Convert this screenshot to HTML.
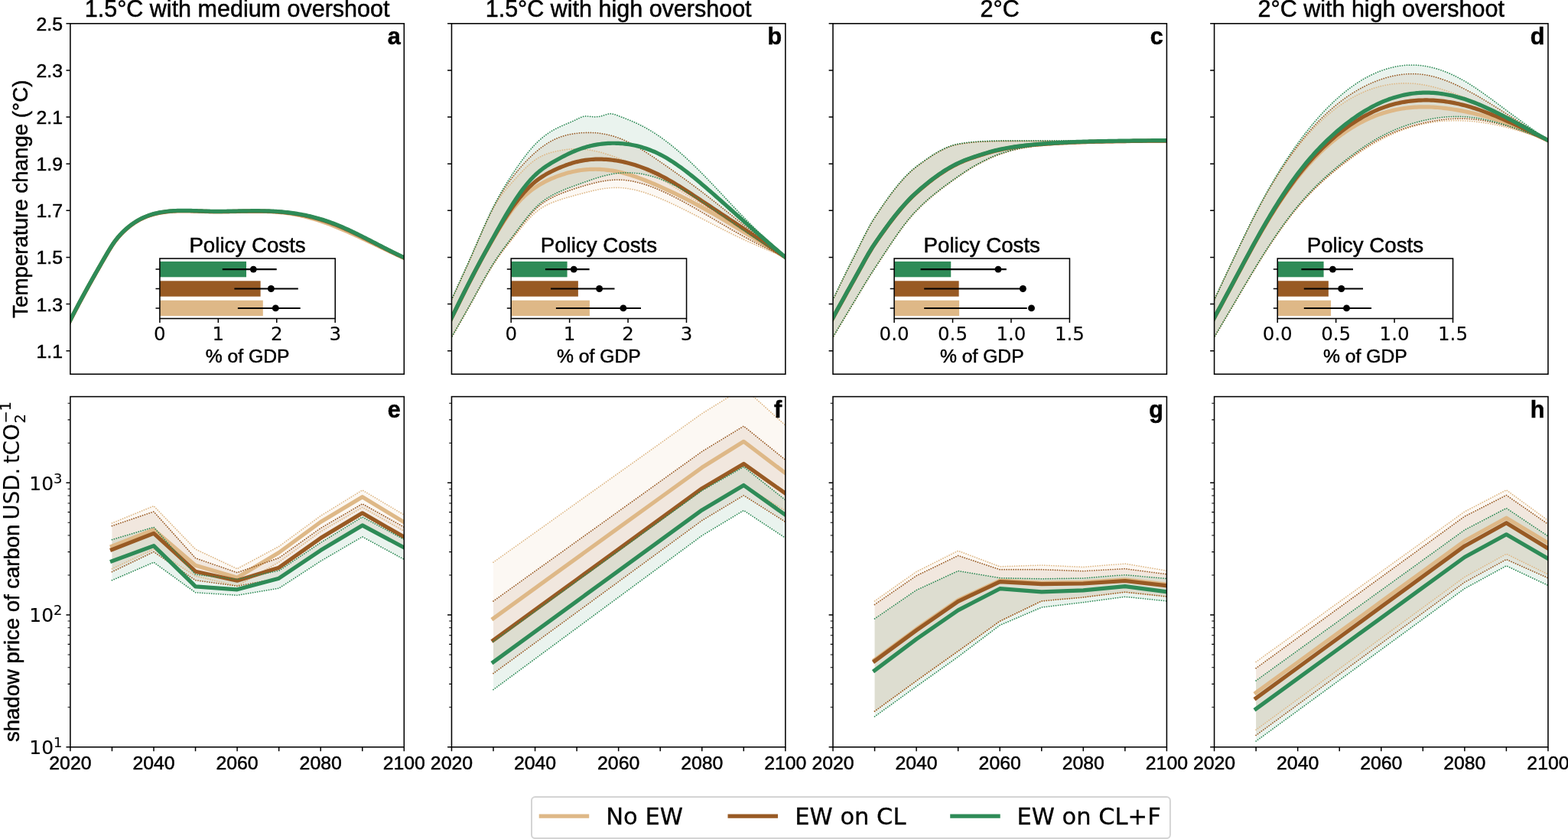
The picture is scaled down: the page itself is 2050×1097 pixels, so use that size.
<!DOCTYPE html>
<html lang="en"><head><meta charset="utf-8"><title>Temperature change and shadow price of carbon</title>
<style>html,body{margin:0;padding:0;background:#fff}body{width:2050px;height:1097px;overflow:hidden}svg{display:block}text{white-space:pre}</style></head><body>
<svg width="2050" height="1097" viewBox="0 0 2050 1097">
<rect width="2050" height="1097" fill="#fff"/>
<defs><clipPath id="ct0"><rect x="91.9" y="30.8" width="436.4" height="458.4"/></clipPath><clipPath id="cb0"><rect x="91.9" y="518.6" width="436.4" height="458.2"/></clipPath><clipPath id="ct1"><rect x="590.45" y="30.8" width="436.4" height="458.4"/></clipPath><clipPath id="cb1"><rect x="590.45" y="518.6" width="436.4" height="458.2"/></clipPath><clipPath id="ct2"><rect x="1089" y="30.8" width="436.4" height="458.4"/></clipPath><clipPath id="cb2"><rect x="1089" y="518.6" width="436.4" height="458.2"/></clipPath><clipPath id="ct3"><rect x="1587.55" y="30.8" width="436.4" height="458.4"/></clipPath><clipPath id="cb3"><rect x="1587.55" y="518.6" width="436.4" height="458.2"/></clipPath></defs>
<g clip-path="url(#ct0)" fill="none">
<polyline points="87.9,426.78 91.9,418.95 93.72,415.39 95.54,411.85 97.36,408.35 99.17,404.87 100.99,401.42 102.81,397.99 104.63,394.58 106.45,391.2 108.27,387.84 110.08,384.49 111.9,381.17 113.72,377.87 115.54,374.59 117.36,371.32 119.18,368.07 120.99,364.83 122.81,361.61 124.63,358.4 126.45,355.21 128.27,352.02 130.09,348.85 131.9,345.69 133.72,342.54 135.54,339.39 137.36,336.25 139.18,333.13 141,330.03 142.81,327 144.63,324.05 146.45,321.21 148.27,318.5 150.09,315.95 151.91,313.54 153.72,311.27 155.54,309.14 157.36,307.11 159.18,305.2 161,303.38 162.81,301.65 164.63,300 166.45,298.42 168.27,296.91 170.09,295.48 171.91,294.11 173.72,292.81 175.54,291.57 177.36,290.4 179.18,289.28 181,288.23 182.82,287.24 184.63,286.3 186.45,285.41 188.27,284.58 190.09,283.8 191.91,283.07 193.73,282.39 195.54,281.75 197.36,281.15 199.18,280.6 201,280.08 202.82,279.61 204.64,279.17 206.45,278.77 208.27,278.4 210.09,278.06 211.91,277.75 213.73,277.47 215.55,277.21 217.37,276.98 219.18,276.78 221,276.59 222.82,276.43 224.64,276.29 226.46,276.17 228.27,276.07 230.09,275.98 231.91,275.91 233.73,275.86 235.55,275.83 237.37,275.8 239.19,275.79 241,275.79 242.82,275.81 244.64,275.83 246.46,275.86 248.28,275.9 250.09,275.94 251.91,275.99 253.73,276.05 255.55,276.11 257.37,276.17 259.19,276.24 261,276.3 262.82,276.37 264.64,276.43 266.46,276.49 268.28,276.55 270.1,276.6 271.91,276.65 273.73,276.69 275.55,276.73 277.37,276.76 279.19,276.78 281.01,276.79 282.82,276.8 284.64,276.81 286.46,276.8 288.28,276.8 290.1,276.79 291.92,276.77 293.74,276.76 295.55,276.74 297.37,276.71 299.19,276.69 301.01,276.66 302.83,276.63 304.64,276.6 306.46,276.56 308.28,276.53 310.1,276.5 311.92,276.47 313.74,276.43 315.55,276.4 317.37,276.37 319.19,276.35 321.01,276.32 322.83,276.3 324.65,276.28 326.46,276.26 328.28,276.25 330.1,276.24 331.92,276.23 333.74,276.24 335.56,276.24 337.38,276.25 339.19,276.27 341.01,276.3 342.83,276.33 344.65,276.37 346.47,276.42 348.28,276.48 350.1,276.55 351.92,276.62 353.74,276.71 355.56,276.81 357.38,276.91 359.19,277.03 361.01,277.16 362.83,277.31 364.65,277.46 366.47,277.63 368.29,277.82 370.11,278.02 371.92,278.23 373.74,278.45 375.56,278.69 377.38,278.95 379.2,279.22 381.01,279.51 382.83,279.81 384.65,280.12 386.47,280.46 388.29,280.8 390.11,281.17 391.92,281.55 393.74,281.94 395.56,282.35 397.38,282.78 399.2,283.22 401.02,283.67 402.83,284.14 404.65,284.63 406.47,285.13 408.29,285.65 410.11,286.18 411.93,286.73 413.75,287.29 415.56,287.86 417.38,288.45 419.2,289.05 421.02,289.66 422.84,290.29 424.65,290.93 426.47,291.58 428.29,292.25 430.11,292.93 431.93,293.62 433.75,294.32 435.56,295.04 437.38,295.76 439.2,296.5 441.02,297.24 442.84,298 444.66,298.76 446.48,299.53 448.29,300.31 450.11,301.1 451.93,301.89 453.75,302.69 455.57,303.49 457.38,304.3 459.2,305.11 461.02,305.93 462.84,306.75 464.66,307.58 466.48,308.41 468.29,309.24 470.11,310.08 471.93,310.92 473.75,311.77 475.57,312.61 477.39,313.47 479.2,314.32 481.02,315.18 482.84,316.03 484.66,316.9 486.48,317.76 488.3,318.62 490.12,319.49 491.93,320.36 493.75,321.23 495.57,322.1 497.39,322.97 499.21,323.84 501.02,324.71 502.84,325.58 504.66,326.45 506.48,327.32 508.3,328.18 510.12,329.04 511.93,329.9 513.75,330.76 515.57,331.61 517.39,332.46 519.21,333.3 521.03,334.14 522.84,334.97 524.66,335.8 526.48,336.61 528.3,337.42 532.3,339.2" stroke="#deb887" stroke-width="5.2" stroke-linejoin="round"/>
<polyline points="87.9,426.63 91.9,418.8 93.72,415.24 95.54,411.7 97.36,408.2 99.17,404.72 100.99,401.27 102.81,397.84 104.63,394.43 106.45,391.05 108.27,387.69 110.08,384.34 111.9,381.02 113.72,377.72 115.54,374.44 117.36,371.17 119.18,367.92 120.99,364.68 122.81,361.46 124.63,358.25 126.45,355.06 128.27,351.87 130.09,348.7 131.9,345.54 133.72,342.39 135.54,339.24 137.36,336.1 139.18,332.98 141,329.88 142.81,326.85 144.63,323.9 146.45,321.06 148.27,318.35 150.09,315.8 151.91,313.39 153.72,311.12 155.54,308.99 157.36,306.96 159.18,305.05 161,303.23 162.81,301.5 164.63,299.85 166.45,298.27 168.27,296.76 170.09,295.33 171.91,293.96 173.72,292.66 175.54,291.42 177.36,290.25 179.18,289.13 181,288.08 182.82,287.09 184.63,286.15 186.45,285.26 188.27,284.43 190.09,283.65 191.91,282.92 193.73,282.24 195.54,281.6 197.36,281 199.18,280.45 201,279.93 202.82,279.46 204.64,279.02 206.45,278.62 208.27,278.25 210.09,277.91 211.91,277.6 213.73,277.32 215.55,277.06 217.37,276.83 219.18,276.63 221,276.44 222.82,276.28 224.64,276.14 226.46,276.02 228.27,275.92 230.09,275.83 231.91,275.76 233.73,275.71 235.55,275.68 237.37,275.65 239.19,275.64 241,275.64 242.82,275.66 244.64,275.68 246.46,275.71 248.28,275.75 250.09,275.79 251.91,275.84 253.73,275.9 255.55,275.96 257.37,276.02 259.19,276.09 261,276.15 262.82,276.22 264.64,276.28 266.46,276.34 268.28,276.4 270.1,276.45 271.91,276.5 273.73,276.54 275.55,276.58 277.37,276.61 279.19,276.63 281.01,276.64 282.82,276.65 284.64,276.66 286.46,276.65 288.28,276.65 290.1,276.64 291.92,276.62 293.74,276.61 295.55,276.58 297.37,276.56 299.19,276.53 301.01,276.51 302.83,276.48 304.64,276.44 306.46,276.41 308.28,276.38 310.1,276.34 311.92,276.31 313.74,276.28 315.55,276.24 317.37,276.21 319.19,276.18 321.01,276.16 322.83,276.13 324.65,276.11 326.46,276.09 328.28,276.07 330.1,276.06 331.92,276.05 333.74,276.05 335.56,276.05 337.38,276.06 339.19,276.07 341.01,276.09 342.83,276.11 344.65,276.14 346.47,276.18 348.28,276.23 350.1,276.28 351.92,276.34 353.74,276.42 355.56,276.5 357.38,276.59 359.19,276.69 361.01,276.8 362.83,276.92 364.65,277.05 366.47,277.19 368.29,277.35 370.11,277.51 371.92,277.69 373.74,277.88 375.56,278.09 377.38,278.3 379.2,278.53 381.01,278.78 382.83,279.03 384.65,279.3 386.47,279.58 388.29,279.88 390.11,280.19 391.92,280.51 393.74,280.85 395.56,281.2 397.38,281.56 399.2,281.94 401.02,282.34 402.83,282.74 404.65,283.17 406.47,283.61 408.29,284.06 410.11,284.53 411.93,285.01 413.75,285.51 415.56,286.02 417.38,286.55 419.2,287.09 421.02,287.65 422.84,288.23 424.65,288.82 426.47,289.43 428.29,290.05 430.11,290.69 431.93,291.34 433.75,292.01 435.56,292.7 437.38,293.41 439.2,294.12 441.02,294.86 442.84,295.6 444.66,296.36 446.48,297.13 448.29,297.92 450.11,298.72 451.93,299.52 453.75,300.34 455.57,301.17 457.38,302.01 459.2,302.85 461.02,303.71 462.84,304.57 464.66,305.45 466.48,306.33 468.29,307.21 470.11,308.1 471.93,309 473.75,309.9 475.57,310.81 477.39,311.73 479.2,312.64 481.02,313.56 482.84,314.48 484.66,315.41 486.48,316.34 488.3,317.26 490.12,318.19 491.93,319.12 493.75,320.05 495.57,320.98 497.39,321.91 499.21,322.84 501.02,323.76 502.84,324.69 504.66,325.61 506.48,326.52 508.3,327.43 510.12,328.34 511.93,329.24 513.75,330.14 515.57,331.03 517.39,331.91 519.21,332.79 521.03,333.66 522.84,334.52 524.66,335.37 526.48,336.21 528.3,337.05 532.3,338.88" stroke="#985a24" stroke-width="5.2" stroke-linejoin="round"/>
<polyline points="87.9,426.28 91.9,418.45 93.72,414.89 95.54,411.35 97.36,407.85 99.17,404.37 100.99,400.92 102.81,397.49 104.63,394.08 106.45,390.7 108.27,387.34 110.08,383.99 111.9,380.67 113.72,377.37 115.54,374.09 117.36,370.82 119.18,367.57 120.99,364.33 122.81,361.11 124.63,357.9 126.45,354.71 128.27,351.52 130.09,348.35 131.9,345.19 133.72,342.04 135.54,338.89 137.36,335.75 139.18,332.63 141,329.53 142.81,326.5 144.63,323.55 146.45,320.71 148.27,318 150.09,315.45 151.91,313.04 153.72,310.77 155.54,308.64 157.36,306.61 159.18,304.7 161,302.88 162.81,301.15 164.63,299.5 166.45,297.92 168.27,296.41 170.09,294.98 171.91,293.61 173.72,292.31 175.54,291.07 177.36,289.9 179.18,288.78 181,287.73 182.82,286.74 184.63,285.8 186.45,284.91 188.27,284.08 190.09,283.3 191.91,282.57 193.73,281.89 195.54,281.25 197.36,280.65 199.18,280.1 201,279.58 202.82,279.11 204.64,278.67 206.45,278.27 208.27,277.9 210.09,277.56 211.91,277.25 213.73,276.97 215.55,276.71 217.37,276.48 219.18,276.28 221,276.09 222.82,275.93 224.64,275.79 226.46,275.67 228.27,275.57 230.09,275.48 231.91,275.41 233.73,275.36 235.55,275.33 237.37,275.3 239.19,275.29 241,275.29 242.82,275.31 244.64,275.33 246.46,275.36 248.28,275.4 250.09,275.44 251.91,275.49 253.73,275.55 255.55,275.61 257.37,275.67 259.19,275.74 261,275.8 262.82,275.87 264.64,275.93 266.46,275.99 268.28,276.05 270.1,276.1 271.91,276.15 273.73,276.19 275.55,276.23 277.37,276.26 279.19,276.28 281.01,276.29 282.82,276.3 284.64,276.31 286.46,276.3 288.28,276.3 290.1,276.29 291.92,276.27 293.74,276.26 295.55,276.23 297.37,276.21 299.19,276.18 301.01,276.16 302.83,276.13 304.64,276.09 306.46,276.06 308.28,276.03 310.1,275.99 311.92,275.96 313.74,275.93 315.55,275.89 317.37,275.86 319.19,275.83 321.01,275.8 322.83,275.78 324.65,275.75 326.46,275.73 328.28,275.72 330.1,275.71 331.92,275.7 333.74,275.69 335.56,275.69 337.38,275.7 339.19,275.71 341.01,275.73 342.83,275.75 344.65,275.78 346.47,275.82 348.28,275.86 350.1,275.91 351.92,275.97 353.74,276.04 355.56,276.12 357.38,276.21 359.19,276.31 361.01,276.41 362.83,276.53 364.65,276.66 366.47,276.8 368.29,276.95 370.11,277.11 371.92,277.28 373.74,277.47 375.56,277.67 377.38,277.88 379.2,278.1 381.01,278.34 382.83,278.58 384.65,278.84 386.47,279.12 388.29,279.41 390.11,279.71 391.92,280.02 393.74,280.35 395.56,280.69 397.38,281.05 399.2,281.42 401.02,281.8 402.83,282.2 404.65,282.61 406.47,283.04 408.29,283.48 410.11,283.94 411.93,284.41 413.75,284.9 415.56,285.41 417.38,285.93 419.2,286.46 421.02,287.01 422.84,287.58 424.65,288.16 426.47,288.76 428.29,289.38 430.11,290.01 431.93,290.66 433.75,291.33 435.56,292.01 437.38,292.71 439.2,293.43 441.02,294.16 442.84,294.9 444.66,295.66 446.48,296.44 448.29,297.22 450.11,298.02 451.93,298.83 453.75,299.65 455.57,300.48 457.38,301.32 459.2,302.18 461.02,303.04 462.84,303.91 464.66,304.79 466.48,305.68 468.29,306.57 470.11,307.47 471.93,308.38 473.75,309.29 475.57,310.21 477.39,311.13 479.2,312.05 481.02,312.98 482.84,313.92 484.66,314.85 486.48,315.79 488.3,316.73 490.12,317.66 491.93,318.6 493.75,319.54 495.57,320.48 497.39,321.42 499.21,322.36 501.02,323.29 502.84,324.22 504.66,325.15 506.48,326.07 508.3,326.99 510.12,327.9 511.93,328.81 513.75,329.72 515.57,330.61 517.39,331.5 519.21,332.38 521.03,333.26 522.84,334.12 524.66,334.98 526.48,335.83 528.3,336.66 532.3,338.5" stroke="#2e8b57" stroke-width="5.2" stroke-linejoin="round"/>
</g>
<g clip-path="url(#ct1)" fill="none">
<polygon points="586.45,400.22 590.45,391.7 593.18,385.89 595.91,380.07 598.63,374.24 601.36,368.37 604.09,362.46 606.82,356.51 609.54,350.49 612.27,344.41 615,338.25 617.73,332 620.45,325.66 623.18,319.27 625.91,312.88 628.63,306.53 631.36,300.28 634.09,294.16 636.82,288.22 639.55,282.52 642.27,277.1 645,272 647.73,267.26 650.46,262.86 653.18,258.76 655.91,254.93 658.64,251.32 661.37,247.9 664.09,244.63 666.82,241.49 669.55,238.42 672.27,235.4 675,232.4 677.73,229.42 680.46,226.5 683.19,223.64 685.91,220.87 688.64,218.22 691.37,215.69 694.1,213.31 696.82,211.11 699.55,209.1 702.28,207.3 705,205.69 707.73,204.26 710.46,202.99 713.19,201.87 715.91,200.88 718.64,200.01 721.37,199.23 724.1,198.53 726.83,197.9 729.55,197.32 732.28,196.79 735.01,196.31 737.74,195.89 740.46,195.53 743.19,195.23 745.92,194.99 748.64,194.82 751.37,194.72 754.1,194.7 756.83,194.75 759.56,194.87 762.28,195.07 765.01,195.33 767.74,195.66 770.46,196.06 773.19,196.52 775.92,197.03 778.65,197.6 781.38,198.23 784.1,198.91 786.83,199.64 789.56,200.42 792.28,201.24 795.01,202.11 797.74,203.02 800.47,203.96 803.19,204.94 805.92,205.95 808.65,207 811.38,208.07 814.11,209.18 816.83,210.31 819.56,211.47 822.29,212.65 825.01,213.87 827.74,215.11 830.47,216.37 833.2,217.67 835.92,218.98 838.65,220.33 841.38,221.7 844.11,223.09 846.84,224.51 849.56,225.95 852.29,227.41 855.02,228.9 857.74,230.41 860.47,231.94 863.2,233.5 865.93,235.08 868.65,236.67 871.38,238.29 874.11,239.92 876.84,241.57 879.56,243.23 882.29,244.91 885.02,246.59 887.75,248.28 890.47,249.98 893.2,251.69 895.93,253.4 898.66,255.11 901.38,256.82 904.11,258.53 906.84,260.24 909.57,261.94 912.29,263.63 915.02,265.32 917.75,267 920.48,268.67 923.2,270.33 925.93,271.97 928.66,273.62 931.39,275.25 934.12,276.88 936.84,278.51 939.57,280.14 942.3,281.76 945.02,283.39 947.75,285.02 950.48,286.65 953.21,288.29 955.93,289.93 958.66,291.59 961.39,293.25 964.12,294.92 966.84,296.6 969.57,298.29 972.3,300 975.03,301.72 977.75,303.46 980.48,305.22 983.21,306.98 985.94,308.76 988.66,310.55 991.39,312.35 994.12,314.16 996.85,315.98 999.57,317.81 1002.3,319.65 1005.03,321.49 1007.76,323.34 1010.48,325.2 1013.21,327.06 1015.94,328.92 1018.67,330.79 1021.39,332.66 1024.12,334.53 1026.85,336.4 1030.85,339.14 1030.85,338.03 1026.85,336.4 1024.12,335.29 1021.39,334.18 1018.67,333.07 1015.94,331.96 1013.21,330.84 1010.48,329.72 1007.76,328.6 1005.03,327.47 1002.3,326.33 999.57,325.19 996.85,324.04 994.12,322.88 991.39,321.71 988.66,320.53 985.94,319.34 983.21,318.14 980.48,316.93 977.75,315.7 975.03,314.46 972.3,313.2 969.57,311.93 966.84,310.64 964.12,309.34 961.39,308.03 958.66,306.7 955.93,305.36 953.21,304.02 950.48,302.66 947.75,301.29 945.02,299.92 942.3,298.53 939.57,297.15 936.84,295.75 934.12,294.35 931.39,292.95 928.66,291.54 925.93,290.13 923.2,288.72 920.48,287.31 917.75,285.9 915.02,284.49 912.29,283.08 909.57,281.68 906.84,280.28 904.11,278.88 901.38,277.5 898.66,276.12 895.93,274.75 893.2,273.39 890.47,272.04 887.75,270.71 885.02,269.39 882.29,268.08 879.56,266.8 876.84,265.53 874.11,264.28 871.38,263.05 868.65,261.84 865.93,260.66 863.2,259.5 860.47,258.37 857.74,257.26 855.02,256.18 852.29,255.14 849.56,254.14 846.84,253.17 844.11,252.25 841.38,251.37 838.65,250.55 835.92,249.77 833.2,249.04 830.47,248.37 827.74,247.77 825.01,247.22 822.29,246.74 819.56,246.32 816.83,245.98 814.11,245.71 811.38,245.51 808.65,245.4 805.92,245.37 803.19,245.41 800.47,245.53 797.74,245.71 795.01,245.97 792.28,246.28 789.56,246.65 786.83,247.07 784.1,247.55 781.38,248.07 778.65,248.62 775.92,249.22 773.19,249.85 770.46,250.5 767.74,251.18 765.01,251.88 762.28,252.6 759.56,253.33 756.83,254.06 754.1,254.8 751.37,255.54 748.64,256.28 745.92,257.04 743.19,257.81 740.46,258.6 737.74,259.41 735.01,260.25 732.28,261.13 729.55,262.04 726.83,263 724.1,264.01 721.37,265.09 718.64,266.25 715.91,267.52 713.19,268.91 710.46,270.43 707.73,272.12 705,273.98 702.28,276.03 699.55,278.3 696.82,280.79 694.1,283.48 691.37,286.35 688.64,289.38 685.91,292.54 683.19,295.8 680.46,299.14 677.73,302.54 675,305.97 672.27,309.4 669.55,312.82 666.82,316.24 664.09,319.68 661.37,323.16 658.64,326.7 655.91,330.32 653.18,334.04 650.46,337.88 647.73,341.86 645,346 642.27,350.31 639.55,354.78 636.82,359.39 634.09,364.1 631.36,368.91 628.63,373.78 625.91,378.7 623.18,383.64 620.45,388.58 617.73,393.5 615,398.38 612.27,403.22 609.54,408.02 606.82,412.79 604.09,417.53 601.36,422.25 598.63,426.95 595.91,431.64 593.18,436.32 590.45,441 586.45,447.86" fill="#deb887" fill-opacity="0.1"/>
<polygon points="586.45,400.11 590.45,391.5 593.18,385.63 595.91,379.75 598.63,373.85 601.36,367.94 604.09,361.99 606.82,356.01 609.54,349.99 612.27,343.92 615,337.79 617.73,331.6 620.45,325.34 623.18,319.05 625.91,312.75 628.63,306.48 631.36,300.27 634.09,294.15 636.82,288.17 639.55,282.34 642.27,276.71 645,271.3 647.73,266.15 650.46,261.24 653.18,256.56 655.91,252.09 658.64,247.82 661.37,243.74 664.09,239.82 666.82,236.05 669.55,232.41 672.27,228.9 675,225.49 677.73,222.19 680.46,218.99 683.19,215.9 685.91,212.92 688.64,210.04 691.37,207.27 694.1,204.6 696.82,202.05 699.55,199.6 702.28,197.26 705,195.03 707.73,192.92 710.46,190.92 713.19,189.03 715.91,187.26 718.64,185.62 721.37,184.09 724.1,182.68 726.83,181.4 729.55,180.24 732.28,179.2 735.01,178.28 737.74,177.46 740.46,176.73 743.19,176.09 745.92,175.54 748.64,175.06 751.37,174.65 754.1,174.3 756.83,174 759.56,173.76 762.28,173.58 765.01,173.45 767.74,173.38 770.46,173.38 773.19,173.43 775.92,173.55 778.65,173.73 781.38,173.97 784.1,174.28 786.83,174.66 789.56,175.11 792.28,175.63 795.01,176.22 797.74,176.88 800.47,177.62 803.19,178.44 805.92,179.33 808.65,180.3 811.38,181.35 814.11,182.47 816.83,183.67 819.56,184.94 822.29,186.27 825.01,187.66 827.74,189.12 830.47,190.62 833.2,192.18 835.92,193.78 838.65,195.43 841.38,197.11 844.11,198.84 846.84,200.59 849.56,202.38 852.29,204.18 855.02,206.02 857.74,207.86 860.47,209.73 863.2,211.6 865.93,213.48 868.65,215.37 871.38,217.27 874.11,219.17 876.84,221.08 879.56,223 882.29,224.93 885.02,226.87 887.75,228.82 890.47,230.78 893.2,232.75 895.93,234.73 898.66,236.72 901.38,238.73 904.11,240.74 906.84,242.77 909.57,244.81 912.29,246.86 915.02,248.92 917.75,251 920.48,253.09 923.2,255.2 925.93,257.31 928.66,259.44 931.39,261.58 934.12,263.72 936.84,265.87 939.57,268.03 942.3,270.2 945.02,272.37 947.75,274.54 950.48,276.72 953.21,278.89 955.93,281.07 958.66,283.25 961.39,285.43 964.12,287.6 966.84,289.77 969.57,291.94 972.3,294.1 975.03,296.25 977.75,298.4 980.48,300.55 983.21,302.68 985.94,304.82 988.66,306.94 991.39,309.07 994.12,311.18 996.85,313.3 999.57,315.41 1002.3,317.52 1005.03,319.62 1007.76,321.73 1010.48,323.83 1013.21,325.93 1015.94,328.02 1018.67,330.12 1021.39,332.21 1024.12,334.31 1026.85,336.4 1030.85,339.47 1030.85,338.31 1026.85,336.4 1024.12,335.1 1021.39,333.8 1018.67,332.5 1015.94,331.19 1013.21,329.89 1010.48,328.57 1007.76,327.25 1005.03,325.93 1002.3,324.6 999.57,323.26 996.85,321.91 994.12,320.55 991.39,319.18 988.66,317.79 985.94,316.4 983.21,314.99 980.48,313.57 977.75,312.13 975.03,310.67 972.3,309.2 969.57,307.71 966.84,306.2 964.12,304.68 961.39,303.14 958.66,301.59 955.93,300.03 953.21,298.45 950.48,296.87 947.75,295.28 945.02,293.68 942.3,292.08 939.57,290.47 936.84,288.86 934.12,287.25 931.39,285.63 928.66,284.02 925.93,282.41 923.2,280.8 920.48,279.2 917.75,277.6 915.02,276.01 912.29,274.43 909.57,272.86 906.84,271.29 904.11,269.75 901.38,268.21 898.66,266.69 895.93,265.19 893.2,263.7 890.47,262.23 887.75,260.79 885.02,259.36 882.29,257.96 879.56,256.58 876.84,255.23 874.11,253.9 871.38,252.61 868.65,251.34 865.93,250.1 863.2,248.9 860.47,247.73 857.74,246.6 855.02,245.5 852.29,244.45 849.56,243.43 846.84,242.47 844.11,241.55 841.38,240.68 838.65,239.87 835.92,239.11 833.2,238.41 830.47,237.77 827.74,237.19 825.01,236.68 822.29,236.23 819.56,235.86 816.83,235.55 814.11,235.32 811.38,235.17 808.65,235.1 805.92,235.11 803.19,235.19 800.47,235.36 797.74,235.59 795.01,235.89 792.28,236.25 789.56,236.67 786.83,237.15 784.1,237.68 781.38,238.26 778.65,238.88 775.92,239.55 773.19,240.25 770.46,240.98 767.74,241.75 765.01,242.54 762.28,243.36 759.56,244.19 756.83,245.04 754.1,245.9 751.37,246.77 748.64,247.65 745.92,248.56 743.19,249.48 740.46,250.44 737.74,251.44 735.01,252.48 732.28,253.56 729.55,254.7 726.83,255.9 724.1,257.17 721.37,258.51 718.64,259.96 715.91,261.52 713.19,263.2 710.46,265.03 707.73,267.02 705,269.18 702.28,271.54 699.55,274.1 696.82,276.88 694.1,279.85 691.37,283 688.64,286.29 685.91,289.69 683.19,293.19 680.46,296.76 677.73,300.37 675,303.99 672.27,307.6 669.55,311.18 666.82,314.75 664.09,318.31 661.37,321.91 658.64,325.55 655.91,329.26 653.18,333.06 650.46,336.97 647.73,341.01 645,345.2 642.27,349.56 639.55,354.07 636.82,358.71 634.09,363.45 631.36,368.29 628.63,373.19 625.91,378.13 623.18,383.09 620.45,388.06 617.73,393 615,397.9 612.27,402.77 609.54,407.6 606.82,412.4 604.09,417.17 601.36,421.92 598.63,426.66 595.91,431.38 593.18,436.09 590.45,440.8 586.45,447.71" fill="#985a24" fill-opacity="0.1"/>
<polygon points="586.45,399.98 590.45,391.3 591.81,388.34 593.18,385.38 594.54,382.41 595.91,379.45 597.27,376.48 598.63,373.51 600,370.53 601.36,367.55 602.72,364.56 604.09,361.57 605.45,358.57 606.82,355.56 608.18,352.54 609.54,349.51 610.91,346.47 612.27,343.42 613.63,340.36 615,337.29 616.36,334.2 617.73,331.1 619.09,327.98 620.45,324.86 621.82,321.72 623.18,318.58 624.54,315.44 625.91,312.31 627.27,309.17 628.63,306.05 630,302.94 631.36,299.84 632.73,296.77 634.09,293.71 635.45,290.68 636.82,287.69 638.18,284.72 639.55,281.79 640.91,278.9 642.27,276.05 643.64,273.25 645,270.5 646.36,267.8 647.73,265.15 649.09,262.56 650.46,260 651.82,257.5 653.18,255.04 654.55,252.62 655.91,250.24 657.27,247.9 658.64,245.6 660,243.33 661.37,241.1 662.73,238.9 664.09,236.72 665.46,234.58 666.82,232.46 668.18,230.36 669.55,228.29 670.91,226.23 672.27,224.2 673.64,222.18 675,220.18 676.37,218.21 677.73,216.25 679.09,214.31 680.46,212.4 681.82,210.51 683.19,208.65 684.55,206.82 685.91,205.02 687.28,203.25 688.64,201.5 690,199.8 691.37,198.13 692.73,196.49 694.1,194.89 695.46,193.33 696.82,191.81 698.19,190.33 699.55,188.9 700.91,187.51 702.28,186.16 703.64,184.86 705,183.6 706.37,182.37 707.73,181.19 709.1,180.05 710.46,178.94 711.82,177.87 713.19,176.84 714.55,175.84 715.91,174.88 717.28,173.95 718.64,173.06 720.01,172.19 721.37,171.35 722.73,170.55 724.1,169.77 725.46,169.02 726.83,168.3 728.19,167.6 729.55,166.93 730.92,166.28 732.28,165.64 733.64,165.02 735.01,164.42 736.37,163.82 737.74,163.23 739.1,162.65 740.46,162.07 741.83,161.49 743.19,160.92 744.55,160.33 745.92,159.75 747.28,159.16 748.64,158.55 750.01,157.94 751.37,157.31 752.74,156.66 754.1,156 755.46,155.32 756.83,154.64 758.19,153.99 759.56,153.4 760.92,152.87 762.28,152.45 763.65,152.15 765.01,151.99 766.37,151.93 767.74,151.97 769.1,152.08 770.46,152.22 771.83,152.39 773.19,152.54 774.56,152.67 775.92,152.76 777.28,152.8 778.65,152.79 780.01,152.74 781.38,152.63 782.74,152.46 784.1,152.24 785.47,151.95 786.83,151.6 788.19,151.19 789.56,150.73 790.92,150.27 792.28,149.81 793.65,149.4 795.01,149.06 796.38,148.82 797.74,148.7 799.1,148.72 800.47,148.88 801.83,149.15 803.19,149.51 804.56,149.95 805.92,150.44 807.29,150.96 808.65,151.5 810.01,152.04 811.38,152.57 812.74,153.1 814.11,153.63 815.47,154.16 816.83,154.69 818.2,155.22 819.56,155.76 820.92,156.3 822.29,156.85 823.65,157.4 825.01,157.97 826.38,158.54 827.74,159.12 829.11,159.72 830.47,160.33 831.83,160.95 833.2,161.59 834.56,162.24 835.92,162.91 837.29,163.59 838.65,164.28 840.02,164.98 841.38,165.7 842.74,166.43 844.11,167.18 845.47,167.94 846.84,168.72 848.2,169.5 849.56,170.31 850.93,171.12 852.29,171.95 853.65,172.8 855.02,173.65 856.38,174.53 857.74,175.41 859.11,176.31 860.47,177.23 861.84,178.16 863.2,179.1 864.56,180.06 865.93,181.03 867.29,182.02 868.65,183.01 870.02,184.03 871.38,185.05 872.75,186.09 874.11,187.15 875.47,188.21 876.84,189.29 878.2,190.38 879.56,191.49 880.93,192.6 882.29,193.73 883.66,194.87 885.02,196.02 886.38,197.19 887.75,198.36 889.11,199.54 890.47,200.74 891.84,201.95 893.2,203.17 894.57,204.39 895.93,205.63 897.29,206.88 898.66,208.14 900.02,209.41 901.38,210.69 902.75,211.97 904.11,213.27 905.48,214.57 906.84,215.89 908.2,217.21 909.57,218.54 910.93,219.88 912.29,221.23 913.66,222.59 915.02,223.95 916.39,225.32 917.75,226.7 919.11,228.09 920.48,229.48 921.84,230.88 923.2,232.28 924.57,233.69 925.93,235.11 927.3,236.53 928.66,237.96 930.02,239.39 931.39,240.83 932.75,242.27 934.12,243.71 935.48,245.16 936.84,246.6 938.21,248.06 939.57,249.51 940.93,250.96 942.3,252.42 943.66,253.88 945.02,255.33 946.39,256.79 947.75,258.25 949.12,259.71 950.48,261.17 951.84,262.62 953.21,264.08 954.57,265.53 955.93,266.98 957.3,268.43 958.66,269.87 960.03,271.32 961.39,272.76 962.75,274.19 964.12,275.62 965.48,277.05 966.84,278.47 968.21,279.89 969.57,281.3 970.94,282.7 972.3,284.1 973.66,285.49 975.03,286.88 976.39,288.26 977.75,289.63 979.12,291 980.48,292.36 981.85,293.72 983.21,295.07 984.57,296.41 985.94,297.75 987.3,299.09 988.66,300.42 990.03,301.74 991.39,303.07 992.76,304.38 994.12,305.7 995.48,307 996.85,308.31 998.21,309.61 999.57,310.91 1000.94,312.2 1002.3,313.5 1003.67,314.78 1005.03,316.07 1006.39,317.35 1007.76,318.64 1009.12,319.91 1010.48,321.19 1011.85,322.46 1013.21,323.74 1014.58,325.01 1015.94,326.28 1017.3,327.55 1018.67,328.81 1020.03,330.08 1021.39,331.34 1022.76,332.61 1024.12,333.87 1025.49,335.14 1026.85,336.4 1030.85,340.11 1030.85,338.91 1026.85,336.4 1024.12,334.69 1021.39,332.98 1018.67,331.27 1015.94,329.55 1013.21,327.84 1010.48,326.11 1007.76,324.39 1005.03,322.66 1002.3,320.92 999.57,319.18 996.85,317.43 994.12,315.67 991.39,313.9 988.66,312.12 985.94,310.33 983.21,308.53 980.48,306.72 977.75,304.89 975.03,303.05 972.3,301.2 969.57,299.33 966.84,297.45 964.12,295.56 961.39,293.66 958.66,291.75 955.93,289.83 953.21,287.91 950.48,285.99 947.75,284.07 945.02,282.14 942.3,280.23 939.57,278.31 936.84,276.41 934.12,274.51 931.39,272.62 928.66,270.74 925.93,268.88 923.2,267.04 920.48,265.21 917.75,263.4 915.02,261.61 912.29,259.85 909.57,258.11 906.84,256.4 904.11,254.71 901.38,253.06 898.66,251.44 895.93,249.85 893.2,248.3 890.47,246.78 887.75,245.31 885.02,243.87 882.29,242.48 879.56,241.14 876.84,239.84 874.11,238.58 871.38,237.38 868.65,236.23 865.93,235.14 863.2,234.1 860.47,233.12 857.74,232.19 855.02,231.33 852.29,230.52 849.56,229.78 846.84,229.09 844.11,228.47 841.38,227.91 838.65,227.42 835.92,226.99 833.2,226.62 830.47,226.32 827.74,226.09 825.01,225.93 822.29,225.83 819.56,225.8 816.83,225.85 814.11,225.96 811.38,226.14 808.65,226.4 805.92,226.73 803.19,227.13 800.47,227.59 797.74,228.12 795.01,228.7 792.28,229.34 789.56,230.02 786.83,230.76 784.1,231.53 781.38,232.35 778.65,233.2 775.92,234.08 773.19,234.99 770.46,235.92 767.74,236.87 765.01,237.84 762.28,238.82 759.56,239.81 756.83,240.81 754.1,241.8 751.37,242.79 748.64,243.79 745.92,244.8 743.19,245.83 740.46,246.88 737.74,247.97 735.01,249.1 732.28,250.28 729.55,251.51 726.83,252.8 724.1,254.16 721.37,255.61 718.64,257.16 715.91,258.82 713.19,260.61 710.46,262.54 707.73,264.63 705,266.89 702.28,269.35 699.55,272 696.82,274.86 694.1,277.92 691.37,281.14 688.64,284.51 685.91,287.98 683.19,291.55 680.46,295.18 677.73,298.85 675,302.53 672.27,306.2 669.55,309.84 666.82,313.46 664.09,317.08 661.37,320.72 658.64,324.42 655.91,328.17 653.18,332.02 650.46,335.98 647.73,340.06 645,344.3 642.27,348.7 639.55,353.26 636.82,357.94 634.09,362.73 631.36,367.6 628.63,372.54 625.91,377.52 623.18,382.52 620.45,387.52 617.73,392.5 615,397.44 612.27,402.33 609.54,407.2 606.82,412.03 604.09,416.83 601.36,421.61 598.63,426.37 595.91,431.12 593.18,435.86 590.45,440.6 586.45,447.55" fill="#2e8b57" fill-opacity="0.1"/>
<polyline points="586.45,400.22 590.45,391.7 593.18,385.89 595.91,380.07 598.63,374.24 601.36,368.37 604.09,362.46 606.82,356.51 609.54,350.49 612.27,344.41 615,338.25 617.73,332 620.45,325.66 623.18,319.27 625.91,312.88 628.63,306.53 631.36,300.28 634.09,294.16 636.82,288.22 639.55,282.52 642.27,277.1 645,272 647.73,267.26 650.46,262.86 653.18,258.76 655.91,254.93 658.64,251.32 661.37,247.9 664.09,244.63 666.82,241.49 669.55,238.42 672.27,235.4 675,232.4 677.73,229.42 680.46,226.5 683.19,223.64 685.91,220.87 688.64,218.22 691.37,215.69 694.1,213.31 696.82,211.11 699.55,209.1 702.28,207.3 705,205.69 707.73,204.26 710.46,202.99 713.19,201.87 715.91,200.88 718.64,200.01 721.37,199.23 724.1,198.53 726.83,197.9 729.55,197.32 732.28,196.79 735.01,196.31 737.74,195.89 740.46,195.53 743.19,195.23 745.92,194.99 748.64,194.82 751.37,194.72 754.1,194.7 756.83,194.75 759.56,194.87 762.28,195.07 765.01,195.33 767.74,195.66 770.46,196.06 773.19,196.52 775.92,197.03 778.65,197.6 781.38,198.23 784.1,198.91 786.83,199.64 789.56,200.42 792.28,201.24 795.01,202.11 797.74,203.02 800.47,203.96 803.19,204.94 805.92,205.95 808.65,207 811.38,208.07 814.11,209.18 816.83,210.31 819.56,211.47 822.29,212.65 825.01,213.87 827.74,215.11 830.47,216.37 833.2,217.67 835.92,218.98 838.65,220.33 841.38,221.7 844.11,223.09 846.84,224.51 849.56,225.95 852.29,227.41 855.02,228.9 857.74,230.41 860.47,231.94 863.2,233.5 865.93,235.08 868.65,236.67 871.38,238.29 874.11,239.92 876.84,241.57 879.56,243.23 882.29,244.91 885.02,246.59 887.75,248.28 890.47,249.98 893.2,251.69 895.93,253.4 898.66,255.11 901.38,256.82 904.11,258.53 906.84,260.24 909.57,261.94 912.29,263.63 915.02,265.32 917.75,267 920.48,268.67 923.2,270.33 925.93,271.97 928.66,273.62 931.39,275.25 934.12,276.88 936.84,278.51 939.57,280.14 942.3,281.76 945.02,283.39 947.75,285.02 950.48,286.65 953.21,288.29 955.93,289.93 958.66,291.59 961.39,293.25 964.12,294.92 966.84,296.6 969.57,298.29 972.3,300 975.03,301.72 977.75,303.46 980.48,305.22 983.21,306.98 985.94,308.76 988.66,310.55 991.39,312.35 994.12,314.16 996.85,315.98 999.57,317.81 1002.3,319.65 1005.03,321.49 1007.76,323.34 1010.48,325.2 1013.21,327.06 1015.94,328.92 1018.67,330.79 1021.39,332.66 1024.12,334.53 1026.85,336.4 1030.85,339.14" stroke="#deb887" stroke-width="1.75" stroke-dasharray="0.05 2.97" stroke-dashoffset="-0.3" stroke-linecap="round"/>
<polyline points="586.45,447.86 590.45,441 593.18,436.32 595.91,431.64 598.63,426.95 601.36,422.25 604.09,417.53 606.82,412.79 609.54,408.02 612.27,403.22 615,398.38 617.73,393.5 620.45,388.58 623.18,383.64 625.91,378.7 628.63,373.78 631.36,368.91 634.09,364.1 636.82,359.39 639.55,354.78 642.27,350.31 645,346 647.73,341.86 650.46,337.88 653.18,334.04 655.91,330.32 658.64,326.7 661.37,323.16 664.09,319.68 666.82,316.24 669.55,312.82 672.27,309.4 675,305.97 677.73,302.54 680.46,299.14 683.19,295.8 685.91,292.54 688.64,289.38 691.37,286.35 694.1,283.48 696.82,280.79 699.55,278.3 702.28,276.03 705,273.98 707.73,272.12 710.46,270.43 713.19,268.91 715.91,267.52 718.64,266.25 721.37,265.09 724.1,264.01 726.83,263 729.55,262.04 732.28,261.13 735.01,260.25 737.74,259.41 740.46,258.6 743.19,257.81 745.92,257.04 748.64,256.28 751.37,255.54 754.1,254.8 756.83,254.06 759.56,253.33 762.28,252.6 765.01,251.88 767.74,251.18 770.46,250.5 773.19,249.85 775.92,249.22 778.65,248.62 781.38,248.07 784.1,247.55 786.83,247.07 789.56,246.65 792.28,246.28 795.01,245.97 797.74,245.71 800.47,245.53 803.19,245.41 805.92,245.37 808.65,245.4 811.38,245.51 814.11,245.71 816.83,245.98 819.56,246.32 822.29,246.74 825.01,247.22 827.74,247.77 830.47,248.37 833.2,249.04 835.92,249.77 838.65,250.55 841.38,251.37 844.11,252.25 846.84,253.17 849.56,254.14 852.29,255.14 855.02,256.18 857.74,257.26 860.47,258.37 863.2,259.5 865.93,260.66 868.65,261.84 871.38,263.05 874.11,264.28 876.84,265.53 879.56,266.8 882.29,268.08 885.02,269.39 887.75,270.71 890.47,272.04 893.2,273.39 895.93,274.75 898.66,276.12 901.38,277.5 904.11,278.88 906.84,280.28 909.57,281.68 912.29,283.08 915.02,284.49 917.75,285.9 920.48,287.31 923.2,288.72 925.93,290.13 928.66,291.54 931.39,292.95 934.12,294.35 936.84,295.75 939.57,297.15 942.3,298.53 945.02,299.92 947.75,301.29 950.48,302.66 953.21,304.02 955.93,305.36 958.66,306.7 961.39,308.03 964.12,309.34 966.84,310.64 969.57,311.93 972.3,313.2 975.03,314.46 977.75,315.7 980.48,316.93 983.21,318.14 985.94,319.34 988.66,320.53 991.39,321.71 994.12,322.88 996.85,324.04 999.57,325.19 1002.3,326.33 1005.03,327.47 1007.76,328.6 1010.48,329.72 1013.21,330.84 1015.94,331.96 1018.67,333.07 1021.39,334.18 1024.12,335.29 1026.85,336.4 1030.85,338.03" stroke="#deb887" stroke-width="1.75" stroke-dasharray="0.05 2.97" stroke-dashoffset="-0.3" stroke-linecap="round"/>
<polyline points="586.45,423.88 590.45,415.8 593.18,410.29 595.91,404.79 598.63,399.3 601.36,393.82 604.09,388.37 606.82,382.94 609.54,377.55 612.27,372.19 615,366.87 617.73,361.6 620.45,356.38 623.18,351.22 625.91,346.11 628.63,341.06 631.36,336.06 634.09,331.13 636.82,326.25 639.55,321.44 642.27,316.69 645,312 647.73,307.38 650.46,302.83 653.18,298.38 655.91,294.03 658.64,289.8 661.37,285.69 664.09,281.72 666.82,277.91 669.55,274.27 672.27,270.8 675,267.52 677.73,264.43 680.46,261.51 683.19,258.76 685.91,256.16 688.64,253.72 691.37,251.42 694.1,249.26 696.82,247.22 699.55,245.3 702.28,243.49 705,241.78 707.73,240.18 710.46,238.66 713.19,237.24 715.91,235.89 718.64,234.62 721.37,233.42 724.1,232.28 726.83,231.2 729.55,230.17 732.28,229.2 735.01,228.28 737.74,227.41 740.46,226.6 743.19,225.85 745.92,225.15 748.64,224.51 751.37,223.93 754.1,223.4 756.83,222.93 759.56,222.53 762.28,222.18 765.01,221.88 767.74,221.65 770.46,221.47 773.19,221.35 775.92,221.28 778.65,221.27 781.38,221.32 784.1,221.42 786.83,221.57 789.56,221.78 792.28,222.04 795.01,222.36 797.74,222.72 800.47,223.14 803.19,223.61 805.92,224.13 808.65,224.7 811.38,225.32 814.11,225.99 816.83,226.71 819.56,227.46 822.29,228.27 825.01,229.11 827.74,229.99 830.47,230.91 833.2,231.86 835.92,232.85 838.65,233.87 841.38,234.91 844.11,235.99 846.84,237.08 849.56,238.21 852.29,239.35 855.02,240.51 857.74,241.69 860.47,242.89 863.2,244.1 865.93,245.32 868.65,246.56 871.38,247.8 874.11,249.06 876.84,250.34 879.56,251.62 882.29,252.92 885.02,254.23 887.75,255.56 890.47,256.9 893.2,258.25 895.93,259.62 898.66,261 901.38,262.4 904.11,263.81 906.84,265.24 909.57,266.68 912.29,268.14 915.02,269.61 917.75,271.1 920.48,272.61 923.2,274.13 925.93,275.66 928.66,277.21 931.39,278.77 934.12,280.34 936.84,281.93 939.57,283.53 942.3,285.13 945.02,286.74 947.75,288.37 950.48,290 953.21,291.63 955.93,293.27 958.66,294.92 961.39,296.57 964.12,298.23 966.84,299.88 969.57,301.54 972.3,303.2 975.03,304.86 977.75,306.52 980.48,308.18 983.21,309.84 985.94,311.5 988.66,313.16 991.39,314.82 994.12,316.48 996.85,318.14 999.57,319.8 1002.3,321.46 1005.03,323.12 1007.76,324.78 1010.48,326.44 1013.21,328.1 1015.94,329.76 1018.67,331.42 1021.39,333.08 1024.12,334.74 1026.85,336.4 1030.85,338.83" stroke="#deb887" stroke-width="5.2" stroke-linejoin="round"/>
<polyline points="586.45,400.11 590.45,391.5 593.18,385.63 595.91,379.75 598.63,373.85 601.36,367.94 604.09,361.99 606.82,356.01 609.54,349.99 612.27,343.92 615,337.79 617.73,331.6 620.45,325.34 623.18,319.05 625.91,312.75 628.63,306.48 631.36,300.27 634.09,294.15 636.82,288.17 639.55,282.34 642.27,276.71 645,271.3 647.73,266.15 650.46,261.24 653.18,256.56 655.91,252.09 658.64,247.82 661.37,243.74 664.09,239.82 666.82,236.05 669.55,232.41 672.27,228.9 675,225.49 677.73,222.19 680.46,218.99 683.19,215.9 685.91,212.92 688.64,210.04 691.37,207.27 694.1,204.6 696.82,202.05 699.55,199.6 702.28,197.26 705,195.03 707.73,192.92 710.46,190.92 713.19,189.03 715.91,187.26 718.64,185.62 721.37,184.09 724.1,182.68 726.83,181.4 729.55,180.24 732.28,179.2 735.01,178.28 737.74,177.46 740.46,176.73 743.19,176.09 745.92,175.54 748.64,175.06 751.37,174.65 754.1,174.3 756.83,174 759.56,173.76 762.28,173.58 765.01,173.45 767.74,173.38 770.46,173.38 773.19,173.43 775.92,173.55 778.65,173.73 781.38,173.97 784.1,174.28 786.83,174.66 789.56,175.11 792.28,175.63 795.01,176.22 797.74,176.88 800.47,177.62 803.19,178.44 805.92,179.33 808.65,180.3 811.38,181.35 814.11,182.47 816.83,183.67 819.56,184.94 822.29,186.27 825.01,187.66 827.74,189.12 830.47,190.62 833.2,192.18 835.92,193.78 838.65,195.43 841.38,197.11 844.11,198.84 846.84,200.59 849.56,202.38 852.29,204.18 855.02,206.02 857.74,207.86 860.47,209.73 863.2,211.6 865.93,213.48 868.65,215.37 871.38,217.27 874.11,219.17 876.84,221.08 879.56,223 882.29,224.93 885.02,226.87 887.75,228.82 890.47,230.78 893.2,232.75 895.93,234.73 898.66,236.72 901.38,238.73 904.11,240.74 906.84,242.77 909.57,244.81 912.29,246.86 915.02,248.92 917.75,251 920.48,253.09 923.2,255.2 925.93,257.31 928.66,259.44 931.39,261.58 934.12,263.72 936.84,265.87 939.57,268.03 942.3,270.2 945.02,272.37 947.75,274.54 950.48,276.72 953.21,278.89 955.93,281.07 958.66,283.25 961.39,285.43 964.12,287.6 966.84,289.77 969.57,291.94 972.3,294.1 975.03,296.25 977.75,298.4 980.48,300.55 983.21,302.68 985.94,304.82 988.66,306.94 991.39,309.07 994.12,311.18 996.85,313.3 999.57,315.41 1002.3,317.52 1005.03,319.62 1007.76,321.73 1010.48,323.83 1013.21,325.93 1015.94,328.02 1018.67,330.12 1021.39,332.21 1024.12,334.31 1026.85,336.4 1030.85,339.47" stroke="#985a24" stroke-width="1.75" stroke-dasharray="0.05 2.97" stroke-dashoffset="-0.6" stroke-linecap="round"/>
<polyline points="586.45,447.71 590.45,440.8 593.18,436.09 595.91,431.38 598.63,426.66 601.36,421.92 604.09,417.17 606.82,412.4 609.54,407.6 612.27,402.77 615,397.9 617.73,393 620.45,388.06 623.18,383.09 625.91,378.13 628.63,373.19 631.36,368.29 634.09,363.45 636.82,358.71 639.55,354.07 642.27,349.56 645,345.2 647.73,341.01 650.46,336.97 653.18,333.06 655.91,329.26 658.64,325.55 661.37,321.91 664.09,318.31 666.82,314.75 669.55,311.18 672.27,307.6 675,303.99 677.73,300.37 680.46,296.76 683.19,293.19 685.91,289.69 688.64,286.29 691.37,283 694.1,279.85 696.82,276.88 699.55,274.1 702.28,271.54 705,269.18 707.73,267.02 710.46,265.03 713.19,263.2 715.91,261.52 718.64,259.96 721.37,258.51 724.1,257.17 726.83,255.9 729.55,254.7 732.28,253.56 735.01,252.48 737.74,251.44 740.46,250.44 743.19,249.48 745.92,248.56 748.64,247.65 751.37,246.77 754.1,245.9 756.83,245.04 759.56,244.19 762.28,243.36 765.01,242.54 767.74,241.75 770.46,240.98 773.19,240.25 775.92,239.55 778.65,238.88 781.38,238.26 784.1,237.68 786.83,237.15 789.56,236.67 792.28,236.25 795.01,235.89 797.74,235.59 800.47,235.36 803.19,235.19 805.92,235.11 808.65,235.1 811.38,235.17 814.11,235.32 816.83,235.55 819.56,235.86 822.29,236.23 825.01,236.68 827.74,237.19 830.47,237.77 833.2,238.41 835.92,239.11 838.65,239.87 841.38,240.68 844.11,241.55 846.84,242.47 849.56,243.43 852.29,244.45 855.02,245.5 857.74,246.6 860.47,247.73 863.2,248.9 865.93,250.1 868.65,251.34 871.38,252.61 874.11,253.9 876.84,255.23 879.56,256.58 882.29,257.96 885.02,259.36 887.75,260.79 890.47,262.23 893.2,263.7 895.93,265.19 898.66,266.69 901.38,268.21 904.11,269.75 906.84,271.29 909.57,272.86 912.29,274.43 915.02,276.01 917.75,277.6 920.48,279.2 923.2,280.8 925.93,282.41 928.66,284.02 931.39,285.63 934.12,287.25 936.84,288.86 939.57,290.47 942.3,292.08 945.02,293.68 947.75,295.28 950.48,296.87 953.21,298.45 955.93,300.03 958.66,301.59 961.39,303.14 964.12,304.68 966.84,306.2 969.57,307.71 972.3,309.2 975.03,310.67 977.75,312.13 980.48,313.57 983.21,314.99 985.94,316.4 988.66,317.79 991.39,319.18 994.12,320.55 996.85,321.91 999.57,323.26 1002.3,324.6 1005.03,325.93 1007.76,327.25 1010.48,328.57 1013.21,329.89 1015.94,331.19 1018.67,332.5 1021.39,333.8 1024.12,335.1 1026.85,336.4 1030.85,338.31" stroke="#985a24" stroke-width="1.75" stroke-dasharray="0.05 2.97" stroke-dashoffset="-0.6" stroke-linecap="round"/>
<polyline points="586.45,423.71 590.45,415.6 593.18,410.07 595.91,404.55 598.63,399.03 601.36,393.54 604.09,388.06 606.82,382.61 609.54,377.2 612.27,371.82 615,366.49 617.73,361.2 620.45,355.97 623.18,350.79 625.91,345.66 628.63,340.59 631.36,335.56 634.09,330.59 636.82,325.67 639.55,320.8 642.27,315.97 645,311.2 647.73,306.48 650.46,301.81 653.18,297.21 655.91,292.69 658.64,288.26 661.37,283.93 664.09,279.71 666.82,275.61 669.55,271.63 672.27,267.8 675,264.12 677.73,260.58 680.46,257.2 683.19,253.97 685.91,250.89 688.64,247.96 691.37,245.19 694.1,242.57 696.82,240.11 699.55,237.8 702.28,235.65 705,233.64 707.73,231.76 710.46,230 713.19,228.36 715.91,226.82 718.64,225.36 721.37,223.98 724.1,222.66 726.83,221.4 729.55,220.18 732.28,219.01 735.01,217.89 737.74,216.82 740.46,215.8 743.19,214.83 745.92,213.93 748.64,213.09 751.37,212.31 754.1,211.6 756.83,210.96 759.56,210.39 762.28,209.88 765.01,209.44 767.74,209.07 770.46,208.76 773.19,208.52 775.92,208.33 778.65,208.21 781.38,208.15 784.1,208.14 786.83,208.19 789.56,208.3 792.28,208.46 795.01,208.67 797.74,208.94 800.47,209.26 803.19,209.62 805.92,210.04 808.65,210.5 811.38,211.01 814.11,211.56 816.83,212.16 819.56,212.81 822.29,213.5 825.01,214.24 827.74,215.03 830.47,215.85 833.2,216.73 835.92,217.65 838.65,218.61 841.38,219.62 844.11,220.68 846.84,221.77 849.56,222.92 852.29,224.11 855.02,225.34 857.74,226.61 860.47,227.94 863.2,229.3 865.93,230.71 868.65,232.16 871.38,233.65 874.11,235.18 876.84,236.74 879.56,238.33 882.29,239.96 885.02,241.61 887.75,243.29 890.47,244.99 893.2,246.71 895.93,248.45 898.66,250.21 901.38,251.99 904.11,253.77 906.84,255.57 909.57,257.37 912.29,259.18 915.02,260.99 917.75,262.8 920.48,264.61 923.2,266.42 925.93,268.23 928.66,270.04 931.39,271.84 934.12,273.65 936.84,275.46 939.57,277.27 942.3,279.08 945.02,280.88 947.75,282.7 950.48,284.51 953.21,286.32 955.93,288.14 958.66,289.96 961.39,291.78 964.12,293.6 966.84,295.43 969.57,297.26 972.3,299.1 975.03,300.94 977.75,302.78 980.48,304.63 983.21,306.48 985.94,308.33 988.66,310.19 991.39,312.05 994.12,313.91 996.85,315.78 999.57,317.65 1002.3,319.52 1005.03,321.39 1007.76,323.26 1010.48,325.13 1013.21,327.01 1015.94,328.89 1018.67,330.76 1021.39,332.64 1024.12,334.52 1026.85,336.4 1030.85,339.16" stroke="#985a24" stroke-width="5.2" stroke-linejoin="round"/>
<polyline points="586.45,399.98 590.45,391.3 591.81,388.34 593.18,385.38 594.54,382.41 595.91,379.45 597.27,376.48 598.63,373.51 600,370.53 601.36,367.55 602.72,364.56 604.09,361.57 605.45,358.57 606.82,355.56 608.18,352.54 609.54,349.51 610.91,346.47 612.27,343.42 613.63,340.36 615,337.29 616.36,334.2 617.73,331.1 619.09,327.98 620.45,324.86 621.82,321.72 623.18,318.58 624.54,315.44 625.91,312.31 627.27,309.17 628.63,306.05 630,302.94 631.36,299.84 632.73,296.77 634.09,293.71 635.45,290.68 636.82,287.69 638.18,284.72 639.55,281.79 640.91,278.9 642.27,276.05 643.64,273.25 645,270.5 646.36,267.8 647.73,265.15 649.09,262.56 650.46,260 651.82,257.5 653.18,255.04 654.55,252.62 655.91,250.24 657.27,247.9 658.64,245.6 660,243.33 661.37,241.1 662.73,238.9 664.09,236.72 665.46,234.58 666.82,232.46 668.18,230.36 669.55,228.29 670.91,226.23 672.27,224.2 673.64,222.18 675,220.18 676.37,218.21 677.73,216.25 679.09,214.31 680.46,212.4 681.82,210.51 683.19,208.65 684.55,206.82 685.91,205.02 687.28,203.25 688.64,201.5 690,199.8 691.37,198.13 692.73,196.49 694.1,194.89 695.46,193.33 696.82,191.81 698.19,190.33 699.55,188.9 700.91,187.51 702.28,186.16 703.64,184.86 705,183.6 706.37,182.37 707.73,181.19 709.1,180.05 710.46,178.94 711.82,177.87 713.19,176.84 714.55,175.84 715.91,174.88 717.28,173.95 718.64,173.06 720.01,172.19 721.37,171.35 722.73,170.55 724.1,169.77 725.46,169.02 726.83,168.3 728.19,167.6 729.55,166.93 730.92,166.28 732.28,165.64 733.64,165.02 735.01,164.42 736.37,163.82 737.74,163.23 739.1,162.65 740.46,162.07 741.83,161.49 743.19,160.92 744.55,160.33 745.92,159.75 747.28,159.16 748.64,158.55 750.01,157.94 751.37,157.31 752.74,156.66 754.1,156 755.46,155.32 756.83,154.64 758.19,153.99 759.56,153.4 760.92,152.87 762.28,152.45 763.65,152.15 765.01,151.99 766.37,151.93 767.74,151.97 769.1,152.08 770.46,152.22 771.83,152.39 773.19,152.54 774.56,152.67 775.92,152.76 777.28,152.8 778.65,152.79 780.01,152.74 781.38,152.63 782.74,152.46 784.1,152.24 785.47,151.95 786.83,151.6 788.19,151.19 789.56,150.73 790.92,150.27 792.28,149.81 793.65,149.4 795.01,149.06 796.38,148.82 797.74,148.7 799.1,148.72 800.47,148.88 801.83,149.15 803.19,149.51 804.56,149.95 805.92,150.44 807.29,150.96 808.65,151.5 810.01,152.04 811.38,152.57 812.74,153.1 814.11,153.63 815.47,154.16 816.83,154.69 818.2,155.22 819.56,155.76 820.92,156.3 822.29,156.85 823.65,157.4 825.01,157.97 826.38,158.54 827.74,159.12 829.11,159.72 830.47,160.33 831.83,160.95 833.2,161.59 834.56,162.24 835.92,162.91 837.29,163.59 838.65,164.28 840.02,164.98 841.38,165.7 842.74,166.43 844.11,167.18 845.47,167.94 846.84,168.72 848.2,169.5 849.56,170.31 850.93,171.12 852.29,171.95 853.65,172.8 855.02,173.65 856.38,174.53 857.74,175.41 859.11,176.31 860.47,177.23 861.84,178.16 863.2,179.1 864.56,180.06 865.93,181.03 867.29,182.02 868.65,183.01 870.02,184.03 871.38,185.05 872.75,186.09 874.11,187.15 875.47,188.21 876.84,189.29 878.2,190.38 879.56,191.49 880.93,192.6 882.29,193.73 883.66,194.87 885.02,196.02 886.38,197.19 887.75,198.36 889.11,199.54 890.47,200.74 891.84,201.95 893.2,203.17 894.57,204.39 895.93,205.63 897.29,206.88 898.66,208.14 900.02,209.41 901.38,210.69 902.75,211.97 904.11,213.27 905.48,214.57 906.84,215.89 908.2,217.21 909.57,218.54 910.93,219.88 912.29,221.23 913.66,222.59 915.02,223.95 916.39,225.32 917.75,226.7 919.11,228.09 920.48,229.48 921.84,230.88 923.2,232.28 924.57,233.69 925.93,235.11 927.3,236.53 928.66,237.96 930.02,239.39 931.39,240.83 932.75,242.27 934.12,243.71 935.48,245.16 936.84,246.6 938.21,248.06 939.57,249.51 940.93,250.96 942.3,252.42 943.66,253.88 945.02,255.33 946.39,256.79 947.75,258.25 949.12,259.71 950.48,261.17 951.84,262.62 953.21,264.08 954.57,265.53 955.93,266.98 957.3,268.43 958.66,269.87 960.03,271.32 961.39,272.76 962.75,274.19 964.12,275.62 965.48,277.05 966.84,278.47 968.21,279.89 969.57,281.3 970.94,282.7 972.3,284.1 973.66,285.49 975.03,286.88 976.39,288.26 977.75,289.63 979.12,291 980.48,292.36 981.85,293.72 983.21,295.07 984.57,296.41 985.94,297.75 987.3,299.09 988.66,300.42 990.03,301.74 991.39,303.07 992.76,304.38 994.12,305.7 995.48,307 996.85,308.31 998.21,309.61 999.57,310.91 1000.94,312.2 1002.3,313.5 1003.67,314.78 1005.03,316.07 1006.39,317.35 1007.76,318.64 1009.12,319.91 1010.48,321.19 1011.85,322.46 1013.21,323.74 1014.58,325.01 1015.94,326.28 1017.3,327.55 1018.67,328.81 1020.03,330.08 1021.39,331.34 1022.76,332.61 1024.12,333.87 1025.49,335.14 1026.85,336.4 1030.85,340.11" stroke="#2e8b57" stroke-width="1.75" stroke-dasharray="0.05 2.97" stroke-dashoffset="0" stroke-linecap="round"/>
<polyline points="586.45,447.55 590.45,440.6 593.18,435.86 595.91,431.12 598.63,426.37 601.36,421.61 604.09,416.83 606.82,412.03 609.54,407.2 612.27,402.33 615,397.44 617.73,392.5 620.45,387.52 623.18,382.52 625.91,377.52 628.63,372.54 631.36,367.6 634.09,362.73 636.82,357.94 639.55,353.26 642.27,348.7 645,344.3 647.73,340.06 650.46,335.98 653.18,332.02 655.91,328.17 658.64,324.42 661.37,320.72 664.09,317.08 666.82,313.46 669.55,309.84 672.27,306.2 675,302.53 677.73,298.85 680.46,295.18 683.19,291.55 685.91,287.98 688.64,284.51 691.37,281.14 694.1,277.92 696.82,274.86 699.55,272 702.28,269.35 705,266.89 707.73,264.63 710.46,262.54 713.19,260.61 715.91,258.82 718.64,257.16 721.37,255.61 724.1,254.16 726.83,252.8 729.55,251.51 732.28,250.28 735.01,249.1 737.74,247.97 740.46,246.88 743.19,245.83 745.92,244.8 748.64,243.79 751.37,242.79 754.1,241.8 756.83,240.81 759.56,239.81 762.28,238.82 765.01,237.84 767.74,236.87 770.46,235.92 773.19,234.99 775.92,234.08 778.65,233.2 781.38,232.35 784.1,231.53 786.83,230.76 789.56,230.02 792.28,229.34 795.01,228.7 797.74,228.12 800.47,227.59 803.19,227.13 805.92,226.73 808.65,226.4 811.38,226.14 814.11,225.96 816.83,225.85 819.56,225.8 822.29,225.83 825.01,225.93 827.74,226.09 830.47,226.32 833.2,226.62 835.92,226.99 838.65,227.42 841.38,227.91 844.11,228.47 846.84,229.09 849.56,229.78 852.29,230.52 855.02,231.33 857.74,232.19 860.47,233.12 863.2,234.1 865.93,235.14 868.65,236.23 871.38,237.38 874.11,238.58 876.84,239.84 879.56,241.14 882.29,242.48 885.02,243.87 887.75,245.31 890.47,246.78 893.2,248.3 895.93,249.85 898.66,251.44 901.38,253.06 904.11,254.71 906.84,256.4 909.57,258.11 912.29,259.85 915.02,261.61 917.75,263.4 920.48,265.21 923.2,267.04 925.93,268.88 928.66,270.74 931.39,272.62 934.12,274.51 936.84,276.41 939.57,278.31 942.3,280.23 945.02,282.14 947.75,284.07 950.48,285.99 953.21,287.91 955.93,289.83 958.66,291.75 961.39,293.66 964.12,295.56 966.84,297.45 969.57,299.33 972.3,301.2 975.03,303.05 977.75,304.89 980.48,306.72 983.21,308.53 985.94,310.33 988.66,312.12 991.39,313.9 994.12,315.67 996.85,317.43 999.57,319.18 1002.3,320.92 1005.03,322.66 1007.76,324.39 1010.48,326.11 1013.21,327.84 1015.94,329.55 1018.67,331.27 1021.39,332.98 1024.12,334.69 1026.85,336.4 1030.85,338.91" stroke="#2e8b57" stroke-width="1.75" stroke-dasharray="0.05 2.97" stroke-dashoffset="0" stroke-linecap="round"/>
<polyline points="586.45,423.56 590.45,415.4 593.18,409.84 595.91,404.28 598.63,398.74 601.36,393.21 604.09,387.71 606.82,382.24 609.54,376.81 612.27,371.42 615,366.08 617.73,360.8 620.45,355.58 623.18,350.41 625.91,345.29 628.63,340.22 631.36,335.18 634.09,330.18 636.82,325.21 639.55,320.26 642.27,315.32 645,310.4 647.73,305.48 650.46,300.59 653.18,295.72 655.91,290.9 658.64,286.13 661.37,281.43 664.09,276.82 666.82,272.3 669.55,267.89 672.27,263.6 675,259.44 677.73,255.43 680.46,251.56 683.19,247.84 685.91,244.28 688.64,240.88 691.37,237.64 694.1,234.58 696.82,231.7 699.55,229 702.28,226.49 705,224.15 707.73,221.96 710.46,219.92 713.19,218 715.91,216.19 718.64,214.47 721.37,212.83 724.1,211.24 726.83,209.7 729.55,208.19 732.28,206.7 735.01,205.26 737.74,203.85 740.46,202.48 743.19,201.15 745.92,199.88 748.64,198.66 751.37,197.5 754.1,196.4 756.83,195.36 759.56,194.39 762.28,193.49 765.01,192.65 767.74,191.87 770.46,191.15 773.19,190.5 775.92,189.9 778.65,189.37 781.38,188.9 784.1,188.49 786.83,188.14 789.56,187.85 792.28,187.61 795.01,187.43 797.74,187.32 800.47,187.25 803.19,187.25 805.92,187.3 808.65,187.4 811.38,187.56 814.11,187.77 816.83,188.04 819.56,188.37 822.29,188.76 825.01,189.2 827.74,189.71 830.47,190.27 833.2,190.9 835.92,191.59 838.65,192.34 841.38,193.16 844.11,194.04 846.84,194.99 849.56,196 852.29,197.08 855.02,198.23 857.74,199.45 860.47,200.74 863.2,202.1 865.93,203.53 868.65,205.03 871.38,206.6 874.11,208.23 876.84,209.93 879.56,211.68 882.29,213.48 885.02,215.35 887.75,217.26 890.47,219.22 893.2,221.23 895.93,223.27 898.66,225.36 901.38,227.49 904.11,229.65 906.84,231.85 909.57,234.07 912.29,236.33 915.02,238.6 917.75,240.9 920.48,243.22 923.2,245.55 925.93,247.91 928.66,250.27 931.39,252.66 934.12,255.05 936.84,257.45 939.57,259.87 942.3,262.29 945.02,264.72 947.75,267.16 950.48,269.6 953.21,272.04 955.93,274.48 958.66,276.93 961.39,279.37 964.12,281.81 966.84,284.25 969.57,286.68 972.3,289.1 975.03,291.52 977.75,293.92 980.48,296.32 983.21,298.72 985.94,301.1 988.66,303.49 991.39,305.86 994.12,308.23 996.85,310.59 999.57,312.96 1002.3,315.31 1005.03,317.66 1007.76,320.01 1010.48,322.36 1013.21,324.7 1015.94,327.05 1018.67,329.39 1021.39,331.72 1024.12,334.06 1026.85,336.4 1030.85,339.83" stroke="#2e8b57" stroke-width="5.2" stroke-linejoin="round"/>
</g>
<g clip-path="url(#ct2)" fill="none">
<polygon points="1085,400.51 1089,392.1 1091.73,386.36 1094.45,380.67 1097.18,375.01 1099.91,369.39 1102.64,363.8 1105.37,358.26 1108.09,352.76 1110.82,347.3 1113.55,341.88 1116.28,336.5 1119,331.09 1121.73,325.59 1124.46,320.07 1127.18,314.57 1129.91,309.14 1132.64,303.83 1135.37,298.69 1138.1,293.78 1140.82,289.13 1143.55,284.8 1146.28,280.67 1149.01,276.58 1151.73,272.54 1154.46,268.56 1157.19,264.64 1159.91,260.79 1162.64,257.02 1165.37,253.33 1168.1,249.73 1170.83,246.23 1173.55,242.84 1176.28,239.56 1179.01,236.4 1181.74,233.37 1184.46,230.46 1187.19,227.7 1189.92,225.09 1192.64,222.63 1195.37,220.33 1198.1,218.2 1200.83,216.16 1203.56,214.15 1206.28,212.16 1209.01,210.21 1211.74,208.3 1214.46,206.44 1217.19,204.62 1219.92,202.87 1222.65,201.18 1225.38,199.57 1228.1,198.03 1230.83,196.57 1233.56,195.21 1236.29,193.94 1239.01,192.77 1241.74,191.72 1244.47,190.77 1247.19,189.95 1249.92,189.26 1252.65,188.7 1255.38,188.23 1258.11,187.79 1260.83,187.38 1263.56,187.01 1266.29,186.68 1269.02,186.37 1271.74,186.11 1274.47,185.87 1277.2,185.67 1279.92,185.5 1282.65,185.35 1285.38,185.21 1288.11,185.07 1290.84,184.95 1293.56,184.83 1296.29,184.73 1299.02,184.65 1301.75,184.58 1304.47,184.53 1307.2,184.5 1309.93,184.48 1312.65,184.47 1315.38,184.45 1318.11,184.44 1320.84,184.43 1323.57,184.42 1326.29,184.41 1329.02,184.4 1331.75,184.4 1334.48,184.4 1337.2,184.4 1339.93,184.4 1342.66,184.4 1345.38,184.4 1348.11,184.4 1350.84,184.4 1353.57,184.4 1356.3,184.4 1359.02,184.4 1361.75,184.4 1364.48,184.4 1367.2,184.4 1369.93,184.4 1372.66,184.39 1375.39,184.39 1378.12,184.38 1380.84,184.38 1383.57,184.37 1386.3,184.37 1389.03,184.36 1391.75,184.36 1394.48,184.35 1397.21,184.34 1399.93,184.34 1402.66,184.33 1405.39,184.32 1408.12,184.32 1410.85,184.31 1413.57,184.31 1416.3,184.3 1419.03,184.3 1421.76,184.29 1424.48,184.28 1427.21,184.28 1429.94,184.28 1432.66,184.27 1435.39,184.27 1438.12,184.26 1440.85,184.25 1443.58,184.25 1446.3,184.25 1449.03,184.24 1451.76,184.23 1454.49,184.23 1457.21,184.22 1459.94,184.22 1462.67,184.22 1465.39,184.21 1468.12,184.21 1470.85,184.2 1473.58,184.19 1476.31,184.19 1479.03,184.18 1481.76,184.18 1484.49,184.17 1487.22,184.17 1489.94,184.16 1492.67,184.16 1495.4,184.15 1498.12,184.15 1500.85,184.14 1503.58,184.14 1506.31,184.13 1509.04,184.13 1511.76,184.12 1514.49,184.12 1517.22,184.11 1519.95,184.11 1522.67,184.1 1525.4,184.1 1529.4,184.09 1529.4,184.05 1525.4,184.1 1522.67,184.13 1519.95,184.16 1517.22,184.2 1514.49,184.23 1511.76,184.27 1509.04,184.31 1506.31,184.35 1503.58,184.4 1500.85,184.44 1498.12,184.48 1495.4,184.53 1492.67,184.58 1489.94,184.63 1487.22,184.68 1484.49,184.73 1481.76,184.78 1479.03,184.83 1476.31,184.89 1473.58,184.94 1470.85,185 1468.12,185.06 1465.39,185.11 1462.67,185.17 1459.94,185.23 1457.21,185.29 1454.49,185.35 1451.76,185.42 1449.03,185.49 1446.3,185.55 1443.58,185.62 1440.85,185.7 1438.12,185.77 1435.39,185.85 1432.66,185.93 1429.94,186.02 1427.21,186.11 1424.48,186.2 1421.76,186.3 1419.03,186.4 1416.3,186.5 1413.57,186.61 1410.85,186.73 1408.12,186.86 1405.39,186.99 1402.66,187.13 1399.93,187.28 1397.21,187.44 1394.48,187.61 1391.75,187.78 1389.03,187.96 1386.3,188.15 1383.57,188.35 1380.84,188.55 1378.12,188.77 1375.39,188.99 1372.66,189.21 1369.93,189.45 1367.2,189.69 1364.48,189.94 1361.75,190.2 1359.02,190.47 1356.3,190.78 1353.57,191.1 1350.84,191.46 1348.11,191.84 1345.38,192.24 1342.66,192.67 1339.93,193.12 1337.2,193.6 1334.48,194.1 1331.75,194.64 1329.02,195.24 1326.29,195.89 1323.57,196.58 1320.84,197.32 1318.11,198.11 1315.38,198.93 1312.65,199.79 1309.93,200.68 1307.2,201.6 1304.47,202.57 1301.75,203.63 1299.02,204.75 1296.29,205.93 1293.56,207.17 1290.84,208.46 1288.11,209.8 1285.38,211.17 1282.65,212.57 1279.92,214 1277.2,215.47 1274.47,217.01 1271.74,218.61 1269.02,220.26 1266.29,221.96 1263.56,223.72 1260.83,225.51 1258.11,227.34 1255.38,229.21 1252.65,231.1 1249.92,233.01 1247.19,234.93 1244.47,236.86 1241.74,238.82 1239.01,240.79 1236.29,242.79 1233.56,244.82 1230.83,246.88 1228.1,248.98 1225.38,251.12 1222.65,253.3 1219.92,255.53 1217.19,257.82 1214.46,260.16 1211.74,262.56 1209.01,265.02 1206.28,267.56 1203.56,270.16 1200.83,272.84 1198.1,275.6 1195.37,278.48 1192.64,281.51 1189.92,284.68 1187.19,287.98 1184.46,291.41 1181.74,294.95 1179.01,298.6 1176.28,302.33 1173.55,306.16 1170.83,310.06 1168.1,314.02 1165.37,318.04 1162.64,322.11 1159.91,326.21 1157.19,330.35 1154.46,334.5 1151.73,338.66 1149.01,342.82 1146.28,346.97 1143.55,351.1 1140.82,355.27 1138.1,359.55 1135.37,363.91 1132.64,368.34 1129.91,372.82 1127.18,377.35 1124.46,381.89 1121.73,386.44 1119,390.98 1116.28,395.5 1113.55,400.01 1110.82,404.52 1108.09,409.05 1105.37,413.59 1102.64,418.15 1099.91,422.72 1097.18,427.29 1094.45,431.88 1091.73,436.49 1089,441.1 1085,447.87" fill="#deb887" fill-opacity="0.1"/>
<polygon points="1085,400.46 1089,392.05 1091.73,386.31 1094.45,380.62 1097.18,374.96 1099.91,369.34 1102.64,363.75 1105.37,358.21 1108.09,352.71 1110.82,347.25 1113.55,341.83 1116.28,336.45 1119,331.04 1121.73,325.54 1124.46,320.02 1127.18,314.52 1129.91,309.09 1132.64,303.78 1135.37,298.64 1138.1,293.73 1140.82,289.08 1143.55,284.75 1146.28,280.62 1149.01,276.53 1151.73,272.49 1154.46,268.51 1157.19,264.59 1159.91,260.74 1162.64,256.97 1165.37,253.28 1168.1,249.68 1170.83,246.18 1173.55,242.79 1176.28,239.51 1179.01,236.35 1181.74,233.32 1184.46,230.41 1187.19,227.65 1189.92,225.04 1192.64,222.58 1195.37,220.28 1198.1,218.15 1200.83,216.11 1203.56,214.1 1206.28,212.11 1209.01,210.16 1211.74,208.25 1214.46,206.39 1217.19,204.57 1219.92,202.82 1222.65,201.13 1225.38,199.52 1228.1,197.98 1230.83,196.52 1233.56,195.16 1236.29,193.89 1239.01,192.72 1241.74,191.67 1244.47,190.72 1247.19,189.9 1249.92,189.21 1252.65,188.65 1255.38,188.18 1258.11,187.74 1260.83,187.33 1263.56,186.96 1266.29,186.63 1269.02,186.32 1271.74,186.06 1274.47,185.82 1277.2,185.62 1279.92,185.45 1282.65,185.3 1285.38,185.16 1288.11,185.02 1290.84,184.9 1293.56,184.78 1296.29,184.68 1299.02,184.6 1301.75,184.53 1304.47,184.48 1307.2,184.45 1309.93,184.43 1312.65,184.42 1315.38,184.4 1318.11,184.39 1320.84,184.38 1323.57,184.37 1326.29,184.36 1329.02,184.35 1331.75,184.35 1334.48,184.35 1337.2,184.35 1339.93,184.35 1342.66,184.35 1345.38,184.35 1348.11,184.35 1350.84,184.35 1353.57,184.35 1356.3,184.35 1359.02,184.35 1361.75,184.35 1364.48,184.35 1367.2,184.35 1369.93,184.35 1372.66,184.34 1375.39,184.34 1378.12,184.33 1380.84,184.33 1383.57,184.32 1386.3,184.32 1389.03,184.31 1391.75,184.31 1394.48,184.3 1397.21,184.29 1399.93,184.29 1402.66,184.28 1405.39,184.27 1408.12,184.27 1410.85,184.26 1413.57,184.26 1416.3,184.25 1419.03,184.25 1421.76,184.24 1424.48,184.23 1427.21,184.23 1429.94,184.22 1432.66,184.22 1435.39,184.22 1438.12,184.21 1440.85,184.2 1443.58,184.2 1446.3,184.19 1449.03,184.19 1451.76,184.18 1454.49,184.18 1457.21,184.17 1459.94,184.17 1462.67,184.16 1465.39,184.16 1468.12,184.16 1470.85,184.15 1473.58,184.14 1476.31,184.14 1479.03,184.13 1481.76,184.13 1484.49,184.12 1487.22,184.12 1489.94,184.11 1492.67,184.11 1495.4,184.1 1498.12,184.1 1500.85,184.09 1503.58,184.09 1506.31,184.08 1509.04,184.08 1511.76,184.07 1514.49,184.07 1517.22,184.06 1519.95,184.06 1522.67,184.05 1525.4,184.05 1529.4,184.04 1529.4,184 1525.4,184.05 1522.67,184.08 1519.95,184.11 1517.22,184.15 1514.49,184.18 1511.76,184.22 1509.04,184.26 1506.31,184.3 1503.58,184.35 1500.85,184.39 1498.12,184.43 1495.4,184.48 1492.67,184.53 1489.94,184.58 1487.22,184.63 1484.49,184.68 1481.76,184.73 1479.03,184.78 1476.31,184.84 1473.58,184.89 1470.85,184.95 1468.12,185.01 1465.39,185.06 1462.67,185.12 1459.94,185.18 1457.21,185.24 1454.49,185.3 1451.76,185.37 1449.03,185.44 1446.3,185.5 1443.58,185.57 1440.85,185.65 1438.12,185.72 1435.39,185.8 1432.66,185.88 1429.94,185.97 1427.21,186.06 1424.48,186.15 1421.76,186.25 1419.03,186.35 1416.3,186.45 1413.57,186.56 1410.85,186.68 1408.12,186.81 1405.39,186.94 1402.66,187.08 1399.93,187.23 1397.21,187.39 1394.48,187.56 1391.75,187.73 1389.03,187.91 1386.3,188.1 1383.57,188.3 1380.84,188.5 1378.12,188.72 1375.39,188.94 1372.66,189.16 1369.93,189.4 1367.2,189.64 1364.48,189.89 1361.75,190.15 1359.02,190.42 1356.3,190.73 1353.57,191.05 1350.84,191.41 1348.11,191.79 1345.38,192.19 1342.66,192.62 1339.93,193.07 1337.2,193.55 1334.48,194.05 1331.75,194.59 1329.02,195.19 1326.29,195.84 1323.57,196.53 1320.84,197.27 1318.11,198.06 1315.38,198.88 1312.65,199.74 1309.93,200.63 1307.2,201.55 1304.47,202.52 1301.75,203.58 1299.02,204.7 1296.29,205.88 1293.56,207.12 1290.84,208.41 1288.11,209.75 1285.38,211.12 1282.65,212.52 1279.92,213.95 1277.2,215.42 1274.47,216.96 1271.74,218.56 1269.02,220.21 1266.29,221.91 1263.56,223.67 1260.83,225.46 1258.11,227.29 1255.38,229.16 1252.65,231.05 1249.92,232.96 1247.19,234.88 1244.47,236.81 1241.74,238.77 1239.01,240.74 1236.29,242.74 1233.56,244.77 1230.83,246.83 1228.1,248.93 1225.38,251.07 1222.65,253.25 1219.92,255.48 1217.19,257.77 1214.46,260.11 1211.74,262.51 1209.01,264.97 1206.28,267.51 1203.56,270.11 1200.83,272.79 1198.1,275.55 1195.37,278.43 1192.64,281.46 1189.92,284.63 1187.19,287.93 1184.46,291.36 1181.74,294.9 1179.01,298.55 1176.28,302.28 1173.55,306.11 1170.83,310.01 1168.1,313.97 1165.37,317.99 1162.64,322.06 1159.91,326.16 1157.19,330.3 1154.46,334.45 1151.73,338.61 1149.01,342.77 1146.28,346.92 1143.55,351.05 1140.82,355.22 1138.1,359.5 1135.37,363.86 1132.64,368.29 1129.91,372.77 1127.18,377.3 1124.46,381.84 1121.73,386.39 1119,390.93 1116.28,395.45 1113.55,399.96 1110.82,404.47 1108.09,409 1105.37,413.54 1102.64,418.1 1099.91,422.67 1097.18,427.24 1094.45,431.83 1091.73,436.44 1089,441.05 1085,447.82" fill="#985a24" fill-opacity="0.1"/>
<polygon points="1085,400.01 1089,391.6 1091.73,385.86 1094.45,380.17 1097.18,374.51 1099.91,368.89 1102.64,363.3 1105.37,357.76 1108.09,352.26 1110.82,346.8 1113.55,341.38 1116.28,336 1119,330.59 1121.73,325.09 1124.46,319.57 1127.18,314.07 1129.91,308.64 1132.64,303.33 1135.37,298.19 1138.1,293.28 1140.82,288.63 1143.55,284.3 1146.28,280.17 1149.01,276.08 1151.73,272.04 1154.46,268.06 1157.19,264.14 1159.91,260.29 1162.64,256.52 1165.37,252.83 1168.1,249.23 1170.83,245.73 1173.55,242.34 1176.28,239.06 1179.01,235.9 1181.74,232.87 1184.46,229.96 1187.19,227.2 1189.92,224.59 1192.64,222.13 1195.37,219.83 1198.1,217.7 1200.83,215.66 1203.56,213.65 1206.28,211.66 1209.01,209.71 1211.74,207.8 1214.46,205.94 1217.19,204.12 1219.92,202.37 1222.65,200.68 1225.38,199.07 1228.1,197.53 1230.83,196.07 1233.56,194.71 1236.29,193.44 1239.01,192.27 1241.74,191.22 1244.47,190.27 1247.19,189.45 1249.92,188.76 1252.65,188.2 1255.38,187.73 1258.11,187.29 1260.83,186.88 1263.56,186.51 1266.29,186.18 1269.02,185.87 1271.74,185.61 1274.47,185.37 1277.2,185.17 1279.92,185 1282.65,184.85 1285.38,184.71 1288.11,184.57 1290.84,184.45 1293.56,184.33 1296.29,184.23 1299.02,184.15 1301.75,184.08 1304.47,184.03 1307.2,184 1309.93,183.98 1312.65,183.97 1315.38,183.95 1318.11,183.94 1320.84,183.93 1323.57,183.92 1326.29,183.91 1329.02,183.9 1331.75,183.9 1334.48,183.9 1337.2,183.9 1339.93,183.9 1342.66,183.9 1345.38,183.9 1348.11,183.9 1350.84,183.9 1353.57,183.9 1356.3,183.9 1359.02,183.9 1361.75,183.9 1364.48,183.9 1367.2,183.9 1369.93,183.9 1372.66,183.89 1375.39,183.89 1378.12,183.88 1380.84,183.88 1383.57,183.87 1386.3,183.87 1389.03,183.86 1391.75,183.86 1394.48,183.85 1397.21,183.84 1399.93,183.84 1402.66,183.83 1405.39,183.82 1408.12,183.82 1410.85,183.81 1413.57,183.81 1416.3,183.8 1419.03,183.8 1421.76,183.79 1424.48,183.78 1427.21,183.78 1429.94,183.78 1432.66,183.77 1435.39,183.77 1438.12,183.76 1440.85,183.75 1443.58,183.75 1446.3,183.75 1449.03,183.74 1451.76,183.73 1454.49,183.73 1457.21,183.72 1459.94,183.72 1462.67,183.72 1465.39,183.71 1468.12,183.71 1470.85,183.7 1473.58,183.69 1476.31,183.69 1479.03,183.68 1481.76,183.68 1484.49,183.67 1487.22,183.67 1489.94,183.66 1492.67,183.66 1495.4,183.65 1498.12,183.65 1500.85,183.64 1503.58,183.64 1506.31,183.63 1509.04,183.63 1511.76,183.62 1514.49,183.62 1517.22,183.61 1519.95,183.61 1522.67,183.6 1525.4,183.6 1529.4,183.59 1529.4,183.55 1525.4,183.6 1522.67,183.63 1519.95,183.66 1517.22,183.7 1514.49,183.73 1511.76,183.77 1509.04,183.81 1506.31,183.85 1503.58,183.9 1500.85,183.94 1498.12,183.98 1495.4,184.03 1492.67,184.08 1489.94,184.13 1487.22,184.18 1484.49,184.23 1481.76,184.28 1479.03,184.33 1476.31,184.39 1473.58,184.44 1470.85,184.5 1468.12,184.56 1465.39,184.61 1462.67,184.67 1459.94,184.73 1457.21,184.79 1454.49,184.85 1451.76,184.92 1449.03,184.99 1446.3,185.05 1443.58,185.12 1440.85,185.2 1438.12,185.27 1435.39,185.35 1432.66,185.43 1429.94,185.52 1427.21,185.61 1424.48,185.7 1421.76,185.8 1419.03,185.9 1416.3,186 1413.57,186.11 1410.85,186.23 1408.12,186.36 1405.39,186.49 1402.66,186.63 1399.93,186.78 1397.21,186.94 1394.48,187.11 1391.75,187.28 1389.03,187.46 1386.3,187.65 1383.57,187.85 1380.84,188.05 1378.12,188.27 1375.39,188.49 1372.66,188.71 1369.93,188.95 1367.2,189.19 1364.48,189.44 1361.75,189.7 1359.02,189.97 1356.3,190.28 1353.57,190.6 1350.84,190.96 1348.11,191.34 1345.38,191.74 1342.66,192.17 1339.93,192.62 1337.2,193.1 1334.48,193.6 1331.75,194.14 1329.02,194.74 1326.29,195.39 1323.57,196.08 1320.84,196.82 1318.11,197.61 1315.38,198.43 1312.65,199.29 1309.93,200.18 1307.2,201.1 1304.47,202.07 1301.75,203.13 1299.02,204.25 1296.29,205.43 1293.56,206.67 1290.84,207.96 1288.11,209.3 1285.38,210.67 1282.65,212.07 1279.92,213.5 1277.2,214.97 1274.47,216.51 1271.74,218.11 1269.02,219.76 1266.29,221.46 1263.56,223.22 1260.83,225.01 1258.11,226.84 1255.38,228.71 1252.65,230.6 1249.92,232.51 1247.19,234.43 1244.47,236.36 1241.74,238.32 1239.01,240.29 1236.29,242.29 1233.56,244.32 1230.83,246.38 1228.1,248.48 1225.38,250.62 1222.65,252.8 1219.92,255.03 1217.19,257.32 1214.46,259.66 1211.74,262.06 1209.01,264.52 1206.28,267.06 1203.56,269.66 1200.83,272.34 1198.1,275.1 1195.37,277.98 1192.64,281.01 1189.92,284.18 1187.19,287.48 1184.46,290.91 1181.74,294.45 1179.01,298.1 1176.28,301.83 1173.55,305.66 1170.83,309.56 1168.1,313.52 1165.37,317.54 1162.64,321.61 1159.91,325.71 1157.19,329.85 1154.46,334 1151.73,338.16 1149.01,342.32 1146.28,346.47 1143.55,350.6 1140.82,354.77 1138.1,359.05 1135.37,363.41 1132.64,367.84 1129.91,372.32 1127.18,376.85 1124.46,381.39 1121.73,385.94 1119,390.48 1116.28,395 1113.55,399.51 1110.82,404.02 1108.09,408.55 1105.37,413.09 1102.64,417.65 1099.91,422.22 1097.18,426.79 1094.45,431.38 1091.73,435.99 1089,440.6 1085,447.37" fill="#2e8b57" fill-opacity="0.1"/>
<polyline points="1085,400.51 1089,392.1 1091.73,386.36 1094.45,380.67 1097.18,375.01 1099.91,369.39 1102.64,363.8 1105.37,358.26 1108.09,352.76 1110.82,347.3 1113.55,341.88 1116.28,336.5 1119,331.09 1121.73,325.59 1124.46,320.07 1127.18,314.57 1129.91,309.14 1132.64,303.83 1135.37,298.69 1138.1,293.78 1140.82,289.13 1143.55,284.8 1146.28,280.67 1149.01,276.58 1151.73,272.54 1154.46,268.56 1157.19,264.64 1159.91,260.79 1162.64,257.02 1165.37,253.33 1168.1,249.73 1170.83,246.23 1173.55,242.84 1176.28,239.56 1179.01,236.4 1181.74,233.37 1184.46,230.46 1187.19,227.7 1189.92,225.09 1192.64,222.63 1195.37,220.33 1198.1,218.2 1200.83,216.16 1203.56,214.15 1206.28,212.16 1209.01,210.21 1211.74,208.3 1214.46,206.44 1217.19,204.62 1219.92,202.87 1222.65,201.18 1225.38,199.57 1228.1,198.03 1230.83,196.57 1233.56,195.21 1236.29,193.94 1239.01,192.77 1241.74,191.72 1244.47,190.77 1247.19,189.95 1249.92,189.26 1252.65,188.7 1255.38,188.23 1258.11,187.79 1260.83,187.38 1263.56,187.01 1266.29,186.68 1269.02,186.37 1271.74,186.11 1274.47,185.87 1277.2,185.67 1279.92,185.5 1282.65,185.35 1285.38,185.21 1288.11,185.07 1290.84,184.95 1293.56,184.83 1296.29,184.73 1299.02,184.65 1301.75,184.58 1304.47,184.53 1307.2,184.5 1309.93,184.48 1312.65,184.47 1315.38,184.45 1318.11,184.44 1320.84,184.43 1323.57,184.42 1326.29,184.41 1329.02,184.4 1331.75,184.4 1334.48,184.4 1337.2,184.4 1339.93,184.4 1342.66,184.4 1345.38,184.4 1348.11,184.4 1350.84,184.4 1353.57,184.4 1356.3,184.4 1359.02,184.4 1361.75,184.4 1364.48,184.4 1367.2,184.4 1369.93,184.4 1372.66,184.39 1375.39,184.39 1378.12,184.38 1380.84,184.38 1383.57,184.37 1386.3,184.37 1389.03,184.36 1391.75,184.36 1394.48,184.35 1397.21,184.34 1399.93,184.34 1402.66,184.33 1405.39,184.32 1408.12,184.32 1410.85,184.31 1413.57,184.31 1416.3,184.3 1419.03,184.3 1421.76,184.29 1424.48,184.28 1427.21,184.28 1429.94,184.28 1432.66,184.27 1435.39,184.27 1438.12,184.26 1440.85,184.25 1443.58,184.25 1446.3,184.25 1449.03,184.24 1451.76,184.23 1454.49,184.23 1457.21,184.22 1459.94,184.22 1462.67,184.22 1465.39,184.21 1468.12,184.21 1470.85,184.2 1473.58,184.19 1476.31,184.19 1479.03,184.18 1481.76,184.18 1484.49,184.17 1487.22,184.17 1489.94,184.16 1492.67,184.16 1495.4,184.15 1498.12,184.15 1500.85,184.14 1503.58,184.14 1506.31,184.13 1509.04,184.13 1511.76,184.12 1514.49,184.12 1517.22,184.11 1519.95,184.11 1522.67,184.1 1525.4,184.1 1529.4,184.09" stroke="#deb887" stroke-width="1.75" stroke-dasharray="0.05 2.97" stroke-dashoffset="-0.3" stroke-linecap="round"/>
<polyline points="1085,447.87 1089,441.1 1091.73,436.49 1094.45,431.88 1097.18,427.29 1099.91,422.72 1102.64,418.15 1105.37,413.59 1108.09,409.05 1110.82,404.52 1113.55,400.01 1116.28,395.5 1119,390.98 1121.73,386.44 1124.46,381.89 1127.18,377.35 1129.91,372.82 1132.64,368.34 1135.37,363.91 1138.1,359.55 1140.82,355.27 1143.55,351.1 1146.28,346.97 1149.01,342.82 1151.73,338.66 1154.46,334.5 1157.19,330.35 1159.91,326.21 1162.64,322.11 1165.37,318.04 1168.1,314.02 1170.83,310.06 1173.55,306.16 1176.28,302.33 1179.01,298.6 1181.74,294.95 1184.46,291.41 1187.19,287.98 1189.92,284.68 1192.64,281.51 1195.37,278.48 1198.1,275.6 1200.83,272.84 1203.56,270.16 1206.28,267.56 1209.01,265.02 1211.74,262.56 1214.46,260.16 1217.19,257.82 1219.92,255.53 1222.65,253.3 1225.38,251.12 1228.1,248.98 1230.83,246.88 1233.56,244.82 1236.29,242.79 1239.01,240.79 1241.74,238.82 1244.47,236.86 1247.19,234.93 1249.92,233.01 1252.65,231.1 1255.38,229.21 1258.11,227.34 1260.83,225.51 1263.56,223.72 1266.29,221.96 1269.02,220.26 1271.74,218.61 1274.47,217.01 1277.2,215.47 1279.92,214 1282.65,212.57 1285.38,211.17 1288.11,209.8 1290.84,208.46 1293.56,207.17 1296.29,205.93 1299.02,204.75 1301.75,203.63 1304.47,202.57 1307.2,201.6 1309.93,200.68 1312.65,199.79 1315.38,198.93 1318.11,198.11 1320.84,197.32 1323.57,196.58 1326.29,195.89 1329.02,195.24 1331.75,194.64 1334.48,194.1 1337.2,193.6 1339.93,193.12 1342.66,192.67 1345.38,192.24 1348.11,191.84 1350.84,191.46 1353.57,191.1 1356.3,190.78 1359.02,190.47 1361.75,190.2 1364.48,189.94 1367.2,189.69 1369.93,189.45 1372.66,189.21 1375.39,188.99 1378.12,188.77 1380.84,188.55 1383.57,188.35 1386.3,188.15 1389.03,187.96 1391.75,187.78 1394.48,187.61 1397.21,187.44 1399.93,187.28 1402.66,187.13 1405.39,186.99 1408.12,186.86 1410.85,186.73 1413.57,186.61 1416.3,186.5 1419.03,186.4 1421.76,186.3 1424.48,186.2 1427.21,186.11 1429.94,186.02 1432.66,185.93 1435.39,185.85 1438.12,185.77 1440.85,185.7 1443.58,185.62 1446.3,185.55 1449.03,185.49 1451.76,185.42 1454.49,185.35 1457.21,185.29 1459.94,185.23 1462.67,185.17 1465.39,185.11 1468.12,185.06 1470.85,185 1473.58,184.94 1476.31,184.89 1479.03,184.83 1481.76,184.78 1484.49,184.73 1487.22,184.68 1489.94,184.63 1492.67,184.58 1495.4,184.53 1498.12,184.48 1500.85,184.44 1503.58,184.4 1506.31,184.35 1509.04,184.31 1511.76,184.27 1514.49,184.23 1517.22,184.2 1519.95,184.16 1522.67,184.13 1525.4,184.1 1529.4,184.05" stroke="#deb887" stroke-width="1.75" stroke-dasharray="0.05 2.97" stroke-dashoffset="-0.3" stroke-linecap="round"/>
<polyline points="1085,423.28 1089,415.9 1091.73,410.87 1094.45,405.86 1097.18,400.87 1099.91,395.9 1102.64,390.95 1105.37,386.02 1108.09,381.11 1110.82,376.22 1113.55,371.35 1116.28,366.5 1119,361.61 1121.73,356.66 1124.46,351.67 1127.18,346.69 1129.91,341.76 1132.64,336.9 1135.37,332.17 1138.1,327.6 1140.82,323.23 1143.55,319.1 1146.28,315.12 1149.01,311.18 1151.73,307.29 1154.46,303.45 1157.19,299.66 1159.91,295.93 1162.64,292.27 1165.37,288.67 1168.1,285.14 1170.83,281.69 1173.55,278.31 1176.28,275.02 1179.01,271.81 1181.74,268.69 1184.46,265.67 1187.19,262.75 1189.92,259.92 1192.64,257.2 1195.37,254.59 1198.1,252.1 1200.83,249.68 1203.56,247.31 1206.28,244.99 1209.01,242.71 1211.74,240.48 1214.46,238.3 1217.19,236.17 1219.92,234.09 1222.65,232.07 1225.38,230.1 1228.1,228.19 1230.83,226.34 1233.56,224.54 1236.29,222.81 1239.01,221.15 1241.74,219.54 1244.47,218 1247.19,216.53 1249.92,215.13 1252.65,213.8 1255.38,212.54 1258.11,211.35 1260.83,210.22 1263.56,209.15 1266.29,208.12 1269.02,207.14 1271.74,206.19 1274.47,205.28 1277.2,204.38 1279.92,203.5 1282.65,202.63 1285.38,201.77 1288.11,200.93 1290.84,200.12 1293.56,199.32 1296.29,198.56 1299.02,197.83 1301.75,197.14 1304.47,196.5 1307.2,195.9 1309.93,195.34 1312.65,194.8 1315.38,194.28 1318.11,193.78 1320.84,193.31 1323.57,192.86 1326.29,192.43 1329.02,192.03 1331.75,191.65 1334.48,191.3 1337.2,190.97 1339.93,190.65 1342.66,190.34 1345.38,190.05 1348.11,189.77 1350.84,189.5 1353.57,189.26 1356.3,189.02 1359.02,188.8 1361.75,188.6 1364.48,188.41 1367.2,188.22 1369.93,188.03 1372.66,187.85 1375.39,187.67 1378.12,187.5 1380.84,187.33 1383.57,187.17 1386.3,187.01 1389.03,186.86 1391.75,186.72 1394.48,186.58 1397.21,186.44 1399.93,186.31 1402.66,186.19 1405.39,186.08 1408.12,185.97 1410.85,185.88 1413.57,185.78 1416.3,185.7 1419.03,185.62 1421.76,185.55 1424.48,185.47 1427.21,185.4 1429.94,185.34 1432.66,185.27 1435.39,185.21 1438.12,185.15 1440.85,185.09 1443.58,185.04 1446.3,184.98 1449.03,184.93 1451.76,184.88 1454.49,184.84 1457.21,184.79 1459.94,184.75 1462.67,184.71 1465.39,184.67 1468.12,184.64 1470.85,184.6 1473.58,184.57 1476.31,184.53 1479.03,184.5 1481.76,184.47 1484.49,184.43 1487.22,184.4 1489.94,184.37 1492.67,184.34 1495.4,184.32 1498.12,184.29 1500.85,184.26 1503.58,184.24 1506.31,184.22 1509.04,184.19 1511.76,184.17 1514.49,184.16 1517.22,184.14 1519.95,184.12 1522.67,184.11 1525.4,184.1 1529.4,184.08" stroke="#deb887" stroke-width="5.2" stroke-linejoin="round"/>
<polyline points="1085,400.46 1089,392.05 1091.73,386.31 1094.45,380.62 1097.18,374.96 1099.91,369.34 1102.64,363.75 1105.37,358.21 1108.09,352.71 1110.82,347.25 1113.55,341.83 1116.28,336.45 1119,331.04 1121.73,325.54 1124.46,320.02 1127.18,314.52 1129.91,309.09 1132.64,303.78 1135.37,298.64 1138.1,293.73 1140.82,289.08 1143.55,284.75 1146.28,280.62 1149.01,276.53 1151.73,272.49 1154.46,268.51 1157.19,264.59 1159.91,260.74 1162.64,256.97 1165.37,253.28 1168.1,249.68 1170.83,246.18 1173.55,242.79 1176.28,239.51 1179.01,236.35 1181.74,233.32 1184.46,230.41 1187.19,227.65 1189.92,225.04 1192.64,222.58 1195.37,220.28 1198.1,218.15 1200.83,216.11 1203.56,214.1 1206.28,212.11 1209.01,210.16 1211.74,208.25 1214.46,206.39 1217.19,204.57 1219.92,202.82 1222.65,201.13 1225.38,199.52 1228.1,197.98 1230.83,196.52 1233.56,195.16 1236.29,193.89 1239.01,192.72 1241.74,191.67 1244.47,190.72 1247.19,189.9 1249.92,189.21 1252.65,188.65 1255.38,188.18 1258.11,187.74 1260.83,187.33 1263.56,186.96 1266.29,186.63 1269.02,186.32 1271.74,186.06 1274.47,185.82 1277.2,185.62 1279.92,185.45 1282.65,185.3 1285.38,185.16 1288.11,185.02 1290.84,184.9 1293.56,184.78 1296.29,184.68 1299.02,184.6 1301.75,184.53 1304.47,184.48 1307.2,184.45 1309.93,184.43 1312.65,184.42 1315.38,184.4 1318.11,184.39 1320.84,184.38 1323.57,184.37 1326.29,184.36 1329.02,184.35 1331.75,184.35 1334.48,184.35 1337.2,184.35 1339.93,184.35 1342.66,184.35 1345.38,184.35 1348.11,184.35 1350.84,184.35 1353.57,184.35 1356.3,184.35 1359.02,184.35 1361.75,184.35 1364.48,184.35 1367.2,184.35 1369.93,184.35 1372.66,184.34 1375.39,184.34 1378.12,184.33 1380.84,184.33 1383.57,184.32 1386.3,184.32 1389.03,184.31 1391.75,184.31 1394.48,184.3 1397.21,184.29 1399.93,184.29 1402.66,184.28 1405.39,184.27 1408.12,184.27 1410.85,184.26 1413.57,184.26 1416.3,184.25 1419.03,184.25 1421.76,184.24 1424.48,184.23 1427.21,184.23 1429.94,184.22 1432.66,184.22 1435.39,184.22 1438.12,184.21 1440.85,184.2 1443.58,184.2 1446.3,184.19 1449.03,184.19 1451.76,184.18 1454.49,184.18 1457.21,184.17 1459.94,184.17 1462.67,184.16 1465.39,184.16 1468.12,184.16 1470.85,184.15 1473.58,184.14 1476.31,184.14 1479.03,184.13 1481.76,184.13 1484.49,184.12 1487.22,184.12 1489.94,184.11 1492.67,184.11 1495.4,184.1 1498.12,184.1 1500.85,184.09 1503.58,184.09 1506.31,184.08 1509.04,184.08 1511.76,184.07 1514.49,184.07 1517.22,184.06 1519.95,184.06 1522.67,184.05 1525.4,184.05 1529.4,184.04" stroke="#985a24" stroke-width="1.75" stroke-dasharray="0.05 2.97" stroke-dashoffset="-0.6" stroke-linecap="round"/>
<polyline points="1085,447.82 1089,441.05 1091.73,436.44 1094.45,431.83 1097.18,427.24 1099.91,422.67 1102.64,418.1 1105.37,413.54 1108.09,409 1110.82,404.47 1113.55,399.96 1116.28,395.45 1119,390.93 1121.73,386.39 1124.46,381.84 1127.18,377.3 1129.91,372.77 1132.64,368.29 1135.37,363.86 1138.1,359.5 1140.82,355.22 1143.55,351.05 1146.28,346.92 1149.01,342.77 1151.73,338.61 1154.46,334.45 1157.19,330.3 1159.91,326.16 1162.64,322.06 1165.37,317.99 1168.1,313.97 1170.83,310.01 1173.55,306.11 1176.28,302.28 1179.01,298.55 1181.74,294.9 1184.46,291.36 1187.19,287.93 1189.92,284.63 1192.64,281.46 1195.37,278.43 1198.1,275.55 1200.83,272.79 1203.56,270.11 1206.28,267.51 1209.01,264.97 1211.74,262.51 1214.46,260.11 1217.19,257.77 1219.92,255.48 1222.65,253.25 1225.38,251.07 1228.1,248.93 1230.83,246.83 1233.56,244.77 1236.29,242.74 1239.01,240.74 1241.74,238.77 1244.47,236.81 1247.19,234.88 1249.92,232.96 1252.65,231.05 1255.38,229.16 1258.11,227.29 1260.83,225.46 1263.56,223.67 1266.29,221.91 1269.02,220.21 1271.74,218.56 1274.47,216.96 1277.2,215.42 1279.92,213.95 1282.65,212.52 1285.38,211.12 1288.11,209.75 1290.84,208.41 1293.56,207.12 1296.29,205.88 1299.02,204.7 1301.75,203.58 1304.47,202.52 1307.2,201.55 1309.93,200.63 1312.65,199.74 1315.38,198.88 1318.11,198.06 1320.84,197.27 1323.57,196.53 1326.29,195.84 1329.02,195.19 1331.75,194.59 1334.48,194.05 1337.2,193.55 1339.93,193.07 1342.66,192.62 1345.38,192.19 1348.11,191.79 1350.84,191.41 1353.57,191.05 1356.3,190.73 1359.02,190.42 1361.75,190.15 1364.48,189.89 1367.2,189.64 1369.93,189.4 1372.66,189.16 1375.39,188.94 1378.12,188.72 1380.84,188.5 1383.57,188.3 1386.3,188.1 1389.03,187.91 1391.75,187.73 1394.48,187.56 1397.21,187.39 1399.93,187.23 1402.66,187.08 1405.39,186.94 1408.12,186.81 1410.85,186.68 1413.57,186.56 1416.3,186.45 1419.03,186.35 1421.76,186.25 1424.48,186.15 1427.21,186.06 1429.94,185.97 1432.66,185.88 1435.39,185.8 1438.12,185.72 1440.85,185.65 1443.58,185.57 1446.3,185.5 1449.03,185.44 1451.76,185.37 1454.49,185.3 1457.21,185.24 1459.94,185.18 1462.67,185.12 1465.39,185.06 1468.12,185.01 1470.85,184.95 1473.58,184.89 1476.31,184.84 1479.03,184.78 1481.76,184.73 1484.49,184.68 1487.22,184.63 1489.94,184.58 1492.67,184.53 1495.4,184.48 1498.12,184.43 1500.85,184.39 1503.58,184.35 1506.31,184.3 1509.04,184.26 1511.76,184.22 1514.49,184.18 1517.22,184.15 1519.95,184.11 1522.67,184.08 1525.4,184.05 1529.4,184" stroke="#985a24" stroke-width="1.75" stroke-dasharray="0.05 2.97" stroke-dashoffset="-0.6" stroke-linecap="round"/>
<polyline points="1085,423.23 1089,415.85 1091.73,410.82 1094.45,405.81 1097.18,400.82 1099.91,395.85 1102.64,390.9 1105.37,385.97 1108.09,381.06 1110.82,376.17 1113.55,371.3 1116.28,366.45 1119,361.56 1121.73,356.61 1124.46,351.62 1127.18,346.64 1129.91,341.71 1132.64,336.85 1135.37,332.12 1138.1,327.55 1140.82,323.18 1143.55,319.05 1146.28,315.07 1149.01,311.13 1151.73,307.24 1154.46,303.4 1157.19,299.61 1159.91,295.88 1162.64,292.22 1165.37,288.62 1168.1,285.09 1170.83,281.64 1173.55,278.26 1176.28,274.97 1179.01,271.76 1181.74,268.64 1184.46,265.62 1187.19,262.7 1189.92,259.87 1192.64,257.15 1195.37,254.54 1198.1,252.05 1200.83,249.63 1203.56,247.26 1206.28,244.94 1209.01,242.66 1211.74,240.43 1214.46,238.25 1217.19,236.12 1219.92,234.04 1222.65,232.02 1225.38,230.05 1228.1,228.14 1230.83,226.29 1233.56,224.49 1236.29,222.76 1239.01,221.1 1241.74,219.49 1244.47,217.95 1247.19,216.48 1249.92,215.08 1252.65,213.75 1255.38,212.49 1258.11,211.3 1260.83,210.17 1263.56,209.1 1266.29,208.07 1269.02,207.09 1271.74,206.14 1274.47,205.23 1277.2,204.33 1279.92,203.45 1282.65,202.58 1285.38,201.72 1288.11,200.88 1290.84,200.07 1293.56,199.27 1296.29,198.51 1299.02,197.78 1301.75,197.09 1304.47,196.45 1307.2,195.85 1309.93,195.29 1312.65,194.75 1315.38,194.23 1318.11,193.73 1320.84,193.26 1323.57,192.81 1326.29,192.38 1329.02,191.98 1331.75,191.6 1334.48,191.25 1337.2,190.92 1339.93,190.6 1342.66,190.29 1345.38,190 1348.11,189.72 1350.84,189.45 1353.57,189.21 1356.3,188.97 1359.02,188.75 1361.75,188.55 1364.48,188.36 1367.2,188.17 1369.93,187.98 1372.66,187.8 1375.39,187.62 1378.12,187.45 1380.84,187.28 1383.57,187.12 1386.3,186.96 1389.03,186.81 1391.75,186.67 1394.48,186.53 1397.21,186.39 1399.93,186.26 1402.66,186.14 1405.39,186.03 1408.12,185.92 1410.85,185.83 1413.57,185.73 1416.3,185.65 1419.03,185.57 1421.76,185.5 1424.48,185.42 1427.21,185.35 1429.94,185.29 1432.66,185.22 1435.39,185.16 1438.12,185.1 1440.85,185.04 1443.58,184.99 1446.3,184.93 1449.03,184.88 1451.76,184.83 1454.49,184.79 1457.21,184.74 1459.94,184.7 1462.67,184.66 1465.39,184.62 1468.12,184.59 1470.85,184.55 1473.58,184.52 1476.31,184.48 1479.03,184.45 1481.76,184.42 1484.49,184.38 1487.22,184.35 1489.94,184.32 1492.67,184.29 1495.4,184.27 1498.12,184.24 1500.85,184.21 1503.58,184.19 1506.31,184.17 1509.04,184.14 1511.76,184.12 1514.49,184.11 1517.22,184.09 1519.95,184.07 1522.67,184.06 1525.4,184.05 1529.4,184.03" stroke="#985a24" stroke-width="5.2" stroke-linejoin="round"/>
<polyline points="1085,400.01 1089,391.6 1091.73,385.86 1094.45,380.17 1097.18,374.51 1099.91,368.89 1102.64,363.3 1105.37,357.76 1108.09,352.26 1110.82,346.8 1113.55,341.38 1116.28,336 1119,330.59 1121.73,325.09 1124.46,319.57 1127.18,314.07 1129.91,308.64 1132.64,303.33 1135.37,298.19 1138.1,293.28 1140.82,288.63 1143.55,284.3 1146.28,280.17 1149.01,276.08 1151.73,272.04 1154.46,268.06 1157.19,264.14 1159.91,260.29 1162.64,256.52 1165.37,252.83 1168.1,249.23 1170.83,245.73 1173.55,242.34 1176.28,239.06 1179.01,235.9 1181.74,232.87 1184.46,229.96 1187.19,227.2 1189.92,224.59 1192.64,222.13 1195.37,219.83 1198.1,217.7 1200.83,215.66 1203.56,213.65 1206.28,211.66 1209.01,209.71 1211.74,207.8 1214.46,205.94 1217.19,204.12 1219.92,202.37 1222.65,200.68 1225.38,199.07 1228.1,197.53 1230.83,196.07 1233.56,194.71 1236.29,193.44 1239.01,192.27 1241.74,191.22 1244.47,190.27 1247.19,189.45 1249.92,188.76 1252.65,188.2 1255.38,187.73 1258.11,187.29 1260.83,186.88 1263.56,186.51 1266.29,186.18 1269.02,185.87 1271.74,185.61 1274.47,185.37 1277.2,185.17 1279.92,185 1282.65,184.85 1285.38,184.71 1288.11,184.57 1290.84,184.45 1293.56,184.33 1296.29,184.23 1299.02,184.15 1301.75,184.08 1304.47,184.03 1307.2,184 1309.93,183.98 1312.65,183.97 1315.38,183.95 1318.11,183.94 1320.84,183.93 1323.57,183.92 1326.29,183.91 1329.02,183.9 1331.75,183.9 1334.48,183.9 1337.2,183.9 1339.93,183.9 1342.66,183.9 1345.38,183.9 1348.11,183.9 1350.84,183.9 1353.57,183.9 1356.3,183.9 1359.02,183.9 1361.75,183.9 1364.48,183.9 1367.2,183.9 1369.93,183.9 1372.66,183.89 1375.39,183.89 1378.12,183.88 1380.84,183.88 1383.57,183.87 1386.3,183.87 1389.03,183.86 1391.75,183.86 1394.48,183.85 1397.21,183.84 1399.93,183.84 1402.66,183.83 1405.39,183.82 1408.12,183.82 1410.85,183.81 1413.57,183.81 1416.3,183.8 1419.03,183.8 1421.76,183.79 1424.48,183.78 1427.21,183.78 1429.94,183.78 1432.66,183.77 1435.39,183.77 1438.12,183.76 1440.85,183.75 1443.58,183.75 1446.3,183.75 1449.03,183.74 1451.76,183.73 1454.49,183.73 1457.21,183.72 1459.94,183.72 1462.67,183.72 1465.39,183.71 1468.12,183.71 1470.85,183.7 1473.58,183.69 1476.31,183.69 1479.03,183.68 1481.76,183.68 1484.49,183.67 1487.22,183.67 1489.94,183.66 1492.67,183.66 1495.4,183.65 1498.12,183.65 1500.85,183.64 1503.58,183.64 1506.31,183.63 1509.04,183.63 1511.76,183.62 1514.49,183.62 1517.22,183.61 1519.95,183.61 1522.67,183.6 1525.4,183.6 1529.4,183.59" stroke="#2e8b57" stroke-width="1.75" stroke-dasharray="0.05 2.97" stroke-dashoffset="0" stroke-linecap="round"/>
<polyline points="1085,447.37 1089,440.6 1091.73,435.99 1094.45,431.38 1097.18,426.79 1099.91,422.22 1102.64,417.65 1105.37,413.09 1108.09,408.55 1110.82,404.02 1113.55,399.51 1116.28,395 1119,390.48 1121.73,385.94 1124.46,381.39 1127.18,376.85 1129.91,372.32 1132.64,367.84 1135.37,363.41 1138.1,359.05 1140.82,354.77 1143.55,350.6 1146.28,346.47 1149.01,342.32 1151.73,338.16 1154.46,334 1157.19,329.85 1159.91,325.71 1162.64,321.61 1165.37,317.54 1168.1,313.52 1170.83,309.56 1173.55,305.66 1176.28,301.83 1179.01,298.1 1181.74,294.45 1184.46,290.91 1187.19,287.48 1189.92,284.18 1192.64,281.01 1195.37,277.98 1198.1,275.1 1200.83,272.34 1203.56,269.66 1206.28,267.06 1209.01,264.52 1211.74,262.06 1214.46,259.66 1217.19,257.32 1219.92,255.03 1222.65,252.8 1225.38,250.62 1228.1,248.48 1230.83,246.38 1233.56,244.32 1236.29,242.29 1239.01,240.29 1241.74,238.32 1244.47,236.36 1247.19,234.43 1249.92,232.51 1252.65,230.6 1255.38,228.71 1258.11,226.84 1260.83,225.01 1263.56,223.22 1266.29,221.46 1269.02,219.76 1271.74,218.11 1274.47,216.51 1277.2,214.97 1279.92,213.5 1282.65,212.07 1285.38,210.67 1288.11,209.3 1290.84,207.96 1293.56,206.67 1296.29,205.43 1299.02,204.25 1301.75,203.13 1304.47,202.07 1307.2,201.1 1309.93,200.18 1312.65,199.29 1315.38,198.43 1318.11,197.61 1320.84,196.82 1323.57,196.08 1326.29,195.39 1329.02,194.74 1331.75,194.14 1334.48,193.6 1337.2,193.1 1339.93,192.62 1342.66,192.17 1345.38,191.74 1348.11,191.34 1350.84,190.96 1353.57,190.6 1356.3,190.28 1359.02,189.97 1361.75,189.7 1364.48,189.44 1367.2,189.19 1369.93,188.95 1372.66,188.71 1375.39,188.49 1378.12,188.27 1380.84,188.05 1383.57,187.85 1386.3,187.65 1389.03,187.46 1391.75,187.28 1394.48,187.11 1397.21,186.94 1399.93,186.78 1402.66,186.63 1405.39,186.49 1408.12,186.36 1410.85,186.23 1413.57,186.11 1416.3,186 1419.03,185.9 1421.76,185.8 1424.48,185.7 1427.21,185.61 1429.94,185.52 1432.66,185.43 1435.39,185.35 1438.12,185.27 1440.85,185.2 1443.58,185.12 1446.3,185.05 1449.03,184.99 1451.76,184.92 1454.49,184.85 1457.21,184.79 1459.94,184.73 1462.67,184.67 1465.39,184.61 1468.12,184.56 1470.85,184.5 1473.58,184.44 1476.31,184.39 1479.03,184.33 1481.76,184.28 1484.49,184.23 1487.22,184.18 1489.94,184.13 1492.67,184.08 1495.4,184.03 1498.12,183.98 1500.85,183.94 1503.58,183.9 1506.31,183.85 1509.04,183.81 1511.76,183.77 1514.49,183.73 1517.22,183.7 1519.95,183.66 1522.67,183.63 1525.4,183.6 1529.4,183.55" stroke="#2e8b57" stroke-width="1.75" stroke-dasharray="0.05 2.97" stroke-dashoffset="0" stroke-linecap="round"/>
<polyline points="1085,422.78 1089,415.4 1091.73,410.37 1094.45,405.36 1097.18,400.37 1099.91,395.4 1102.64,390.45 1105.37,385.52 1108.09,380.61 1110.82,375.72 1113.55,370.85 1116.28,366 1119,361.11 1121.73,356.16 1124.46,351.17 1127.18,346.19 1129.91,341.26 1132.64,336.4 1135.37,331.67 1138.1,327.1 1140.82,322.73 1143.55,318.6 1146.28,314.62 1149.01,310.68 1151.73,306.79 1154.46,302.95 1157.19,299.16 1159.91,295.43 1162.64,291.77 1165.37,288.17 1168.1,284.64 1170.83,281.19 1173.55,277.81 1176.28,274.52 1179.01,271.31 1181.74,268.19 1184.46,265.17 1187.19,262.25 1189.92,259.42 1192.64,256.7 1195.37,254.09 1198.1,251.6 1200.83,249.18 1203.56,246.81 1206.28,244.49 1209.01,242.21 1211.74,239.98 1214.46,237.8 1217.19,235.67 1219.92,233.59 1222.65,231.57 1225.38,229.6 1228.1,227.69 1230.83,225.84 1233.56,224.04 1236.29,222.31 1239.01,220.65 1241.74,219.04 1244.47,217.5 1247.19,216.03 1249.92,214.63 1252.65,213.3 1255.38,212.04 1258.11,210.85 1260.83,209.72 1263.56,208.65 1266.29,207.62 1269.02,206.64 1271.74,205.69 1274.47,204.78 1277.2,203.88 1279.92,203 1282.65,202.13 1285.38,201.27 1288.11,200.43 1290.84,199.62 1293.56,198.82 1296.29,198.06 1299.02,197.33 1301.75,196.64 1304.47,196 1307.2,195.4 1309.93,194.84 1312.65,194.3 1315.38,193.78 1318.11,193.28 1320.84,192.81 1323.57,192.36 1326.29,191.93 1329.02,191.53 1331.75,191.15 1334.48,190.8 1337.2,190.47 1339.93,190.15 1342.66,189.84 1345.38,189.55 1348.11,189.27 1350.84,189 1353.57,188.76 1356.3,188.52 1359.02,188.3 1361.75,188.1 1364.48,187.91 1367.2,187.72 1369.93,187.53 1372.66,187.35 1375.39,187.17 1378.12,187 1380.84,186.83 1383.57,186.67 1386.3,186.51 1389.03,186.36 1391.75,186.22 1394.48,186.08 1397.21,185.94 1399.93,185.81 1402.66,185.69 1405.39,185.58 1408.12,185.47 1410.85,185.38 1413.57,185.28 1416.3,185.2 1419.03,185.12 1421.76,185.05 1424.48,184.97 1427.21,184.9 1429.94,184.84 1432.66,184.77 1435.39,184.71 1438.12,184.65 1440.85,184.59 1443.58,184.54 1446.3,184.48 1449.03,184.43 1451.76,184.38 1454.49,184.34 1457.21,184.29 1459.94,184.25 1462.67,184.21 1465.39,184.17 1468.12,184.14 1470.85,184.1 1473.58,184.07 1476.31,184.03 1479.03,184 1481.76,183.97 1484.49,183.93 1487.22,183.9 1489.94,183.87 1492.67,183.84 1495.4,183.82 1498.12,183.79 1500.85,183.76 1503.58,183.74 1506.31,183.72 1509.04,183.69 1511.76,183.67 1514.49,183.66 1517.22,183.64 1519.95,183.62 1522.67,183.61 1525.4,183.6 1529.4,183.58" stroke="#2e8b57" stroke-width="5.2" stroke-linejoin="round"/>
</g>
<g clip-path="url(#ct3)" fill="none">
<polygon points="1583.55,400.59 1587.55,392.1 1590.28,386.31 1593,380.52 1595.73,374.73 1598.46,368.95 1601.19,363.17 1603.91,357.4 1606.64,351.64 1609.37,345.88 1612.1,340.13 1614.83,334.4 1617.55,328.68 1620.28,322.98 1623.01,317.3 1625.73,311.67 1628.46,306.07 1631.19,300.52 1633.92,295.04 1636.64,289.62 1639.37,284.27 1642.1,279 1644.83,273.82 1647.55,268.73 1650.28,263.72 1653.01,258.81 1655.74,253.98 1658.46,249.24 1661.19,244.59 1663.92,240.02 1666.65,235.54 1669.38,231.15 1672.1,226.85 1674.83,222.63 1677.56,218.5 1680.28,214.45 1683.01,210.5 1685.74,206.63 1688.47,202.84 1691.19,199.14 1693.92,195.53 1696.65,192 1699.38,188.56 1702.11,185.2 1704.83,181.93 1707.56,178.74 1710.29,175.63 1713.01,172.6 1715.74,169.66 1718.47,166.79 1721.2,164 1723.92,161.29 1726.65,158.66 1729.38,156.1 1732.11,153.62 1734.84,151.22 1737.56,148.88 1740.29,146.62 1743.02,144.44 1745.74,142.32 1748.47,140.28 1751.2,138.3 1753.93,136.39 1756.65,134.55 1759.38,132.78 1762.11,131.08 1764.84,129.44 1767.56,127.87 1770.29,126.37 1773.02,124.93 1775.75,123.56 1778.47,122.25 1781.2,121 1783.93,119.82 1786.66,118.7 1789.38,117.64 1792.11,116.65 1794.84,115.72 1797.57,114.85 1800.29,114.04 1803.02,113.29 1805.75,112.6 1808.48,111.97 1811.2,111.4 1813.93,110.89 1816.66,110.43 1819.39,110.04 1822.11,109.7 1824.84,109.42 1827.57,109.19 1830.3,109.02 1833.02,108.91 1835.75,108.86 1838.48,108.85 1841.21,108.91 1843.93,109.02 1846.66,109.18 1849.39,109.4 1852.12,109.67 1854.84,109.99 1857.57,110.37 1860.3,110.8 1863.03,111.28 1865.75,111.81 1868.48,112.39 1871.21,113.02 1873.94,113.68 1876.66,114.39 1879.39,115.14 1882.12,115.92 1884.85,116.74 1887.57,117.59 1890.3,118.48 1893.03,119.39 1895.76,120.32 1898.48,121.28 1901.21,122.26 1903.94,123.26 1906.67,124.27 1909.39,125.3 1912.12,126.35 1914.85,127.4 1917.58,128.46 1920.3,129.53 1923.03,130.61 1925.76,131.71 1928.49,132.81 1931.21,133.93 1933.94,135.06 1936.67,136.21 1939.4,137.37 1942.12,138.55 1944.85,139.75 1947.58,140.96 1950.31,142.2 1953.03,143.46 1955.76,144.74 1958.49,146.04 1961.22,147.37 1963.94,148.72 1966.67,150.1 1969.4,151.5 1972.13,152.93 1974.85,154.39 1977.58,155.88 1980.31,157.38 1983.04,158.91 1985.76,160.46 1988.49,162.03 1991.22,163.62 1993.95,165.23 1996.67,166.85 1999.4,168.49 2002.13,170.13 2004.86,171.79 2007.58,173.46 2010.31,175.14 2013.04,176.82 2015.77,178.51 2018.49,180.21 2021.22,181.9 2023.95,183.6 2027.95,186.09 2027.95,184.97 2023.95,183.6 2021.22,182.66 2018.49,181.73 2015.77,180.8 2013.04,179.87 2010.31,178.94 2007.58,178.02 2004.86,177.11 2002.13,176.21 1999.4,175.32 1996.67,174.44 1993.95,173.57 1991.22,172.71 1988.49,171.87 1985.76,171.05 1983.04,170.24 1980.31,169.45 1977.58,168.68 1974.85,167.93 1972.13,167.2 1969.4,166.5 1966.67,165.82 1963.94,165.17 1961.22,164.54 1958.49,163.93 1955.76,163.35 1953.03,162.8 1950.31,162.28 1947.58,161.78 1944.85,161.3 1942.12,160.86 1939.4,160.44 1936.67,160.05 1933.94,159.69 1931.21,159.36 1928.49,159.06 1925.76,158.79 1923.03,158.55 1920.3,158.33 1917.58,158.15 1914.85,158 1912.12,157.88 1909.39,157.79 1906.67,157.74 1903.94,157.71 1901.21,157.72 1898.48,157.76 1895.76,157.84 1893.03,157.95 1890.3,158.1 1887.57,158.29 1884.85,158.5 1882.12,158.76 1879.39,159.06 1876.66,159.39 1873.94,159.76 1871.21,160.17 1868.48,160.61 1865.75,161.1 1863.03,161.63 1860.3,162.2 1857.57,162.81 1854.84,163.46 1852.12,164.16 1849.39,164.89 1846.66,165.67 1843.93,166.49 1841.21,167.35 1838.48,168.25 1835.75,169.2 1833.02,170.19 1830.3,171.22 1827.57,172.29 1824.84,173.4 1822.11,174.56 1819.39,175.76 1816.66,177 1813.93,178.29 1811.2,179.62 1808.48,180.99 1805.75,182.4 1803.02,183.86 1800.29,185.36 1797.57,186.9 1794.84,188.48 1792.11,190.1 1789.38,191.76 1786.66,193.46 1783.93,195.2 1781.2,196.98 1778.47,198.79 1775.75,200.64 1773.02,202.52 1770.29,204.44 1767.56,206.4 1764.84,208.39 1762.11,210.41 1759.38,212.46 1756.65,214.54 1753.93,216.66 1751.2,218.8 1748.47,220.97 1745.74,223.18 1743.02,225.42 1740.29,227.7 1737.56,230.01 1734.84,232.37 1732.11,234.78 1729.38,237.23 1726.65,239.72 1723.92,242.28 1721.2,244.88 1718.47,247.54 1715.74,250.27 1713.01,253.05 1710.29,255.9 1707.56,258.82 1704.83,261.8 1702.11,264.86 1699.38,267.99 1696.65,271.2 1693.92,274.49 1691.19,277.85 1688.47,281.3 1685.74,284.81 1683.01,288.4 1680.28,292.05 1677.56,295.78 1674.83,299.57 1672.1,303.42 1669.38,307.33 1666.65,311.3 1663.92,315.34 1661.19,319.42 1658.46,323.56 1655.74,327.75 1653.01,331.99 1650.28,336.28 1647.55,340.61 1644.83,344.98 1642.1,349.4 1639.37,353.85 1636.64,358.34 1633.92,362.86 1631.19,367.41 1628.46,371.98 1625.73,376.57 1623.01,381.16 1620.28,385.77 1617.55,390.39 1614.83,395 1612.1,399.61 1609.37,404.22 1606.64,408.82 1603.91,413.42 1601.19,418.02 1598.46,422.62 1595.73,427.22 1593,431.81 1590.28,436.41 1587.55,441 1583.55,447.74" fill="#deb887" fill-opacity="0.1"/>
<polygon points="1583.55,400.52 1587.55,392 1590.28,386.19 1593,380.39 1595.73,374.58 1598.46,368.78 1601.19,362.98 1603.91,357.19 1606.64,351.41 1609.37,345.63 1612.1,339.86 1614.83,334.1 1617.55,328.35 1620.28,322.62 1623.01,316.92 1625.73,311.25 1628.46,305.63 1631.19,300.05 1633.92,294.53 1636.64,289.08 1639.37,283.7 1642.1,278.4 1644.83,273.19 1647.55,268.06 1650.28,263.03 1653.01,258.08 1655.74,253.22 1658.46,248.44 1661.19,243.75 1663.92,239.15 1666.65,234.63 1669.38,230.19 1672.1,225.84 1674.83,221.57 1677.56,217.39 1680.28,213.29 1683.01,209.27 1685.74,205.33 1688.47,201.48 1691.19,197.71 1693.92,194.01 1696.65,190.4 1699.38,186.87 1702.11,183.41 1704.83,180.04 1707.56,176.74 1710.29,173.52 1713.01,170.37 1715.74,167.3 1718.47,164.3 1721.2,161.38 1723.92,158.53 1726.65,155.76 1729.38,153.05 1732.11,150.42 1734.84,147.85 1737.56,145.36 1740.29,142.93 1743.02,140.57 1745.74,138.28 1748.47,136.06 1751.2,133.9 1753.93,131.81 1756.65,129.78 1759.38,127.81 1762.11,125.91 1764.84,124.07 1767.56,122.29 1770.29,120.58 1773.02,118.92 1775.75,117.33 1778.47,115.8 1781.2,114.33 1783.93,112.92 1786.66,111.56 1789.38,110.27 1792.11,109.03 1794.84,107.85 1797.57,106.73 1800.29,105.66 1803.02,104.65 1805.75,103.7 1808.48,102.8 1811.2,101.96 1813.93,101.17 1816.66,100.44 1819.39,99.77 1822.11,99.16 1824.84,98.62 1827.57,98.13 1830.3,97.7 1833.02,97.34 1835.75,97.04 1838.48,96.81 1841.21,96.64 1843.93,96.54 1846.66,96.51 1849.39,96.55 1852.12,96.65 1854.84,96.83 1857.57,97.08 1860.3,97.4 1863.03,97.79 1865.75,98.26 1868.48,98.79 1871.21,99.39 1873.94,100.06 1876.66,100.79 1879.39,101.58 1882.12,102.43 1884.85,103.33 1887.57,104.29 1890.3,105.3 1893.03,106.36 1895.76,107.47 1898.48,108.63 1901.21,109.82 1903.94,111.07 1906.67,112.34 1909.39,113.66 1912.12,115.01 1914.85,116.4 1917.58,117.82 1920.3,119.26 1923.03,120.74 1925.76,122.24 1928.49,123.76 1931.21,125.32 1933.94,126.89 1936.67,128.48 1939.4,130.09 1942.12,131.72 1944.85,133.37 1947.58,135.03 1950.31,136.71 1953.03,138.4 1955.76,140.1 1958.49,141.8 1961.22,143.52 1963.94,145.24 1966.67,146.97 1969.4,148.7 1972.13,150.43 1974.85,152.17 1977.58,153.9 1980.31,155.64 1983.04,157.38 1985.76,159.12 1988.49,160.87 1991.22,162.61 1993.95,164.35 1996.67,166.1 1999.4,167.85 2002.13,169.6 2004.86,171.34 2007.58,173.09 2010.31,174.84 2013.04,176.59 2015.77,178.35 2018.49,180.1 2021.22,181.85 2023.95,183.6 2027.95,186.17 2027.95,185.1 2023.95,183.6 2021.22,182.58 2018.49,181.55 2015.77,180.53 2013.04,179.51 2010.31,178.5 2007.58,177.49 2004.86,176.49 2002.13,175.5 1999.4,174.52 1996.67,173.55 1993.95,172.59 1991.22,171.64 1988.49,170.71 1985.76,169.8 1983.04,168.9 1980.31,168.02 1977.58,167.16 1974.85,166.32 1972.13,165.5 1969.4,164.7 1966.67,163.93 1963.94,163.18 1961.22,162.46 1958.49,161.76 1955.76,161.1 1953.03,160.46 1950.31,159.85 1947.58,159.28 1944.85,158.74 1942.12,158.23 1939.4,157.75 1936.67,157.31 1933.94,156.91 1931.21,156.54 1928.49,156.22 1925.76,155.93 1923.03,155.68 1920.3,155.48 1917.58,155.32 1914.85,155.2 1912.12,155.13 1909.39,155.1 1906.67,155.11 1903.94,155.17 1901.21,155.26 1898.48,155.4 1895.76,155.58 1893.03,155.8 1890.3,156.05 1887.57,156.34 1884.85,156.67 1882.12,157.03 1879.39,157.43 1876.66,157.86 1873.94,158.32 1871.21,158.82 1868.48,159.35 1865.75,159.9 1863.03,160.49 1860.3,161.1 1857.57,161.74 1854.84,162.41 1852.12,163.11 1849.39,163.84 1846.66,164.6 1843.93,165.4 1841.21,166.23 1838.48,167.1 1835.75,168 1833.02,168.94 1830.3,169.92 1827.57,170.94 1824.84,172 1822.11,173.11 1819.39,174.26 1816.66,175.45 1813.93,176.69 1811.2,177.98 1808.48,179.31 1805.75,180.7 1803.02,182.14 1800.29,183.62 1797.57,185.16 1794.84,186.74 1792.11,188.37 1789.38,190.05 1786.66,191.77 1783.93,193.53 1781.2,195.33 1778.47,197.18 1775.75,199.06 1773.02,200.98 1770.29,202.94 1767.56,204.94 1764.84,206.97 1762.11,209.03 1759.38,211.13 1756.65,213.26 1753.93,215.41 1751.2,217.6 1748.47,219.82 1745.74,222.06 1743.02,224.34 1740.29,226.65 1737.56,229 1734.84,231.4 1732.11,233.83 1729.38,236.31 1726.65,238.84 1723.92,241.42 1721.2,244.05 1718.47,246.73 1715.74,249.47 1713.01,252.28 1710.29,255.14 1707.56,258.07 1704.83,261.07 1702.11,264.14 1699.38,267.28 1696.65,270.5 1693.92,273.79 1691.19,277.16 1688.47,280.61 1685.74,284.12 1683.01,287.71 1680.28,291.36 1677.56,295.09 1674.83,298.87 1672.1,302.72 1669.38,306.64 1666.65,310.61 1663.92,314.64 1661.19,318.73 1658.46,322.88 1655.74,327.07 1653.01,331.32 1650.28,335.62 1647.55,339.97 1644.83,344.36 1642.1,348.8 1639.37,353.28 1636.64,357.8 1633.92,362.35 1631.19,366.93 1628.46,371.53 1625.73,376.15 1623.01,380.78 1620.28,385.42 1617.55,390.06 1614.83,394.7 1612.1,399.33 1609.37,403.96 1606.64,408.58 1603.91,413.19 1601.19,417.8 1598.46,422.4 1595.73,427.01 1593,431.6 1590.28,436.2 1587.55,440.8 1583.55,447.54" fill="#985a24" fill-opacity="0.1"/>
<polygon points="1583.55,400.45 1587.55,391.9 1590.28,386.07 1593,380.25 1595.73,374.42 1598.46,368.6 1601.19,362.78 1603.91,356.97 1606.64,351.17 1609.37,345.37 1612.1,339.58 1614.83,333.8 1617.55,328.03 1620.28,322.28 1623.01,316.56 1625.73,310.87 1628.46,305.21 1631.19,299.61 1633.92,294.06 1636.64,288.57 1639.37,283.15 1642.1,277.8 1644.83,272.54 1647.55,267.36 1650.28,262.26 1653.01,257.24 1655.74,252.3 1658.46,247.44 1661.19,242.67 1663.92,237.97 1666.65,233.35 1669.38,228.8 1672.1,224.34 1674.83,219.95 1677.56,215.63 1680.28,211.39 1683.01,207.23 1685.74,203.14 1688.47,199.12 1691.19,195.18 1693.92,191.3 1696.65,187.5 1699.38,183.77 1702.11,180.11 1704.83,176.52 1707.56,173 1710.29,169.55 1713.01,166.17 1715.74,162.86 1718.47,159.62 1721.2,156.46 1723.92,153.36 1726.65,150.33 1729.38,147.37 1732.11,144.48 1734.84,141.66 1737.56,138.91 1740.29,136.23 1743.02,133.62 1745.74,131.08 1748.47,128.6 1751.2,126.2 1753.93,123.87 1756.65,121.6 1759.38,119.4 1762.11,117.27 1764.84,115.21 1767.56,113.22 1770.29,111.3 1773.02,109.45 1775.75,107.66 1778.47,105.94 1781.2,104.29 1783.93,102.71 1786.66,101.2 1789.38,99.75 1792.11,98.38 1794.84,97.07 1797.57,95.82 1800.29,94.65 1803.02,93.54 1805.75,92.5 1808.48,91.53 1811.2,90.62 1813.93,89.78 1816.66,89.01 1819.39,88.31 1822.11,87.68 1824.84,87.11 1827.57,86.61 1830.3,86.18 1833.02,85.82 1835.75,85.53 1838.48,85.3 1841.21,85.15 1843.93,85.06 1846.66,85.04 1849.39,85.1 1852.12,85.22 1854.84,85.41 1857.57,85.67 1860.3,86 1863.03,86.4 1865.75,86.87 1868.48,87.41 1871.21,88.01 1873.94,88.68 1876.66,89.42 1879.39,90.22 1882.12,91.08 1884.85,92.01 1887.57,93 1890.3,94.05 1893.03,95.16 1895.76,96.33 1898.48,97.56 1901.21,98.84 1903.94,100.19 1906.67,101.58 1909.39,103.04 1912.12,104.54 1914.85,106.1 1917.58,107.71 1920.3,109.37 1923.03,111.08 1925.76,112.82 1928.49,114.61 1931.21,116.44 1933.94,118.3 1936.67,120.19 1939.4,122.11 1942.12,124.05 1944.85,126.02 1947.58,128 1950.31,130 1953.03,132.02 1955.76,134.04 1958.49,136.07 1961.22,138.1 1963.94,140.14 1966.67,142.17 1969.4,144.2 1972.13,146.22 1974.85,148.23 1977.58,150.24 1980.31,152.24 1983.04,154.23 1985.76,156.21 1988.49,158.19 1991.22,160.17 1993.95,162.14 1996.67,164.1 1999.4,166.06 2002.13,168.02 2004.86,169.98 2007.58,171.93 2010.31,173.88 2013.04,175.82 2015.77,177.77 2018.49,179.71 2021.22,181.66 2023.95,183.6 2027.95,186.45 2027.95,185.15 2023.95,183.6 2021.22,182.54 2018.49,181.48 2015.77,180.43 2013.04,179.37 2010.31,178.32 2007.58,177.28 2004.86,176.24 2002.13,175.21 1999.4,174.19 1996.67,173.18 1993.95,172.18 1991.22,171.19 1988.49,170.21 1985.76,169.24 1983.04,168.29 1980.31,167.36 1977.58,166.44 1974.85,165.54 1972.13,164.66 1969.4,163.8 1966.67,162.96 1963.94,162.14 1961.22,161.35 1958.49,160.58 1955.76,159.83 1953.03,159.12 1950.31,158.43 1947.58,157.77 1944.85,157.15 1942.12,156.55 1939.4,155.99 1936.67,155.47 1933.94,154.98 1931.21,154.53 1928.49,154.12 1925.76,153.75 1923.03,153.42 1920.3,153.14 1917.58,152.9 1914.85,152.7 1912.12,152.55 1909.39,152.45 1906.67,152.39 1903.94,152.38 1901.21,152.41 1898.48,152.49 1895.76,152.61 1893.03,152.77 1890.3,152.98 1887.57,153.22 1884.85,153.51 1882.12,153.83 1879.39,154.2 1876.66,154.6 1873.94,155.04 1871.21,155.52 1868.48,156.04 1865.75,156.59 1863.03,157.18 1860.3,157.8 1857.57,158.46 1854.84,159.15 1852.12,159.87 1849.39,160.64 1846.66,161.44 1843.93,162.27 1841.21,163.15 1838.48,164.06 1835.75,165.02 1833.02,166.01 1830.3,167.05 1827.57,168.12 1824.84,169.24 1822.11,170.4 1819.39,171.6 1816.66,172.85 1813.93,174.15 1811.2,175.48 1808.48,176.87 1805.75,178.3 1803.02,179.78 1800.29,181.3 1797.57,182.87 1794.84,184.49 1792.11,186.15 1789.38,187.85 1786.66,189.6 1783.93,191.38 1781.2,193.21 1778.47,195.07 1775.75,196.98 1773.02,198.92 1770.29,200.9 1767.56,202.91 1764.84,204.96 1762.11,207.04 1759.38,209.16 1756.65,211.31 1753.93,213.49 1751.2,215.7 1748.47,217.94 1745.74,220.21 1743.02,222.52 1740.29,224.87 1737.56,227.25 1734.84,229.67 1732.11,232.14 1729.38,234.66 1726.65,237.22 1723.92,239.84 1721.2,242.5 1718.47,245.23 1715.74,248.01 1713.01,250.85 1710.29,253.75 1707.56,256.72 1704.83,259.76 1702.11,262.87 1699.38,266.05 1696.65,269.3 1693.92,272.63 1691.19,276.04 1688.47,279.51 1685.74,283.06 1683.01,286.68 1680.28,290.37 1677.56,294.13 1674.83,297.95 1672.1,301.83 1669.38,305.77 1666.65,309.78 1663.92,313.84 1661.19,317.96 1658.46,322.13 1655.74,326.35 1653.01,330.63 1650.28,334.95 1647.55,339.32 1644.83,343.74 1642.1,348.2 1639.37,352.7 1636.64,357.24 1633.92,361.81 1631.19,366.41 1628.46,371.03 1625.73,375.67 1623.01,380.32 1620.28,384.98 1617.55,389.64 1614.83,394.3 1612.1,398.95 1609.37,403.6 1606.64,408.23 1603.91,412.87 1601.19,417.5 1598.46,422.12 1595.73,426.74 1593,431.36 1590.28,435.98 1587.55,440.6 1583.55,447.37" fill="#2e8b57" fill-opacity="0.1"/>
<polyline points="1583.55,400.59 1587.55,392.1 1590.28,386.31 1593,380.52 1595.73,374.73 1598.46,368.95 1601.19,363.17 1603.91,357.4 1606.64,351.64 1609.37,345.88 1612.1,340.13 1614.83,334.4 1617.55,328.68 1620.28,322.98 1623.01,317.3 1625.73,311.67 1628.46,306.07 1631.19,300.52 1633.92,295.04 1636.64,289.62 1639.37,284.27 1642.1,279 1644.83,273.82 1647.55,268.73 1650.28,263.72 1653.01,258.81 1655.74,253.98 1658.46,249.24 1661.19,244.59 1663.92,240.02 1666.65,235.54 1669.38,231.15 1672.1,226.85 1674.83,222.63 1677.56,218.5 1680.28,214.45 1683.01,210.5 1685.74,206.63 1688.47,202.84 1691.19,199.14 1693.92,195.53 1696.65,192 1699.38,188.56 1702.11,185.2 1704.83,181.93 1707.56,178.74 1710.29,175.63 1713.01,172.6 1715.74,169.66 1718.47,166.79 1721.2,164 1723.92,161.29 1726.65,158.66 1729.38,156.1 1732.11,153.62 1734.84,151.22 1737.56,148.88 1740.29,146.62 1743.02,144.44 1745.74,142.32 1748.47,140.28 1751.2,138.3 1753.93,136.39 1756.65,134.55 1759.38,132.78 1762.11,131.08 1764.84,129.44 1767.56,127.87 1770.29,126.37 1773.02,124.93 1775.75,123.56 1778.47,122.25 1781.2,121 1783.93,119.82 1786.66,118.7 1789.38,117.64 1792.11,116.65 1794.84,115.72 1797.57,114.85 1800.29,114.04 1803.02,113.29 1805.75,112.6 1808.48,111.97 1811.2,111.4 1813.93,110.89 1816.66,110.43 1819.39,110.04 1822.11,109.7 1824.84,109.42 1827.57,109.19 1830.3,109.02 1833.02,108.91 1835.75,108.86 1838.48,108.85 1841.21,108.91 1843.93,109.02 1846.66,109.18 1849.39,109.4 1852.12,109.67 1854.84,109.99 1857.57,110.37 1860.3,110.8 1863.03,111.28 1865.75,111.81 1868.48,112.39 1871.21,113.02 1873.94,113.68 1876.66,114.39 1879.39,115.14 1882.12,115.92 1884.85,116.74 1887.57,117.59 1890.3,118.48 1893.03,119.39 1895.76,120.32 1898.48,121.28 1901.21,122.26 1903.94,123.26 1906.67,124.27 1909.39,125.3 1912.12,126.35 1914.85,127.4 1917.58,128.46 1920.3,129.53 1923.03,130.61 1925.76,131.71 1928.49,132.81 1931.21,133.93 1933.94,135.06 1936.67,136.21 1939.4,137.37 1942.12,138.55 1944.85,139.75 1947.58,140.96 1950.31,142.2 1953.03,143.46 1955.76,144.74 1958.49,146.04 1961.22,147.37 1963.94,148.72 1966.67,150.1 1969.4,151.5 1972.13,152.93 1974.85,154.39 1977.58,155.88 1980.31,157.38 1983.04,158.91 1985.76,160.46 1988.49,162.03 1991.22,163.62 1993.95,165.23 1996.67,166.85 1999.4,168.49 2002.13,170.13 2004.86,171.79 2007.58,173.46 2010.31,175.14 2013.04,176.82 2015.77,178.51 2018.49,180.21 2021.22,181.9 2023.95,183.6 2027.95,186.09" stroke="#deb887" stroke-width="1.75" stroke-dasharray="0.05 2.97" stroke-dashoffset="-0.3" stroke-linecap="round"/>
<polyline points="1583.55,447.74 1587.55,441 1590.28,436.41 1593,431.81 1595.73,427.22 1598.46,422.62 1601.19,418.02 1603.91,413.42 1606.64,408.82 1609.37,404.22 1612.1,399.61 1614.83,395 1617.55,390.39 1620.28,385.77 1623.01,381.16 1625.73,376.57 1628.46,371.98 1631.19,367.41 1633.92,362.86 1636.64,358.34 1639.37,353.85 1642.1,349.4 1644.83,344.98 1647.55,340.61 1650.28,336.28 1653.01,331.99 1655.74,327.75 1658.46,323.56 1661.19,319.42 1663.92,315.34 1666.65,311.3 1669.38,307.33 1672.1,303.42 1674.83,299.57 1677.56,295.78 1680.28,292.05 1683.01,288.4 1685.74,284.81 1688.47,281.3 1691.19,277.85 1693.92,274.49 1696.65,271.2 1699.38,267.99 1702.11,264.86 1704.83,261.8 1707.56,258.82 1710.29,255.9 1713.01,253.05 1715.74,250.27 1718.47,247.54 1721.2,244.88 1723.92,242.28 1726.65,239.72 1729.38,237.23 1732.11,234.78 1734.84,232.37 1737.56,230.01 1740.29,227.7 1743.02,225.42 1745.74,223.18 1748.47,220.97 1751.2,218.8 1753.93,216.66 1756.65,214.54 1759.38,212.46 1762.11,210.41 1764.84,208.39 1767.56,206.4 1770.29,204.44 1773.02,202.52 1775.75,200.64 1778.47,198.79 1781.2,196.98 1783.93,195.2 1786.66,193.46 1789.38,191.76 1792.11,190.1 1794.84,188.48 1797.57,186.9 1800.29,185.36 1803.02,183.86 1805.75,182.4 1808.48,180.99 1811.2,179.62 1813.93,178.29 1816.66,177 1819.39,175.76 1822.11,174.56 1824.84,173.4 1827.57,172.29 1830.3,171.22 1833.02,170.19 1835.75,169.2 1838.48,168.25 1841.21,167.35 1843.93,166.49 1846.66,165.67 1849.39,164.89 1852.12,164.16 1854.84,163.46 1857.57,162.81 1860.3,162.2 1863.03,161.63 1865.75,161.1 1868.48,160.61 1871.21,160.17 1873.94,159.76 1876.66,159.39 1879.39,159.06 1882.12,158.76 1884.85,158.5 1887.57,158.29 1890.3,158.1 1893.03,157.95 1895.76,157.84 1898.48,157.76 1901.21,157.72 1903.94,157.71 1906.67,157.74 1909.39,157.79 1912.12,157.88 1914.85,158 1917.58,158.15 1920.3,158.33 1923.03,158.55 1925.76,158.79 1928.49,159.06 1931.21,159.36 1933.94,159.69 1936.67,160.05 1939.4,160.44 1942.12,160.86 1944.85,161.3 1947.58,161.78 1950.31,162.28 1953.03,162.8 1955.76,163.35 1958.49,163.93 1961.22,164.54 1963.94,165.17 1966.67,165.82 1969.4,166.5 1972.13,167.2 1974.85,167.93 1977.58,168.68 1980.31,169.45 1983.04,170.24 1985.76,171.05 1988.49,171.87 1991.22,172.71 1993.95,173.57 1996.67,174.44 1999.4,175.32 2002.13,176.21 2004.86,177.11 2007.58,178.02 2010.31,178.94 2013.04,179.87 2015.77,180.8 2018.49,181.73 2021.22,182.66 2023.95,183.6 2027.95,184.97" stroke="#deb887" stroke-width="1.75" stroke-dasharray="0.05 2.97" stroke-dashoffset="-0.3" stroke-linecap="round"/>
<polyline points="1583.55,423.17 1587.55,415.8 1590.28,410.78 1593,405.75 1595.73,400.73 1598.46,395.7 1601.19,390.66 1603.91,385.62 1606.64,380.58 1609.37,375.53 1612.1,370.47 1614.83,365.4 1617.55,360.32 1620.28,355.24 1623.01,350.17 1625.73,345.1 1628.46,340.05 1631.19,335.03 1633.92,330.03 1636.64,325.07 1639.37,320.16 1642.1,315.3 1644.83,310.49 1647.55,305.75 1650.28,301.06 1653.01,296.44 1655.74,291.88 1658.46,287.38 1661.19,282.94 1663.92,278.58 1666.65,274.28 1669.38,270.05 1672.1,265.89 1674.83,261.8 1677.56,257.78 1680.28,253.84 1683.01,249.97 1685.74,246.18 1688.47,242.46 1691.19,238.83 1693.92,235.27 1696.65,231.8 1699.38,228.41 1702.11,225.1 1704.83,221.87 1707.56,218.71 1710.29,215.64 1713.01,212.64 1715.74,209.72 1718.47,206.87 1721.2,204.09 1723.92,201.39 1726.65,198.75 1729.38,196.19 1732.11,193.69 1734.84,191.26 1737.56,188.89 1740.29,186.59 1743.02,184.35 1745.74,182.17 1748.47,180.06 1751.2,178 1753.93,176 1756.65,174.06 1759.38,172.18 1762.11,170.35 1764.84,168.58 1767.56,166.87 1770.29,165.21 1773.02,163.61 1775.75,162.07 1778.47,160.58 1781.2,159.15 1783.93,157.77 1786.66,156.45 1789.38,155.18 1792.11,153.97 1794.84,152.81 1797.57,151.7 1800.29,150.65 1803.02,149.65 1805.75,148.7 1808.48,147.81 1811.2,146.96 1813.93,146.17 1816.66,145.43 1819.39,144.74 1822.11,144.1 1824.84,143.5 1827.57,142.96 1830.3,142.46 1833.02,142 1835.75,141.59 1838.48,141.23 1841.21,140.9 1843.93,140.63 1846.66,140.39 1849.39,140.19 1852.12,140.03 1854.84,139.92 1857.57,139.84 1860.3,139.8 1863.03,139.8 1865.75,139.83 1868.48,139.9 1871.21,140 1873.94,140.14 1876.66,140.31 1879.39,140.52 1882.12,140.75 1884.85,141.02 1887.57,141.31 1890.3,141.63 1893.03,141.98 1895.76,142.36 1898.48,142.77 1901.21,143.2 1903.94,143.65 1906.67,144.13 1909.39,144.63 1912.12,145.16 1914.85,145.7 1917.58,146.27 1920.3,146.85 1923.03,147.46 1925.76,148.08 1928.49,148.73 1931.21,149.4 1933.94,150.09 1936.67,150.8 1939.4,151.53 1942.12,152.28 1944.85,153.06 1947.58,153.85 1950.31,154.67 1953.03,155.51 1955.76,156.37 1958.49,157.25 1961.22,158.16 1963.94,159.08 1966.67,160.03 1969.4,161 1972.13,161.99 1974.85,163.01 1977.58,164.04 1980.31,165.09 1983.04,166.16 1985.76,167.25 1988.49,168.35 1991.22,169.47 1993.95,170.6 1996.67,171.74 1999.4,172.9 2002.13,174.06 2004.86,175.23 2007.58,176.41 2010.31,177.6 2013.04,178.79 2015.77,179.99 2018.49,181.19 2021.22,182.4 2023.95,183.6 2027.95,185.37" stroke="#deb887" stroke-width="5.2" stroke-linejoin="round"/>
<polyline points="1583.55,400.52 1587.55,392 1590.28,386.19 1593,380.39 1595.73,374.58 1598.46,368.78 1601.19,362.98 1603.91,357.19 1606.64,351.41 1609.37,345.63 1612.1,339.86 1614.83,334.1 1617.55,328.35 1620.28,322.62 1623.01,316.92 1625.73,311.25 1628.46,305.63 1631.19,300.05 1633.92,294.53 1636.64,289.08 1639.37,283.7 1642.1,278.4 1644.83,273.19 1647.55,268.06 1650.28,263.03 1653.01,258.08 1655.74,253.22 1658.46,248.44 1661.19,243.75 1663.92,239.15 1666.65,234.63 1669.38,230.19 1672.1,225.84 1674.83,221.57 1677.56,217.39 1680.28,213.29 1683.01,209.27 1685.74,205.33 1688.47,201.48 1691.19,197.71 1693.92,194.01 1696.65,190.4 1699.38,186.87 1702.11,183.41 1704.83,180.04 1707.56,176.74 1710.29,173.52 1713.01,170.37 1715.74,167.3 1718.47,164.3 1721.2,161.38 1723.92,158.53 1726.65,155.76 1729.38,153.05 1732.11,150.42 1734.84,147.85 1737.56,145.36 1740.29,142.93 1743.02,140.57 1745.74,138.28 1748.47,136.06 1751.2,133.9 1753.93,131.81 1756.65,129.78 1759.38,127.81 1762.11,125.91 1764.84,124.07 1767.56,122.29 1770.29,120.58 1773.02,118.92 1775.75,117.33 1778.47,115.8 1781.2,114.33 1783.93,112.92 1786.66,111.56 1789.38,110.27 1792.11,109.03 1794.84,107.85 1797.57,106.73 1800.29,105.66 1803.02,104.65 1805.75,103.7 1808.48,102.8 1811.2,101.96 1813.93,101.17 1816.66,100.44 1819.39,99.77 1822.11,99.16 1824.84,98.62 1827.57,98.13 1830.3,97.7 1833.02,97.34 1835.75,97.04 1838.48,96.81 1841.21,96.64 1843.93,96.54 1846.66,96.51 1849.39,96.55 1852.12,96.65 1854.84,96.83 1857.57,97.08 1860.3,97.4 1863.03,97.79 1865.75,98.26 1868.48,98.79 1871.21,99.39 1873.94,100.06 1876.66,100.79 1879.39,101.58 1882.12,102.43 1884.85,103.33 1887.57,104.29 1890.3,105.3 1893.03,106.36 1895.76,107.47 1898.48,108.63 1901.21,109.82 1903.94,111.07 1906.67,112.34 1909.39,113.66 1912.12,115.01 1914.85,116.4 1917.58,117.82 1920.3,119.26 1923.03,120.74 1925.76,122.24 1928.49,123.76 1931.21,125.32 1933.94,126.89 1936.67,128.48 1939.4,130.09 1942.12,131.72 1944.85,133.37 1947.58,135.03 1950.31,136.71 1953.03,138.4 1955.76,140.1 1958.49,141.8 1961.22,143.52 1963.94,145.24 1966.67,146.97 1969.4,148.7 1972.13,150.43 1974.85,152.17 1977.58,153.9 1980.31,155.64 1983.04,157.38 1985.76,159.12 1988.49,160.87 1991.22,162.61 1993.95,164.35 1996.67,166.1 1999.4,167.85 2002.13,169.6 2004.86,171.34 2007.58,173.09 2010.31,174.84 2013.04,176.59 2015.77,178.35 2018.49,180.1 2021.22,181.85 2023.95,183.6 2027.95,186.17" stroke="#985a24" stroke-width="1.75" stroke-dasharray="0.05 2.97" stroke-dashoffset="-0.6" stroke-linecap="round"/>
<polyline points="1583.55,447.54 1587.55,440.8 1590.28,436.2 1593,431.6 1595.73,427.01 1598.46,422.4 1601.19,417.8 1603.91,413.19 1606.64,408.58 1609.37,403.96 1612.1,399.33 1614.83,394.7 1617.55,390.06 1620.28,385.42 1623.01,380.78 1625.73,376.15 1628.46,371.53 1631.19,366.93 1633.92,362.35 1636.64,357.8 1639.37,353.28 1642.1,348.8 1644.83,344.36 1647.55,339.97 1650.28,335.62 1653.01,331.32 1655.74,327.07 1658.46,322.88 1661.19,318.73 1663.92,314.64 1666.65,310.61 1669.38,306.64 1672.1,302.72 1674.83,298.87 1677.56,295.09 1680.28,291.36 1683.01,287.71 1685.74,284.12 1688.47,280.61 1691.19,277.16 1693.92,273.79 1696.65,270.5 1699.38,267.28 1702.11,264.14 1704.83,261.07 1707.56,258.07 1710.29,255.14 1713.01,252.28 1715.74,249.47 1718.47,246.73 1721.2,244.05 1723.92,241.42 1726.65,238.84 1729.38,236.31 1732.11,233.83 1734.84,231.4 1737.56,229 1740.29,226.65 1743.02,224.34 1745.74,222.06 1748.47,219.82 1751.2,217.6 1753.93,215.41 1756.65,213.26 1759.38,211.13 1762.11,209.03 1764.84,206.97 1767.56,204.94 1770.29,202.94 1773.02,200.98 1775.75,199.06 1778.47,197.18 1781.2,195.33 1783.93,193.53 1786.66,191.77 1789.38,190.05 1792.11,188.37 1794.84,186.74 1797.57,185.16 1800.29,183.62 1803.02,182.14 1805.75,180.7 1808.48,179.31 1811.2,177.98 1813.93,176.69 1816.66,175.45 1819.39,174.26 1822.11,173.11 1824.84,172 1827.57,170.94 1830.3,169.92 1833.02,168.94 1835.75,168 1838.48,167.1 1841.21,166.23 1843.93,165.4 1846.66,164.6 1849.39,163.84 1852.12,163.11 1854.84,162.41 1857.57,161.74 1860.3,161.1 1863.03,160.49 1865.75,159.9 1868.48,159.35 1871.21,158.82 1873.94,158.32 1876.66,157.86 1879.39,157.43 1882.12,157.03 1884.85,156.67 1887.57,156.34 1890.3,156.05 1893.03,155.8 1895.76,155.58 1898.48,155.4 1901.21,155.26 1903.94,155.17 1906.67,155.11 1909.39,155.1 1912.12,155.13 1914.85,155.2 1917.58,155.32 1920.3,155.48 1923.03,155.68 1925.76,155.93 1928.49,156.22 1931.21,156.54 1933.94,156.91 1936.67,157.31 1939.4,157.75 1942.12,158.23 1944.85,158.74 1947.58,159.28 1950.31,159.85 1953.03,160.46 1955.76,161.1 1958.49,161.76 1961.22,162.46 1963.94,163.18 1966.67,163.93 1969.4,164.7 1972.13,165.5 1974.85,166.32 1977.58,167.16 1980.31,168.02 1983.04,168.9 1985.76,169.8 1988.49,170.71 1991.22,171.64 1993.95,172.59 1996.67,173.55 1999.4,174.52 2002.13,175.5 2004.86,176.49 2007.58,177.49 2010.31,178.5 2013.04,179.51 2015.77,180.53 2018.49,181.55 2021.22,182.58 2023.95,183.6 2027.95,185.1" stroke="#985a24" stroke-width="1.75" stroke-dasharray="0.05 2.97" stroke-dashoffset="-0.6" stroke-linecap="round"/>
<polyline points="1583.55,422.99 1587.55,415.6 1590.28,410.56 1593,405.52 1595.73,400.47 1598.46,395.42 1601.19,390.37 1603.91,385.31 1606.64,380.25 1609.37,375.17 1612.1,370.09 1614.83,365 1617.55,359.9 1620.28,354.79 1623.01,349.69 1625.73,344.59 1628.46,339.52 1631.19,334.46 1633.92,329.43 1636.64,324.44 1639.37,319.5 1642.1,314.6 1644.83,309.76 1647.55,304.97 1650.28,300.25 1653.01,295.58 1655.74,290.98 1658.46,286.44 1661.19,281.96 1663.92,277.54 1666.65,273.2 1669.38,268.91 1672.1,264.7 1674.83,260.55 1677.56,256.48 1680.28,252.47 1683.01,248.54 1685.74,244.68 1688.47,240.9 1691.19,237.19 1693.92,233.55 1696.65,230 1699.38,226.52 1702.11,223.13 1704.83,219.8 1707.56,216.56 1710.29,213.39 1713.01,210.29 1715.74,207.26 1718.47,204.3 1721.2,201.41 1723.92,198.6 1726.65,195.84 1729.38,193.16 1732.11,190.54 1734.84,187.98 1737.56,185.48 1740.29,183.05 1743.02,180.67 1745.74,178.36 1748.47,176.1 1751.2,173.9 1753.93,171.75 1756.65,169.66 1759.38,167.63 1762.11,165.65 1764.84,163.72 1767.56,161.86 1770.29,160.04 1773.02,158.29 1775.75,156.59 1778.47,154.94 1781.2,153.35 1783.93,151.82 1786.66,150.35 1789.38,148.93 1792.11,147.56 1794.84,146.26 1797.57,145.01 1800.29,143.81 1803.02,142.68 1805.75,141.6 1808.48,140.58 1811.2,139.61 1813.93,138.7 1816.66,137.85 1819.39,137.05 1822.11,136.3 1824.84,135.6 1827.57,134.96 1830.3,134.37 1833.02,133.82 1835.75,133.33 1838.48,132.89 1841.21,132.49 1843.93,132.14 1846.66,131.84 1849.39,131.58 1852.12,131.37 1854.84,131.2 1857.57,131.08 1860.3,131 1863.03,130.96 1865.75,130.96 1868.48,131.01 1871.21,131.09 1873.94,131.22 1876.66,131.39 1879.39,131.6 1882.12,131.84 1884.85,132.13 1887.57,132.45 1890.3,132.82 1893.03,133.22 1895.76,133.66 1898.48,134.14 1901.21,134.66 1903.94,135.21 1906.67,135.81 1909.39,136.43 1912.12,137.1 1914.85,137.8 1917.58,138.54 1920.3,139.31 1923.03,140.11 1925.76,140.95 1928.49,141.82 1931.21,142.72 1933.94,143.64 1936.67,144.6 1939.4,145.58 1942.12,146.59 1944.85,147.62 1947.58,148.67 1950.31,149.75 1953.03,150.84 1955.76,151.96 1958.49,153.1 1961.22,154.25 1963.94,155.42 1966.67,156.6 1969.4,157.8 1972.13,159.01 1974.85,160.23 1977.58,161.47 1980.31,162.71 1983.04,163.97 1985.76,165.24 1988.49,166.51 1991.22,167.79 1993.95,169.08 1996.67,170.38 1999.4,171.68 2002.13,172.99 2004.86,174.31 2007.58,175.63 2010.31,176.95 2013.04,178.28 2015.77,179.6 2018.49,180.94 2021.22,182.27 2023.95,183.6 2027.95,185.55" stroke="#985a24" stroke-width="5.2" stroke-linejoin="round"/>
<polyline points="1583.55,400.45 1587.55,391.9 1590.28,386.07 1593,380.25 1595.73,374.42 1598.46,368.6 1601.19,362.78 1603.91,356.97 1606.64,351.17 1609.37,345.37 1612.1,339.58 1614.83,333.8 1617.55,328.03 1620.28,322.28 1623.01,316.56 1625.73,310.87 1628.46,305.21 1631.19,299.61 1633.92,294.06 1636.64,288.57 1639.37,283.15 1642.1,277.8 1644.83,272.54 1647.55,267.36 1650.28,262.26 1653.01,257.24 1655.74,252.3 1658.46,247.44 1661.19,242.67 1663.92,237.97 1666.65,233.35 1669.38,228.8 1672.1,224.34 1674.83,219.95 1677.56,215.63 1680.28,211.39 1683.01,207.23 1685.74,203.14 1688.47,199.12 1691.19,195.18 1693.92,191.3 1696.65,187.5 1699.38,183.77 1702.11,180.11 1704.83,176.52 1707.56,173 1710.29,169.55 1713.01,166.17 1715.74,162.86 1718.47,159.62 1721.2,156.46 1723.92,153.36 1726.65,150.33 1729.38,147.37 1732.11,144.48 1734.84,141.66 1737.56,138.91 1740.29,136.23 1743.02,133.62 1745.74,131.08 1748.47,128.6 1751.2,126.2 1753.93,123.87 1756.65,121.6 1759.38,119.4 1762.11,117.27 1764.84,115.21 1767.56,113.22 1770.29,111.3 1773.02,109.45 1775.75,107.66 1778.47,105.94 1781.2,104.29 1783.93,102.71 1786.66,101.2 1789.38,99.75 1792.11,98.38 1794.84,97.07 1797.57,95.82 1800.29,94.65 1803.02,93.54 1805.75,92.5 1808.48,91.53 1811.2,90.62 1813.93,89.78 1816.66,89.01 1819.39,88.31 1822.11,87.68 1824.84,87.11 1827.57,86.61 1830.3,86.18 1833.02,85.82 1835.75,85.53 1838.48,85.3 1841.21,85.15 1843.93,85.06 1846.66,85.04 1849.39,85.1 1852.12,85.22 1854.84,85.41 1857.57,85.67 1860.3,86 1863.03,86.4 1865.75,86.87 1868.48,87.41 1871.21,88.01 1873.94,88.68 1876.66,89.42 1879.39,90.22 1882.12,91.08 1884.85,92.01 1887.57,93 1890.3,94.05 1893.03,95.16 1895.76,96.33 1898.48,97.56 1901.21,98.84 1903.94,100.19 1906.67,101.58 1909.39,103.04 1912.12,104.54 1914.85,106.1 1917.58,107.71 1920.3,109.37 1923.03,111.08 1925.76,112.82 1928.49,114.61 1931.21,116.44 1933.94,118.3 1936.67,120.19 1939.4,122.11 1942.12,124.05 1944.85,126.02 1947.58,128 1950.31,130 1953.03,132.02 1955.76,134.04 1958.49,136.07 1961.22,138.1 1963.94,140.14 1966.67,142.17 1969.4,144.2 1972.13,146.22 1974.85,148.23 1977.58,150.24 1980.31,152.24 1983.04,154.23 1985.76,156.21 1988.49,158.19 1991.22,160.17 1993.95,162.14 1996.67,164.1 1999.4,166.06 2002.13,168.02 2004.86,169.98 2007.58,171.93 2010.31,173.88 2013.04,175.82 2015.77,177.77 2018.49,179.71 2021.22,181.66 2023.95,183.6 2027.95,186.45" stroke="#2e8b57" stroke-width="1.75" stroke-dasharray="0.05 2.97" stroke-dashoffset="0" stroke-linecap="round"/>
<polyline points="1583.55,447.37 1587.55,440.6 1590.28,435.98 1593,431.36 1595.73,426.74 1598.46,422.12 1601.19,417.5 1603.91,412.87 1606.64,408.23 1609.37,403.6 1612.1,398.95 1614.83,394.3 1617.55,389.64 1620.28,384.98 1623.01,380.32 1625.73,375.67 1628.46,371.03 1631.19,366.41 1633.92,361.81 1636.64,357.24 1639.37,352.7 1642.1,348.2 1644.83,343.74 1647.55,339.32 1650.28,334.95 1653.01,330.63 1655.74,326.35 1658.46,322.13 1661.19,317.96 1663.92,313.84 1666.65,309.78 1669.38,305.77 1672.1,301.83 1674.83,297.95 1677.56,294.13 1680.28,290.37 1683.01,286.68 1685.74,283.06 1688.47,279.51 1691.19,276.04 1693.92,272.63 1696.65,269.3 1699.38,266.05 1702.11,262.87 1704.83,259.76 1707.56,256.72 1710.29,253.75 1713.01,250.85 1715.74,248.01 1718.47,245.23 1721.2,242.5 1723.92,239.84 1726.65,237.22 1729.38,234.66 1732.11,232.14 1734.84,229.67 1737.56,227.25 1740.29,224.87 1743.02,222.52 1745.74,220.21 1748.47,217.94 1751.2,215.7 1753.93,213.49 1756.65,211.31 1759.38,209.16 1762.11,207.04 1764.84,204.96 1767.56,202.91 1770.29,200.9 1773.02,198.92 1775.75,196.98 1778.47,195.07 1781.2,193.21 1783.93,191.38 1786.66,189.6 1789.38,187.85 1792.11,186.15 1794.84,184.49 1797.57,182.87 1800.29,181.3 1803.02,179.78 1805.75,178.3 1808.48,176.87 1811.2,175.48 1813.93,174.15 1816.66,172.85 1819.39,171.6 1822.11,170.4 1824.84,169.24 1827.57,168.12 1830.3,167.05 1833.02,166.01 1835.75,165.02 1838.48,164.06 1841.21,163.15 1843.93,162.27 1846.66,161.44 1849.39,160.64 1852.12,159.87 1854.84,159.15 1857.57,158.46 1860.3,157.8 1863.03,157.18 1865.75,156.59 1868.48,156.04 1871.21,155.52 1873.94,155.04 1876.66,154.6 1879.39,154.2 1882.12,153.83 1884.85,153.51 1887.57,153.22 1890.3,152.98 1893.03,152.77 1895.76,152.61 1898.48,152.49 1901.21,152.41 1903.94,152.38 1906.67,152.39 1909.39,152.45 1912.12,152.55 1914.85,152.7 1917.58,152.9 1920.3,153.14 1923.03,153.42 1925.76,153.75 1928.49,154.12 1931.21,154.53 1933.94,154.98 1936.67,155.47 1939.4,155.99 1942.12,156.55 1944.85,157.15 1947.58,157.77 1950.31,158.43 1953.03,159.12 1955.76,159.83 1958.49,160.58 1961.22,161.35 1963.94,162.14 1966.67,162.96 1969.4,163.8 1972.13,164.66 1974.85,165.54 1977.58,166.44 1980.31,167.36 1983.04,168.29 1985.76,169.24 1988.49,170.21 1991.22,171.19 1993.95,172.18 1996.67,173.18 1999.4,174.19 2002.13,175.21 2004.86,176.24 2007.58,177.28 2010.31,178.32 2013.04,179.37 2015.77,180.43 2018.49,181.48 2021.22,182.54 2023.95,183.6 2027.95,185.15" stroke="#2e8b57" stroke-width="1.75" stroke-dasharray="0.05 2.97" stroke-dashoffset="0" stroke-linecap="round"/>
<polyline points="1583.55,422.83 1587.55,415.4 1590.28,410.34 1593,405.27 1595.73,400.21 1598.46,395.14 1601.19,390.06 1603.91,384.99 1606.64,379.9 1609.37,374.81 1612.1,369.71 1614.83,364.6 1617.55,359.48 1620.28,354.36 1623.01,349.24 1625.73,344.12 1628.46,339.02 1631.19,333.94 1633.92,328.88 1636.64,323.85 1639.37,318.85 1642.1,313.9 1644.83,308.99 1647.55,304.14 1650.28,299.33 1653.01,294.57 1655.74,289.87 1658.46,285.23 1661.19,280.64 1663.92,276.11 1666.65,271.65 1669.38,267.25 1672.1,262.91 1674.83,258.64 1677.56,254.44 1680.28,250.31 1683.01,246.25 1685.74,242.26 1688.47,238.35 1691.19,234.52 1693.92,230.77 1696.65,227.1 1699.38,223.51 1702.11,220.01 1704.83,216.58 1707.56,213.23 1710.29,209.96 1713.01,206.76 1715.74,203.64 1718.47,200.59 1721.2,197.61 1723.92,194.7 1726.65,191.85 1729.38,189.07 1732.11,186.36 1734.84,183.7 1737.56,181.11 1740.29,178.58 1743.02,176.1 1745.74,173.68 1748.47,171.31 1751.2,169 1753.93,166.74 1756.65,164.53 1759.38,162.37 1762.11,160.26 1764.84,158.21 1767.56,156.2 1770.29,154.26 1773.02,152.36 1775.75,150.52 1778.47,148.73 1781.2,147 1783.93,145.32 1786.66,143.7 1789.38,142.13 1792.11,140.61 1794.84,139.16 1797.57,137.76 1800.29,136.42 1803.02,135.13 1805.75,133.9 1808.48,132.73 1811.2,131.62 1813.93,130.56 1816.66,129.56 1819.39,128.62 1822.11,127.73 1824.84,126.9 1827.57,126.13 1830.3,125.42 1833.02,124.76 1835.75,124.15 1838.48,123.6 1841.21,123.11 1843.93,122.67 1846.66,122.29 1849.39,121.96 1852.12,121.69 1854.84,121.47 1857.57,121.31 1860.3,121.2 1863.03,121.14 1865.75,121.14 1868.48,121.19 1871.21,121.3 1873.94,121.45 1876.66,121.66 1879.39,121.92 1882.12,122.22 1884.85,122.58 1887.57,122.98 1890.3,123.44 1893.03,123.94 1895.76,124.49 1898.48,125.08 1901.21,125.72 1903.94,126.41 1906.67,127.14 1909.39,127.92 1912.12,128.74 1914.85,129.6 1917.58,130.51 1920.3,131.45 1923.03,132.44 1925.76,133.46 1928.49,134.52 1931.21,135.61 1933.94,136.74 1936.67,137.9 1939.4,139.09 1942.12,140.31 1944.85,141.55 1947.58,142.82 1950.31,144.12 1953.03,145.43 1955.76,146.77 1958.49,148.12 1961.22,149.49 1963.94,150.88 1966.67,152.28 1969.4,153.7 1972.13,155.13 1974.85,156.56 1977.58,158.01 1980.31,159.47 1983.04,160.93 1985.76,162.41 1988.49,163.89 1991.22,165.38 1993.95,166.87 1996.67,168.37 1999.4,169.88 2002.13,171.39 2004.86,172.91 2007.58,174.43 2010.31,175.95 2013.04,177.48 2015.77,179.01 2018.49,180.54 2021.22,182.07 2023.95,183.6 2027.95,185.85" stroke="#2e8b57" stroke-width="5.2" stroke-linejoin="round"/>
</g>
<g clip-path="url(#cb0)" fill="none">
<polygon points="146.45,684 201,661.6 255.55,718.1 310.1,743.7 364.65,714.5 419.2,674.5 473.75,640.9 528.3,673.2 528.3,694.5 473.75,663.5 419.2,695.1 364.65,735 310.1,766.3 255.55,753.2 201,718.1 146.45,743.7" fill="#deb887" fill-opacity="0.1"/>
<polygon points="146.45,687.6 201,669 255.55,729.7 310.1,748.7 364.65,729.5 419.2,690.6 473.75,658.8 528.3,689.2 528.3,716 473.75,686.9 419.2,719.6 364.65,756 310.1,766.3 255.55,758.7 201,721.6 146.45,747.7" fill="#985a24" fill-opacity="0.1"/>
<polygon points="146.45,705.6 201,689.3 255.55,751.2 310.1,757.4 364.65,746.2 419.2,709.6 473.75,676 528.3,705.3 528.3,731.4 473.75,701.8 419.2,733.7 364.65,769.2 310.1,778.3 255.55,774.8 201,735.2 146.45,758.7" fill="#2e8b57" fill-opacity="0.1"/>
<polyline points="146.45,684 201,661.6 255.55,718.1 310.1,743.7 364.65,714.5 419.2,674.5 473.75,640.9 528.3,673.2" stroke="#deb887" stroke-width="1.75" stroke-dasharray="0.05 2.97" stroke-linecap="round"/>
<polyline points="146.45,743.7 201,718.1 255.55,753.2 310.1,766.3 364.65,735 419.2,695.1 473.75,663.5 528.3,694.5" stroke="#deb887" stroke-width="1.75" stroke-dasharray="0.05 2.97" stroke-linecap="round"/>
<polyline points="146.45,714.1 201,692.6 255.55,739.2 310.1,755.2 364.65,722.5 419.2,682.5 473.75,649.7 528.3,682.8" stroke="#deb887" stroke-width="5.2" stroke-linejoin="round" stroke-linecap="square"/>
<polyline points="146.45,687.6 201,669 255.55,729.7 310.1,748.7 364.65,729.5 419.2,690.6 473.75,658.8 528.3,689.2" stroke="#985a24" stroke-width="1.75" stroke-dasharray="0.05 2.97" stroke-linecap="round"/>
<polyline points="146.45,747.7 201,721.6 255.55,758.7 310.1,766.3 364.65,756 419.2,719.6 473.75,686.9 528.3,716" stroke="#985a24" stroke-width="1.75" stroke-dasharray="0.05 2.97" stroke-linecap="round"/>
<polyline points="146.45,718.6 201,697.3 255.55,747.2 310.1,759.2 364.65,742.2 419.2,703.6 473.75,670.8 528.3,702.2" stroke="#985a24" stroke-width="5.2" stroke-linejoin="round" stroke-linecap="square"/>
<polyline points="146.45,705.6 201,689.3 255.55,751.2 310.1,757.4 364.65,746.2 419.2,709.6 473.75,676 528.3,705.3" stroke="#2e8b57" stroke-width="1.75" stroke-dasharray="0.05 2.97" stroke-linecap="round"/>
<polyline points="146.45,758.7 201,735.2 255.55,774.8 310.1,778.3 364.65,769.2 419.2,733.7 473.75,701.8 528.3,731.4" stroke="#2e8b57" stroke-width="1.75" stroke-dasharray="0.05 2.97" stroke-linecap="round"/>
<polyline points="146.45,733.7 201,713.6 255.55,766.8 310.1,770.8 364.65,756.2 419.2,719.6 473.75,686.9 528.3,716" stroke="#2e8b57" stroke-width="5.2" stroke-linejoin="round" stroke-linecap="square"/>
</g>
<g clip-path="url(#cb1)" fill="none">
<polygon points="645,735.2 699.55,696.32 754.1,657.44 808.65,618.56 863.2,579.68 917.75,540.8 972.3,507 1026.85,556.1 1026.85,667.9 972.3,634 917.75,666.5 863.2,706.2 808.65,745.9 754.1,785.6 699.55,825.3 645,865" fill="#deb887" fill-opacity="0.1"/>
<polygon points="645,786 699.55,746.88 754.1,707.76 808.65,668.64 863.2,629.52 917.75,590.4 972.3,557.2 1026.85,601.3 1026.85,682.4 972.3,647.8 917.75,680.6 863.2,720.58 808.65,760.56 754.1,800.54 699.55,840.52 645,880.5" fill="#985a24" fill-opacity="0.1"/>
<polygon points="645,838.8 699.55,799.32 754.1,759.84 808.65,720.36 863.2,680.88 917.75,641.4 972.3,610.4 1026.85,653.8 1026.85,703.4 972.3,667.4 917.75,700.3 863.2,740.58 808.65,780.86 754.1,821.14 699.55,861.42 645,901.7" fill="#2e8b57" fill-opacity="0.1"/>
<polyline points="645,735.2 699.55,696.32 754.1,657.44 808.65,618.56 863.2,579.68 917.75,540.8 972.3,507 1026.85,556.1" stroke="#deb887" stroke-width="1.75" stroke-dasharray="0.05 2.97" stroke-linecap="round"/>
<polyline points="645,865 699.55,825.3 754.1,785.6 808.65,745.9 863.2,706.2 917.75,666.5 972.3,634 1026.85,667.9" stroke="#deb887" stroke-width="1.75" stroke-dasharray="0.05 2.97" stroke-linecap="round"/>
<polyline points="645,808.5 699.55,769.06 754.1,729.62 808.65,690.18 863.2,650.74 917.75,611.3 972.3,577.3 1026.85,618.6" stroke="#deb887" stroke-width="5.2" stroke-linejoin="round" stroke-linecap="square"/>
<polyline points="645,786 699.55,746.88 754.1,707.76 808.65,668.64 863.2,629.52 917.75,590.4 972.3,557.2 1026.85,601.3" stroke="#985a24" stroke-width="1.75" stroke-dasharray="0.05 2.97" stroke-linecap="round"/>
<polyline points="645,880.5 699.55,840.52 754.1,800.54 808.65,760.56 863.2,720.58 917.75,680.6 972.3,647.8 1026.85,682.4" stroke="#985a24" stroke-width="1.75" stroke-dasharray="0.05 2.97" stroke-linecap="round"/>
<polyline points="645,837.1 699.55,797.42 754.1,757.74 808.65,718.06 863.2,678.38 917.75,638.7 972.3,606.4 1026.85,645.1" stroke="#985a24" stroke-width="5.2" stroke-linejoin="round" stroke-linecap="square"/>
<polyline points="645,838.8 699.55,799.32 754.1,759.84 808.65,720.36 863.2,680.88 917.75,641.4 972.3,610.4 1026.85,653.8" stroke="#2e8b57" stroke-width="1.75" stroke-dasharray="0.05 2.97" stroke-linecap="round"/>
<polyline points="645,901.7 699.55,861.42 754.1,821.14 808.65,780.86 863.2,740.58 917.75,700.3 972.3,667.4 1026.85,703.4" stroke="#2e8b57" stroke-width="1.75" stroke-dasharray="0.05 2.97" stroke-linecap="round"/>
<polyline points="645,865.5 699.55,825.78 754.1,786.06 808.65,746.34 863.2,706.62 917.75,666.9 972.3,634.5 1026.85,673.3" stroke="#2e8b57" stroke-width="5.2" stroke-linejoin="round" stroke-linecap="square"/>
</g>
<g clip-path="url(#cb2)" fill="none">
<polygon points="1143.55,785.9 1198.1,747.5 1252.65,720.2 1307.2,740.8 1361.75,739 1416.3,741.4 1470.85,737.1 1525.4,746.3 1525.4,780 1470.85,774.2 1416.3,781 1361.75,785.9 1307.2,812.2 1252.65,851.4 1198.1,890.2 1143.55,930" fill="#deb887" fill-opacity="0.1"/>
<polygon points="1143.55,790.5 1198.1,752.8 1252.65,726.5 1307.2,744.7 1361.75,744.7 1416.3,746.7 1470.85,743.7 1525.4,750.8 1525.4,780 1470.85,774.2 1416.3,781 1361.75,785.9 1307.2,812.2 1252.65,851.4 1198.1,890.2 1143.55,930" fill="#985a24" fill-opacity="0.1"/>
<polygon points="1143.55,809 1198.1,771.6 1252.65,746.5 1307.2,755.7 1361.75,756.8 1416.3,756 1470.85,751.7 1525.4,756.6 1525.4,785.9 1470.85,780.3 1416.3,787.6 1361.75,794.1 1307.2,817.5 1252.65,858.7 1198.1,897.5 1143.55,936.9" fill="#2e8b57" fill-opacity="0.1"/>
<polyline points="1143.55,785.9 1198.1,747.5 1252.65,720.2 1307.2,740.8 1361.75,739 1416.3,741.4 1470.85,737.1 1525.4,746.3" stroke="#deb887" stroke-width="1.75" stroke-dasharray="0.05 2.97" stroke-linecap="round"/>
<polyline points="1143.55,930 1198.1,890.2 1252.65,851.4 1307.2,812.2 1361.75,785.9 1416.3,781 1470.85,774.2 1525.4,780" stroke="#deb887" stroke-width="1.75" stroke-dasharray="0.05 2.97" stroke-linecap="round"/>
<polyline points="1143.55,862.8 1198.1,822.5 1252.65,784.7 1307.2,759.1 1361.75,762 1416.3,761.4 1470.85,757.9 1525.4,764.1" stroke="#deb887" stroke-width="5.2" stroke-linejoin="round" stroke-linecap="square"/>
<polyline points="1143.55,790.5 1198.1,752.8 1252.65,726.5 1307.2,744.7 1361.75,744.7 1416.3,746.7 1470.85,743.7 1525.4,750.8" stroke="#985a24" stroke-width="1.75" stroke-dasharray="0.05 2.97" stroke-linecap="round"/>
<polyline points="1143.55,930 1198.1,890.2 1252.65,851.4 1307.2,812.2 1361.75,785.9 1416.3,781 1470.85,774.2 1525.4,780" stroke="#985a24" stroke-width="1.75" stroke-dasharray="0.05 2.97" stroke-linecap="round"/>
<polyline points="1143.55,864.4 1198.1,824.1 1252.65,786.3 1307.2,760.7 1361.75,763.6 1416.3,763 1470.85,759.5 1525.4,765.7" stroke="#985a24" stroke-width="5.2" stroke-linejoin="round" stroke-linecap="square"/>
<polyline points="1143.55,809 1198.1,771.6 1252.65,746.5 1307.2,755.7 1361.75,756.8 1416.3,756 1470.85,751.7 1525.4,756.6" stroke="#2e8b57" stroke-width="1.75" stroke-dasharray="0.05 2.97" stroke-linecap="round"/>
<polyline points="1143.55,936.9 1198.1,897.5 1252.65,858.7 1307.2,817.5 1361.75,794.1 1416.3,787.6 1470.85,780.3 1525.4,785.9" stroke="#2e8b57" stroke-width="1.75" stroke-dasharray="0.05 2.97" stroke-linecap="round"/>
<polyline points="1143.55,876.5 1198.1,835.6 1252.65,797.9 1307.2,769.7 1361.75,773.9 1416.3,771.8 1470.85,766.6 1525.4,773.9" stroke="#2e8b57" stroke-width="5.2" stroke-linejoin="round" stroke-linecap="square"/>
</g>
<g clip-path="url(#cb3)" fill="none">
<polygon points="1642.1,865.4 1696.65,826.12 1751.2,786.84 1805.75,747.56 1860.3,708.28 1914.85,669 1969.4,640.7 2023.95,680.6 2023.95,751 1969.4,724.3 1914.85,754.5 1860.3,794.46 1805.75,834.42 1751.2,874.38 1696.65,914.34 1642.1,954.3" fill="#deb887" fill-opacity="0.1"/>
<polygon points="1642.1,873.7 1696.65,834 1751.2,794.3 1805.75,754.6 1860.3,714.9 1914.85,675.2 1969.4,647.5 2023.95,685.4 2023.95,755.8 1969.4,731.5 1914.85,761.3 1860.3,801.32 1805.75,841.34 1751.2,881.36 1696.65,921.38 1642.1,961.4" fill="#985a24" fill-opacity="0.1"/>
<polygon points="1642.1,890 1696.65,850.58 1751.2,811.16 1805.75,771.74 1860.3,732.32 1914.85,692.9 1969.4,664.5 2023.95,701.1 2023.95,765.4 1969.4,739.8 1914.85,769.5 1860.3,809.42 1805.75,849.34 1751.2,889.26 1696.65,929.18 1642.1,969.1" fill="#2e8b57" fill-opacity="0.1"/>
<polyline points="1642.1,865.4 1696.65,826.12 1751.2,786.84 1805.75,747.56 1860.3,708.28 1914.85,669 1969.4,640.7 2023.95,680.6" stroke="#deb887" stroke-width="1.75" stroke-dasharray="0.05 2.97" stroke-linecap="round"/>
<polyline points="1642.1,954.3 1696.65,914.34 1751.2,874.38 1805.75,834.42 1860.3,794.46 1914.85,754.5 1969.4,724.3 2023.95,751" stroke="#deb887" stroke-width="1.75" stroke-dasharray="0.05 2.97" stroke-linecap="round"/>
<polyline points="1642.1,905.7 1696.65,866.02 1751.2,826.34 1805.75,786.66 1860.3,746.98 1914.85,707.3 1969.4,677.2 2023.95,710" stroke="#deb887" stroke-width="5.2" stroke-linejoin="round" stroke-linecap="square"/>
<polyline points="1642.1,873.7 1696.65,834 1751.2,794.3 1805.75,754.6 1860.3,714.9 1914.85,675.2 1969.4,647.5 2023.95,685.4" stroke="#985a24" stroke-width="1.75" stroke-dasharray="0.05 2.97" stroke-linecap="round"/>
<polyline points="1642.1,961.4 1696.65,921.38 1751.2,881.36 1805.75,841.34 1860.3,801.32 1914.85,761.3 1969.4,731.5 2023.95,755.8" stroke="#985a24" stroke-width="1.75" stroke-dasharray="0.05 2.97" stroke-linecap="round"/>
<polyline points="1642.1,912.8 1696.65,873.02 1751.2,833.24 1805.75,793.46 1860.3,753.68 1914.85,713.9 1969.4,683.7 2023.95,717.1" stroke="#985a24" stroke-width="5.2" stroke-linejoin="round" stroke-linecap="square"/>
<polyline points="1642.1,890 1696.65,850.58 1751.2,811.16 1805.75,771.74 1860.3,732.32 1914.85,692.9 1969.4,664.5 2023.95,701.1" stroke="#2e8b57" stroke-width="1.75" stroke-dasharray="0.05 2.97" stroke-linecap="round"/>
<polyline points="1642.1,969.1 1696.65,929.18 1751.2,889.26 1805.75,849.34 1860.3,809.42 1914.85,769.5 1969.4,739.8 2023.95,765.4" stroke="#2e8b57" stroke-width="1.75" stroke-dasharray="0.05 2.97" stroke-linecap="round"/>
<polyline points="1642.1,926.8 1696.65,887.14 1751.2,847.48 1805.75,807.82 1860.3,768.16 1914.85,728.5 1969.4,698.8 2023.95,730.5" stroke="#2e8b57" stroke-width="5.2" stroke-linejoin="round" stroke-linecap="square"/>
</g>
<rect x="208.9" y="338" width="229.35" height="78.5" fill="#fff"/>
<rect x="208.9" y="341.9" width="113.12" height="20.4" fill="#2e8b57"/>
<rect x="208.9" y="367.3" width="131.69" height="20.4" fill="#985a24"/>
<rect x="208.9" y="392.7" width="134.9" height="20.4" fill="#deb887"/>
<path d="M290.8 352.1H361.7M306.4 377.5H389.8M310.9 402.9H392.7" stroke="#000" stroke-width="2.05" fill="none"/>
<circle cx="331.3" cy="352.1" r="4.45" fill="#000"/>
<circle cx="354.4" cy="377.5" r="4.45" fill="#000"/>
<circle cx="360.3" cy="402.9" r="4.45" fill="#000"/>
<path d="M203.5 352.1h5.4M203.5 377.5h5.4M203.5 402.9h5.4M208.9 416.5v5.4M285.33 416.5v5.4M361.76 416.5v5.4M438.19 416.5v5.4" stroke="#000" stroke-width="1.5" fill="none"/>
<rect x="208.9" y="338" width="229.35" height="78.5" fill="none" stroke="#000" stroke-width="1.55"/>
<g font-family='"DejaVu Sans", "Liberation Sans", sans-serif' font-size="24.5" text-anchor="middle" fill="#000" stroke="#000" stroke-width="0.12">
<text x="208.9" y="445.4">0</text>
<text x="285.33" y="445.4">1</text>
<text x="361.76" y="445.4">2</text>
<text x="438.19" y="445.4">3</text>
</g>
<g font-family='"Liberation Sans", sans-serif' text-anchor="middle" fill="#000" stroke="#000" stroke-width="0.5">
<text x="323.57" y="330" font-size="27.7">Policy Costs</text>
<text x="323.57" y="473.7" font-size="24.7">% of GDP</text>
</g>
<rect x="668.2" y="338" width="229.35" height="78.5" fill="#fff"/>
<rect x="668.2" y="341.9" width="73.37" height="20.4" fill="#2e8b57"/>
<rect x="668.2" y="367.3" width="87.67" height="20.4" fill="#985a24"/>
<rect x="668.2" y="392.7" width="102.72" height="20.4" fill="#deb887"/>
<path d="M712.9 352.1H770.6M720 377.5H803.5M726.9 402.9H838" stroke="#000" stroke-width="2.05" fill="none"/>
<circle cx="750.2" cy="352.1" r="4.45" fill="#000"/>
<circle cx="783.6" cy="377.5" r="4.45" fill="#000"/>
<circle cx="814.9" cy="402.9" r="4.45" fill="#000"/>
<path d="M662.8 352.1h5.4M662.8 377.5h5.4M662.8 402.9h5.4M668.2 416.5v5.4M744.63 416.5v5.4M821.06 416.5v5.4M897.49 416.5v5.4" stroke="#000" stroke-width="1.5" fill="none"/>
<rect x="668.2" y="338" width="229.35" height="78.5" fill="none" stroke="#000" stroke-width="1.55"/>
<g font-family='"DejaVu Sans", "Liberation Sans", sans-serif' font-size="24.5" text-anchor="middle" fill="#000" stroke="#000" stroke-width="0.12">
<text x="668.2" y="445.4">0</text>
<text x="744.63" y="445.4">1</text>
<text x="821.06" y="445.4">2</text>
<text x="897.49" y="445.4">3</text>
</g>
<g font-family='"Liberation Sans", sans-serif' text-anchor="middle" fill="#000" stroke="#000" stroke-width="0.5">
<text x="782.88" y="330" font-size="27.7">Policy Costs</text>
<text x="782.88" y="473.7" font-size="24.7">% of GDP</text>
</g>
<rect x="1169.1" y="338" width="229.35" height="78.5" fill="#fff"/>
<rect x="1169.1" y="341.9" width="74.14" height="20.4" fill="#2e8b57"/>
<rect x="1169.1" y="367.3" width="84.54" height="20.4" fill="#985a24"/>
<rect x="1169.1" y="392.7" width="85" height="20.4" fill="#deb887"/>
<path d="M1203.6 352.1H1315.8M1208.2 377.5H1339M1208.2 402.9H1342.7" stroke="#000" stroke-width="2.05" fill="none"/>
<circle cx="1305" cy="352.1" r="4.45" fill="#000"/>
<circle cx="1337.4" cy="377.5" r="4.45" fill="#000"/>
<circle cx="1348.5" cy="402.9" r="4.45" fill="#000"/>
<path d="M1163.7 352.1h5.4M1163.7 377.5h5.4M1163.7 402.9h5.4M1169.1 416.5v5.4M1245.53 416.5v5.4M1321.97 416.5v5.4M1398.4 416.5v5.4" stroke="#000" stroke-width="1.5" fill="none"/>
<rect x="1169.1" y="338" width="229.35" height="78.5" fill="none" stroke="#000" stroke-width="1.55"/>
<g font-family='"DejaVu Sans", "Liberation Sans", sans-serif' font-size="24.5" text-anchor="middle" fill="#000" stroke="#000" stroke-width="0.12">
<text x="1169.1" y="445.4">0.0</text>
<text x="1245.53" y="445.4">0.5</text>
<text x="1321.97" y="445.4">1.0</text>
<text x="1398.4" y="445.4">1.5</text>
</g>
<g font-family='"Liberation Sans", sans-serif' text-anchor="middle" fill="#000" stroke="#000" stroke-width="0.5">
<text x="1283.77" y="330" font-size="27.7">Policy Costs</text>
<text x="1283.77" y="473.7" font-size="24.7">% of GDP</text>
</g>
<rect x="1670.2" y="338" width="229.35" height="78.5" fill="#fff"/>
<rect x="1670.2" y="341.9" width="60.38" height="20.4" fill="#2e8b57"/>
<rect x="1670.2" y="367.3" width="66.65" height="20.4" fill="#985a24"/>
<rect x="1670.2" y="392.7" width="69.86" height="20.4" fill="#deb887"/>
<path d="M1701.4 352.1H1768.9M1704.8 377.5H1782M1704.8 402.9H1793" stroke="#000" stroke-width="2.05" fill="none"/>
<circle cx="1742.4" cy="352.1" r="4.45" fill="#000"/>
<circle cx="1753.7" cy="377.5" r="4.45" fill="#000"/>
<circle cx="1760.5" cy="402.9" r="4.45" fill="#000"/>
<path d="M1664.8 352.1h5.4M1664.8 377.5h5.4M1664.8 402.9h5.4M1670.2 416.5v5.4M1746.63 416.5v5.4M1823.07 416.5v5.4M1899.51 416.5v5.4" stroke="#000" stroke-width="1.5" fill="none"/>
<rect x="1670.2" y="338" width="229.35" height="78.5" fill="none" stroke="#000" stroke-width="1.55"/>
<g font-family='"DejaVu Sans", "Liberation Sans", sans-serif' font-size="24.5" text-anchor="middle" fill="#000" stroke="#000" stroke-width="0.12">
<text x="1670.2" y="445.4">0.0</text>
<text x="1746.63" y="445.4">0.5</text>
<text x="1823.07" y="445.4">1.0</text>
<text x="1899.51" y="445.4">1.5</text>
</g>
<g font-family='"Liberation Sans", sans-serif' text-anchor="middle" fill="#000" stroke="#000" stroke-width="0.5">
<text x="1784.88" y="330" font-size="27.7">Policy Costs</text>
<text x="1784.88" y="473.7" font-size="24.7">% of GDP</text>
</g>
<rect x="91.9" y="30.8" width="436.4" height="458.4" fill="none" stroke="#000" stroke-width="1.55"/>
<rect x="91.9" y="518.6" width="436.4" height="458.2" fill="none" stroke="#000" stroke-width="1.55"/>
<rect x="590.45" y="30.8" width="436.4" height="458.4" fill="none" stroke="#000" stroke-width="1.55"/>
<rect x="590.45" y="518.6" width="436.4" height="458.2" fill="none" stroke="#000" stroke-width="1.55"/>
<rect x="1089" y="30.8" width="436.4" height="458.4" fill="none" stroke="#000" stroke-width="1.55"/>
<rect x="1089" y="518.6" width="436.4" height="458.2" fill="none" stroke="#000" stroke-width="1.55"/>
<rect x="1587.55" y="30.8" width="436.4" height="458.4" fill="none" stroke="#000" stroke-width="1.55"/>
<rect x="1587.55" y="518.6" width="436.4" height="458.2" fill="none" stroke="#000" stroke-width="1.55"/>
<path d="M86.5 458.64h5.4M86.5 397.52h5.4M86.5 336.4h5.4M86.5 275.28h5.4M86.5 214.16h5.4M86.5 153.04h5.4M86.5 91.92h5.4M86.5 30.8h5.4M585.05 458.64h5.4M585.05 397.52h5.4M585.05 336.4h5.4M585.05 275.28h5.4M585.05 214.16h5.4M585.05 153.04h5.4M585.05 91.92h5.4M585.05 30.8h5.4M1083.6 458.64h5.4M1083.6 397.52h5.4M1083.6 336.4h5.4M1083.6 275.28h5.4M1083.6 214.16h5.4M1083.6 153.04h5.4M1083.6 91.92h5.4M1083.6 30.8h5.4M1582.15 458.64h5.4M1582.15 397.52h5.4M1582.15 336.4h5.4M1582.15 275.28h5.4M1582.15 214.16h5.4M1582.15 153.04h5.4M1582.15 91.92h5.4M1582.15 30.8h5.4M86.5 976.8h5.4M86.5 804.05h5.4M86.5 631.3h5.4M91.9 976.8v5.4M146.45 976.8v5.4M201 976.8v5.4M255.55 976.8v5.4M310.1 976.8v5.4M364.65 976.8v5.4M419.2 976.8v5.4M473.75 976.8v5.4M528.3 976.8v5.4M585.05 976.8h5.4M585.05 804.05h5.4M585.05 631.3h5.4M590.45 976.8v5.4M645 976.8v5.4M699.55 976.8v5.4M754.1 976.8v5.4M808.65 976.8v5.4M863.2 976.8v5.4M917.75 976.8v5.4M972.3 976.8v5.4M1026.85 976.8v5.4M1083.6 976.8h5.4M1083.6 804.05h5.4M1083.6 631.3h5.4M1089 976.8v5.4M1143.55 976.8v5.4M1198.1 976.8v5.4M1252.65 976.8v5.4M1307.2 976.8v5.4M1361.75 976.8v5.4M1416.3 976.8v5.4M1470.85 976.8v5.4M1525.4 976.8v5.4M1582.15 976.8h5.4M1582.15 804.05h5.4M1582.15 631.3h5.4M1587.55 976.8v5.4M1642.1 976.8v5.4M1696.65 976.8v5.4M1751.2 976.8v5.4M1805.75 976.8v5.4M1860.3 976.8v5.4M1914.85 976.8v5.4M1969.4 976.8v5.4M2023.95 976.8v5.4" stroke="#000" stroke-width="1.5" fill="none"/>
<path d="M88.6 924.8h3.3M88.6 894.38h3.3M88.6 872.79h3.3M88.6 856.05h3.3M88.6 842.37h3.3M88.6 830.81h3.3M88.6 820.79h3.3M88.6 811.95h3.3M88.6 752.05h3.3M88.6 721.63h3.3M88.6 700.04h3.3M88.6 683.3h3.3M88.6 669.62h3.3M88.6 658.06h3.3M88.6 648.04h3.3M88.6 639.2h3.3M88.6 579.3h3.3M88.6 548.88h3.3M88.6 527.29h3.3M587.15 924.8h3.3M587.15 894.38h3.3M587.15 872.79h3.3M587.15 856.05h3.3M587.15 842.37h3.3M587.15 830.81h3.3M587.15 820.79h3.3M587.15 811.95h3.3M587.15 752.05h3.3M587.15 721.63h3.3M587.15 700.04h3.3M587.15 683.3h3.3M587.15 669.62h3.3M587.15 658.06h3.3M587.15 648.04h3.3M587.15 639.2h3.3M587.15 579.3h3.3M587.15 548.88h3.3M587.15 527.29h3.3M1085.7 924.8h3.3M1085.7 894.38h3.3M1085.7 872.79h3.3M1085.7 856.05h3.3M1085.7 842.37h3.3M1085.7 830.81h3.3M1085.7 820.79h3.3M1085.7 811.95h3.3M1085.7 752.05h3.3M1085.7 721.63h3.3M1085.7 700.04h3.3M1085.7 683.3h3.3M1085.7 669.62h3.3M1085.7 658.06h3.3M1085.7 648.04h3.3M1085.7 639.2h3.3M1085.7 579.3h3.3M1085.7 548.88h3.3M1085.7 527.29h3.3M1584.25 924.8h3.3M1584.25 894.38h3.3M1584.25 872.79h3.3M1584.25 856.05h3.3M1584.25 842.37h3.3M1584.25 830.81h3.3M1584.25 820.79h3.3M1584.25 811.95h3.3M1584.25 752.05h3.3M1584.25 721.63h3.3M1584.25 700.04h3.3M1584.25 683.3h3.3M1584.25 669.62h3.3M1584.25 658.06h3.3M1584.25 648.04h3.3M1584.25 639.2h3.3M1584.25 579.3h3.3M1584.25 548.88h3.3M1584.25 527.29h3.3" stroke="#000" stroke-width="1.1" fill="none"/>
<g font-family='"Liberation Sans", sans-serif' fill="#000" stroke="#000" stroke-width="0.5">
<text x="310.1" y="22" font-size="30.5" text-anchor="middle">1.5°C with medium overshoot</text>
<text x="808.65" y="22" font-size="30.5" text-anchor="middle">1.5°C with high overshoot</text>
<text x="1307.2" y="22" font-size="30.5" text-anchor="middle">2°C</text>
<text x="1805.75" y="22" font-size="30.5" text-anchor="middle">2°C with high overshoot</text>
<text x="523.7" y="58.4" font-size="30.5" font-weight="bold" text-anchor="end">a</text>
<text x="1022.25" y="58.4" font-size="30.5" font-weight="bold" text-anchor="end">b</text>
<text x="1520.8" y="58.4" font-size="30.5" font-weight="bold" text-anchor="end">c</text>
<text x="2019.35" y="58.4" font-size="30.5" font-weight="bold" text-anchor="end">d</text>
<text x="523.7" y="546.2" font-size="30.5" font-weight="bold" text-anchor="end">e</text>
<text x="1022.25" y="546.2" font-size="30.5" font-weight="bold" text-anchor="end">f</text>
<text x="1520.8" y="546.2" font-size="30.5" font-weight="bold" text-anchor="end">g</text>
<text x="2019.35" y="546.2" font-size="30.5" font-weight="bold" text-anchor="end">h</text>
<text x="82" y="467.64" font-size="24.8" text-anchor="end">1.1</text>
<text x="82" y="406.52" font-size="24.8" text-anchor="end">1.3</text>
<text x="82" y="345.4" font-size="24.8" text-anchor="end">1.5</text>
<text x="82" y="284.28" font-size="24.8" text-anchor="end">1.7</text>
<text x="82" y="223.16" font-size="24.8" text-anchor="end">1.9</text>
<text x="82" y="162.04" font-size="24.8" text-anchor="end">2.1</text>
<text x="82" y="100.92" font-size="24.8" text-anchor="end">2.3</text>
<text x="82" y="39.8" font-size="24.8" text-anchor="end">2.5</text>
<text x="91.9" y="1005.6" font-size="24.8" text-anchor="middle">2020</text>
<text x="201" y="1005.6" font-size="24.8" text-anchor="middle">2040</text>
<text x="310.1" y="1005.6" font-size="24.8" text-anchor="middle">2060</text>
<text x="419.2" y="1005.6" font-size="24.8" text-anchor="middle">2080</text>
<text x="528.3" y="1005.6" font-size="24.8" text-anchor="middle">2100</text>
<text x="590.45" y="1005.6" font-size="24.8" text-anchor="middle">2020</text>
<text x="699.55" y="1005.6" font-size="24.8" text-anchor="middle">2040</text>
<text x="808.65" y="1005.6" font-size="24.8" text-anchor="middle">2060</text>
<text x="917.75" y="1005.6" font-size="24.8" text-anchor="middle">2080</text>
<text x="1026.85" y="1005.6" font-size="24.8" text-anchor="middle">2100</text>
<text x="1089" y="1005.6" font-size="24.8" text-anchor="middle">2020</text>
<text x="1198.1" y="1005.6" font-size="24.8" text-anchor="middle">2040</text>
<text x="1307.2" y="1005.6" font-size="24.8" text-anchor="middle">2060</text>
<text x="1416.3" y="1005.6" font-size="24.8" text-anchor="middle">2080</text>
<text x="1525.4" y="1005.6" font-size="24.8" text-anchor="middle">2100</text>
<text x="1587.55" y="1005.6" font-size="24.8" text-anchor="middle">2020</text>
<text x="1696.65" y="1005.6" font-size="24.8" text-anchor="middle">2040</text>
<text x="1805.75" y="1005.6" font-size="24.8" text-anchor="middle">2060</text>
<text x="1914.85" y="1005.6" font-size="24.8" text-anchor="middle">2080</text>
<text x="2023.95" y="1005.6" font-size="24.8" text-anchor="middle">2100</text>
<text transform="translate(36.1 260.2) rotate(-90)" font-size="27.7" text-anchor="middle">Temperature change (°C)</text>
<text transform="translate(24.6 970) rotate(-90)" font-size="27.5"><tspan x="0" y="0">shadow price of carbon </tspan><tspan x="290.6" y="0" font-family='"DejaVu Sans", "Liberation Sans", sans-serif' font-size="27.6" stroke-width="0.12">USD. </tspan><tspan x="364" y="0" font-family='"DejaVu Sans", "Liberation Sans", sans-serif' font-size="27.6" stroke-width="0.12">tCO</tspan><tspan x="416.6" y="8.7" font-family='"DejaVu Sans", "Liberation Sans", sans-serif' font-size="19.4" stroke-width="0.12">2</tspan><tspan x="416.6" y="-10.3" font-family='"DejaVu Sans", "Liberation Sans", sans-serif' font-size="19.4" stroke-width="0.12">−1</tspan></text>
</g>
<g font-family='"DejaVu Sans", "Liberation Sans", sans-serif' fill="#000" stroke="#000" stroke-width="0.12">
<text x="38.3" y="986.2" font-size="25">10<tspan x="70" y="977" font-size="17.8">1</tspan></text>
<text x="38.3" y="813.45" font-size="25">10<tspan x="70" y="804.25" font-size="17.8">2</tspan></text>
<text x="38.3" y="640.7" font-size="25">10<tspan x="70" y="631.5" font-size="17.8">3</tspan></text>
</g>
<rect x="695" y="1042.1" width="834.9" height="54" rx="4.6" fill="#fff" stroke="#d4d4d4" stroke-width="2"/>
<path d="M704.7 1067.1h65.5" stroke="#deb887" stroke-width="5.1" fill="none"/>
<path d="M951.5 1067.1h65.5" stroke="#985a24" stroke-width="5.1" fill="none"/>
<path d="M1242.2 1067.1h65.5" stroke="#2e8b57" stroke-width="5.1" fill="none"/>
<g font-family='"DejaVu Sans", "Liberation Sans", sans-serif' font-size="30.5" fill="#000" stroke="#000" stroke-width="0.3">
<text x="792.3" y="1078.4">No EW</text>
<text x="1039.3" y="1078.4">EW on CL</text>
<text x="1329.5" y="1078.4">EW on CL+F</text>
</g>
</svg></body></html>
